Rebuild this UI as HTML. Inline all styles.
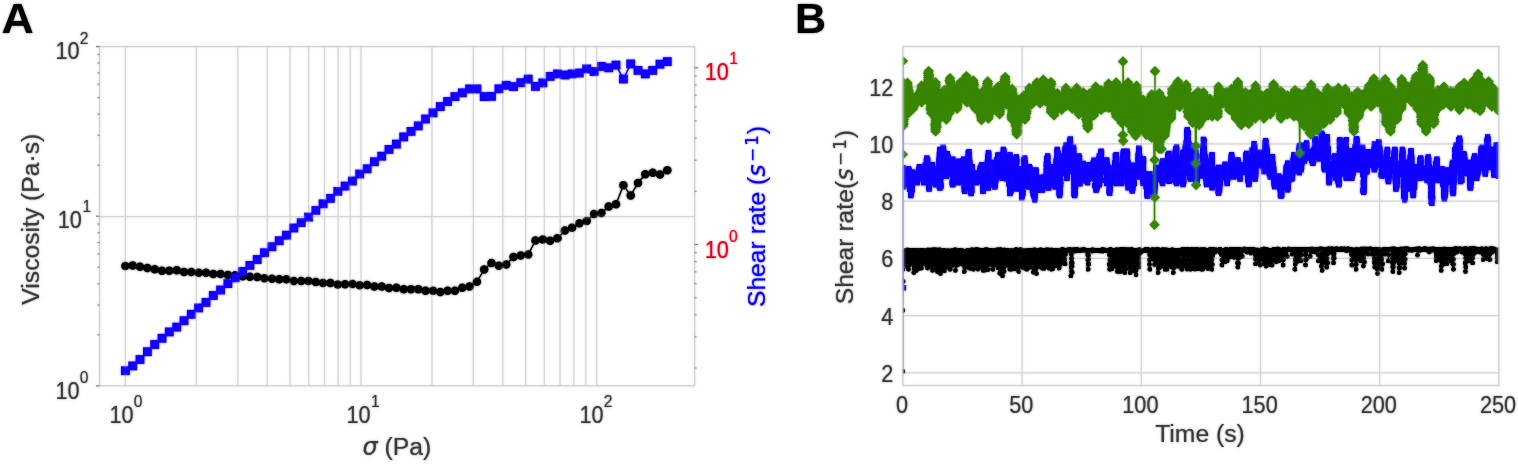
<!DOCTYPE html>
<html lang="en">
<head>
<meta charset="utf-8">
<title>Viscosity and shear rate figure</title>
<style>
html,body{margin:0;padding:0;background:#fff;}
body{width:1518px;height:464px;overflow:hidden;}
svg{display:block;}
</style>
</head>
<body>
<svg width="1518" height="464" viewBox="0 0 1518 464">
<defs><filter id="soft" x="0" y="0" width="1518" height="464" filterUnits="userSpaceOnUse"><feGaussianBlur stdDeviation="0.8"/></filter></defs>
<rect width="1518" height="464" fill="#fff"/>
<g id="fig">
<g id="panelA">
<path d="M125.4 46.6V385.8M196.3 46.6V385.8M237.8 46.6V385.8M267.2 46.6V385.8M290.1 46.6V385.8M308.7 46.6V385.8M324.5 46.6V385.8M338.2 46.6V385.8M350.2 46.6V385.8M361 46.6V385.8M431.9 46.6V385.8M473.4 46.6V385.8M502.8 46.6V385.8M525.7 46.6V385.8M544.3 46.6V385.8M560.1 46.6V385.8M573.8 46.6V385.8M585.8 46.6V385.8M596.6 46.6V385.8M99.5 216.7H694.6" fill="none" stroke="#d6d6d6" stroke-width="1.2"/>
<polyline fill="none" stroke="#000" stroke-width="1.4" points="125.4,265.9 132.7,265.5 140,266.7 147.4,268.1 154.7,269.3 162,270.7 169.3,270.7 176.7,270.3 184,271.9 191.3,271.9 198.6,272.8 206,272.8 213.3,274.1 220.6,274.1 227.9,275 235.2,275.3 242.6,276.2 249.9,276.7 257.2,277.1 264.5,278.3 271.9,278.8 279.2,279.3 286.5,279.3 293.8,280.9 301.2,280.9 308.5,280.9 315.8,281.9 323.1,283.1 330.4,283 337.8,284.4 345.1,284.3 352.4,283.9 359.7,285.3 367.1,285 374.4,286.6 381.7,286.6 389,287.9 396.4,287.7 403.7,289.3 411,289.3 418.3,289.3 425.6,290.7 433,290.7 440.3,292 447.6,290.7 454.9,290.7 462.3,287.7 469.6,286.6 476.9,281.8 484.2,269.4 491.5,263 498.9,265.7 506.2,264.4 513.5,256.9 520.8,255.6 528.2,254.5 535.5,240.5 542.8,239.6 550.1,240.7 557.5,238.3 564.8,230.6 572.1,227.8 579.4,223.2 586.7,221.1 594.1,213.9 601.4,212.9 608.7,206.6 616,204.2 623.4,185.2 630.7,195.4 638,183 645.3,174.2 652.7,172.8 660,174.6 667.3,170.3"/>
<g fill="#000"><circle cx="125.4" cy="265.9" r="4.25"/><circle cx="132.7" cy="265.5" r="4.25"/><circle cx="140" cy="266.7" r="4.25"/><circle cx="147.4" cy="268.1" r="4.25"/><circle cx="154.7" cy="269.3" r="4.25"/><circle cx="162" cy="270.7" r="4.25"/><circle cx="169.3" cy="270.7" r="4.25"/><circle cx="176.7" cy="270.3" r="4.25"/><circle cx="184" cy="271.9" r="4.25"/><circle cx="191.3" cy="271.9" r="4.25"/><circle cx="198.6" cy="272.8" r="4.25"/><circle cx="206" cy="272.8" r="4.25"/><circle cx="213.3" cy="274.1" r="4.25"/><circle cx="220.6" cy="274.1" r="4.25"/><circle cx="227.9" cy="275" r="4.25"/><circle cx="235.2" cy="275.3" r="4.25"/><circle cx="242.6" cy="276.2" r="4.25"/><circle cx="249.9" cy="276.7" r="4.25"/><circle cx="257.2" cy="277.1" r="4.25"/><circle cx="264.5" cy="278.3" r="4.25"/><circle cx="271.9" cy="278.8" r="4.25"/><circle cx="279.2" cy="279.3" r="4.25"/><circle cx="286.5" cy="279.3" r="4.25"/><circle cx="293.8" cy="280.9" r="4.25"/><circle cx="301.2" cy="280.9" r="4.25"/><circle cx="308.5" cy="280.9" r="4.25"/><circle cx="315.8" cy="281.9" r="4.25"/><circle cx="323.1" cy="283.1" r="4.25"/><circle cx="330.4" cy="283" r="4.25"/><circle cx="337.8" cy="284.4" r="4.25"/><circle cx="345.1" cy="284.3" r="4.25"/><circle cx="352.4" cy="283.9" r="4.25"/><circle cx="359.7" cy="285.3" r="4.25"/><circle cx="367.1" cy="285" r="4.25"/><circle cx="374.4" cy="286.6" r="4.25"/><circle cx="381.7" cy="286.6" r="4.25"/><circle cx="389" cy="287.9" r="4.25"/><circle cx="396.4" cy="287.7" r="4.25"/><circle cx="403.7" cy="289.3" r="4.25"/><circle cx="411" cy="289.3" r="4.25"/><circle cx="418.3" cy="289.3" r="4.25"/><circle cx="425.6" cy="290.7" r="4.25"/><circle cx="433" cy="290.7" r="4.25"/><circle cx="440.3" cy="292" r="4.25"/><circle cx="447.6" cy="290.7" r="4.25"/><circle cx="454.9" cy="290.7" r="4.25"/><circle cx="462.3" cy="287.7" r="4.25"/><circle cx="469.6" cy="286.6" r="4.25"/><circle cx="476.9" cy="281.8" r="4.25"/><circle cx="484.2" cy="269.4" r="4.25"/><circle cx="491.5" cy="263" r="4.25"/><circle cx="498.9" cy="265.7" r="4.25"/><circle cx="506.2" cy="264.4" r="4.25"/><circle cx="513.5" cy="256.9" r="4.25"/><circle cx="520.8" cy="255.6" r="4.25"/><circle cx="528.2" cy="254.5" r="4.25"/><circle cx="535.5" cy="240.5" r="4.25"/><circle cx="542.8" cy="239.6" r="4.25"/><circle cx="550.1" cy="240.7" r="4.25"/><circle cx="557.5" cy="238.3" r="4.25"/><circle cx="564.8" cy="230.6" r="4.25"/><circle cx="572.1" cy="227.8" r="4.25"/><circle cx="579.4" cy="223.2" r="4.25"/><circle cx="586.7" cy="221.1" r="4.25"/><circle cx="594.1" cy="213.9" r="4.25"/><circle cx="601.4" cy="212.9" r="4.25"/><circle cx="608.7" cy="206.6" r="4.25"/><circle cx="616" cy="204.2" r="4.25"/><circle cx="623.4" cy="185.2" r="4.25"/><circle cx="630.7" cy="195.4" r="4.25"/><circle cx="638" cy="183" r="4.25"/><circle cx="645.3" cy="174.2" r="4.25"/><circle cx="652.7" cy="172.8" r="4.25"/><circle cx="660" cy="174.6" r="4.25"/><circle cx="667.3" cy="170.3" r="4.25"/></g>
<rect x="99.5" y="46.6" width="595.1" height="339.2" fill="none" stroke="#d2d2d2" stroke-width="1.3"/>
<polyline fill="none" stroke="#0a00ff" stroke-width="1.4" points="125.4,370.7 132.7,365.9 140,359.5 147.4,351.7 154.7,344.5 162,338.3 169.3,331.9 176.7,327.1 184,320.7 191.3,314.3 198.6,307.9 206,302.4 213.3,295.5 220.6,290 227.9,283.6 235.2,277.8 242.6,271.4 249.9,265.4 257.2,259.5 264.5,252.7 271.9,246.7 279.2,240.7 286.5,235.2 293.8,228 301.2,222.5 308.5,217.1 315.8,210.5 323.1,203.8 330.4,198.4 337.8,191.4 345.1,186.1 352.4,181 359.7,174 367.1,168.8 374.4,161.7 381.7,156.2 389,149.4 396.4,144.1 403.7,136.9 411,131.4 418.3,125.9 425.6,119 433,112.8 440.3,106.6 447.6,101.5 454.9,96.6 462.3,92.8 469.6,88.9 476.9,88.9 484.2,96.6 491.5,96.4 498.9,88.8 506.2,85.3 513.5,86.6 520.8,82.7 528.2,79.1 535.5,86.4 542.8,82.9 550.1,76.4 557.5,73.9 564.8,75 572.1,73.9 579.4,73 586.7,68.9 594.1,71.5 601.4,66.4 608.7,67.8 616,65.1 623.4,79 630.7,63.9 638,70.4 645.3,73.9 652.7,70.4 660,64.2 667.3,61.6"/>
<g fill="#1200ff"><rect x="121" y="366.3" width="8.8" height="8.8"/><rect x="128.3" y="361.5" width="8.8" height="8.8"/><rect x="135.6" y="355.1" width="8.8" height="8.8"/><rect x="143" y="347.3" width="8.8" height="8.8"/><rect x="150.3" y="340.1" width="8.8" height="8.8"/><rect x="157.6" y="333.9" width="8.8" height="8.8"/><rect x="164.9" y="327.5" width="8.8" height="8.8"/><rect x="172.3" y="322.7" width="8.8" height="8.8"/><rect x="179.6" y="316.3" width="8.8" height="8.8"/><rect x="186.9" y="309.9" width="8.8" height="8.8"/><rect x="194.2" y="303.5" width="8.8" height="8.8"/><rect x="201.6" y="298" width="8.8" height="8.8"/><rect x="208.9" y="291.1" width="8.8" height="8.8"/><rect x="216.2" y="285.6" width="8.8" height="8.8"/><rect x="223.5" y="279.2" width="8.8" height="8.8"/><rect x="230.8" y="273.4" width="8.8" height="8.8"/><rect x="238.2" y="267" width="8.8" height="8.8"/><rect x="245.5" y="261" width="8.8" height="8.8"/><rect x="252.8" y="255.1" width="8.8" height="8.8"/><rect x="260.1" y="248.3" width="8.8" height="8.8"/><rect x="267.5" y="242.3" width="8.8" height="8.8"/><rect x="274.8" y="236.3" width="8.8" height="8.8"/><rect x="282.1" y="230.8" width="8.8" height="8.8"/><rect x="289.4" y="223.6" width="8.8" height="8.8"/><rect x="296.8" y="218.1" width="8.8" height="8.8"/><rect x="304.1" y="212.7" width="8.8" height="8.8"/><rect x="311.4" y="206.1" width="8.8" height="8.8"/><rect x="318.7" y="199.4" width="8.8" height="8.8"/><rect x="326" y="194" width="8.8" height="8.8"/><rect x="333.4" y="187" width="8.8" height="8.8"/><rect x="340.7" y="181.7" width="8.8" height="8.8"/><rect x="348" y="176.6" width="8.8" height="8.8"/><rect x="355.3" y="169.6" width="8.8" height="8.8"/><rect x="362.7" y="164.4" width="8.8" height="8.8"/><rect x="370" y="157.3" width="8.8" height="8.8"/><rect x="377.3" y="151.8" width="8.8" height="8.8"/><rect x="384.6" y="145" width="8.8" height="8.8"/><rect x="392" y="139.7" width="8.8" height="8.8"/><rect x="399.3" y="132.5" width="8.8" height="8.8"/><rect x="406.6" y="127" width="8.8" height="8.8"/><rect x="413.9" y="121.5" width="8.8" height="8.8"/><rect x="421.2" y="114.6" width="8.8" height="8.8"/><rect x="428.6" y="108.4" width="8.8" height="8.8"/><rect x="435.9" y="102.2" width="8.8" height="8.8"/><rect x="443.2" y="97.1" width="8.8" height="8.8"/><rect x="450.5" y="92.2" width="8.8" height="8.8"/><rect x="457.9" y="88.4" width="8.8" height="8.8"/><rect x="465.2" y="84.5" width="8.8" height="8.8"/><rect x="472.5" y="84.5" width="8.8" height="8.8"/><rect x="479.8" y="92.2" width="8.8" height="8.8"/><rect x="487.1" y="92" width="8.8" height="8.8"/><rect x="494.5" y="84.4" width="8.8" height="8.8"/><rect x="501.8" y="80.9" width="8.8" height="8.8"/><rect x="509.1" y="82.2" width="8.8" height="8.8"/><rect x="516.4" y="78.3" width="8.8" height="8.8"/><rect x="523.8" y="74.7" width="8.8" height="8.8"/><rect x="531.1" y="82" width="8.8" height="8.8"/><rect x="538.4" y="78.5" width="8.8" height="8.8"/><rect x="545.7" y="72" width="8.8" height="8.8"/><rect x="553.1" y="69.5" width="8.8" height="8.8"/><rect x="560.4" y="70.6" width="8.8" height="8.8"/><rect x="567.7" y="69.5" width="8.8" height="8.8"/><rect x="575" y="68.6" width="8.8" height="8.8"/><rect x="582.3" y="64.5" width="8.8" height="8.8"/><rect x="589.7" y="67.1" width="8.8" height="8.8"/><rect x="597" y="62" width="8.8" height="8.8"/><rect x="604.3" y="63.4" width="8.8" height="8.8"/><rect x="611.6" y="60.7" width="8.8" height="8.8"/><rect x="619" y="74.6" width="8.8" height="8.8"/><rect x="626.3" y="59.5" width="8.8" height="8.8"/><rect x="633.6" y="66" width="8.8" height="8.8"/><rect x="640.9" y="69.5" width="8.8" height="8.8"/><rect x="648.3" y="66" width="8.8" height="8.8"/><rect x="655.6" y="59.8" width="8.8" height="8.8"/><rect x="662.9" y="57.2" width="8.8" height="8.8"/></g>
<path d="M96 385.9H99.5M96 216.2H99.5M96 46.6H99.5M97.5 334.8H99.5M97.5 305H99.5M97.5 283.8H99.5M97.5 267.3H99.5M97.5 253.9H99.5M97.5 242.5H99.5M97.5 232.7H99.5M97.5 224H99.5M97.5 165.2H99.5M97.5 135.3H99.5M97.5 114.1H99.5M97.5 97.7H99.5M97.5 84.2H99.5M97.5 72.9H99.5M97.5 63H99.5M97.5 54.4H99.5M694.6 244.5H698.1M694.6 67.8H698.1M694.6 368H696.6M694.6 336.9H696.6M694.6 314.8H696.6M694.6 297.7H696.6M694.6 283.7H696.6M694.6 271.9H696.6M694.6 261.6H696.6M694.6 252.6H696.6M694.6 191.3H696.6M694.6 160.2H696.6M694.6 138.1H696.6M694.6 121H696.6M694.6 107H696.6M694.6 95.2H696.6M694.6 84.9H696.6M694.6 75.9H696.6" fill="none" stroke="#707070" stroke-width="1.0"/>
<g font-family="'Liberation Sans', Arial, Helvetica, sans-serif" stroke-width="0.12" stroke-linejoin="round">
<text transform="translate(79.6,59.3) scale(0.89,1)" font-size="24.4" fill="#3c3c3c" stroke="#3c3c3c" text-anchor="end">10</text><text x="79.8" y="43.7" font-size="15.6" fill="#3c3c3c" stroke="#3c3c3c">2</text>
<text transform="translate(81.8,228) scale(0.89,1)" font-size="24.4" fill="#3c3c3c" stroke="#3c3c3c" text-anchor="end">10</text><text x="82.6" y="212.4" font-size="15.6" fill="#3c3c3c" stroke="#3c3c3c">1</text>
<text transform="translate(79.6,398.9) scale(0.89,1)" font-size="24.4" fill="#3c3c3c" stroke="#3c3c3c" text-anchor="end">10</text><text x="79.8" y="383.3" font-size="15.6" fill="#3c3c3c" stroke="#3c3c3c">0</text>
<text transform="translate(133.6,422.7) scale(0.89,1)" font-size="24.4" fill="#3c3c3c" stroke="#3c3c3c" text-anchor="end">10</text><text x="133.8" y="407.1" font-size="15.6" fill="#3c3c3c" stroke="#3c3c3c">0</text>
<text transform="translate(370.6,422.7) scale(0.89,1)" font-size="24.4" fill="#3c3c3c" stroke="#3c3c3c" text-anchor="end">10</text><text x="371" y="407.1" font-size="15.6" fill="#3c3c3c" stroke="#3c3c3c">1</text>
<text transform="translate(603.6,422.7) scale(0.89,1)" font-size="24.4" fill="#3c3c3c" stroke="#3c3c3c" text-anchor="end">10</text><text x="603.8" y="407.1" font-size="15.6" fill="#3c3c3c" stroke="#3c3c3c">2</text>
<text transform="translate(728.8,79.8) scale(0.89,1)" font-size="24.4" fill="#e8001e" stroke="#e8001e" text-anchor="end">10</text><text x="729.2" y="64.2" font-size="15.6" fill="#e8001e" stroke="#e8001e">1</text>
<text transform="translate(728.8,257.8) scale(0.89,1)" font-size="24.4" fill="#e8001e" stroke="#e8001e" text-anchor="end">10</text><text x="729" y="242.2" font-size="15.6" fill="#e8001e" stroke="#e8001e">0</text>
<text x="396.8" y="455.3" font-size="24.7" fill="#3c3c3c" stroke="#3c3c3c" text-anchor="middle"><tspan font-style="italic" font-family="'DejaVu Sans', 'Liberation Sans', sans-serif" font-size="24.0">σ</tspan> (Pa)</text>
<text transform="translate(39.4,219.2) rotate(-90)" font-size="24.7" fill="#3c3c3c" stroke="#3c3c3c" text-anchor="middle">Viscosity (Pa·s)</text>
<text transform="translate(765.2,216.5) rotate(-90)" font-size="24.7" fill="#0a00ff" stroke="#0a00ff" text-anchor="middle">Shear rate (<tspan font-family="'DejaVu Sans', 'Liberation Sans', sans-serif" font-style="italic" font-size="24.0">s</tspan><tspan font-family="'DejaVu Sans', 'Liberation Sans', sans-serif" dx="2.3" dy="-7" font-size="16.8">−</tspan><tspan font-family="'DejaVu Sans', 'Liberation Sans', sans-serif" dx="2.2" font-size="16.8">1</tspan><tspan dx="0.8" dy="7">)</tspan></text>
</g>
</g>
<g id="panelB">
<path d="M1022.1 46.5V385.5M1141.3 46.5V385.5M1260.5 46.5V385.5M1379.7 46.5V385.5M902.9 372.8H1498.9M902.9 315.6H1498.9M902.9 258.3H1498.9M902.9 201.1H1498.9M902.9 143.8H1498.9M902.9 86.6H1498.9" fill="none" stroke="#d6d6d6" stroke-width="1.2"/>
<clipPath id="clipB"><rect x="902.9" y="46.5" width="596" height="339"/></clipPath>
<defs><marker id="mD" markerUnits="userSpaceOnUse" markerWidth="12" markerHeight="12" refX="6" refY="6" viewBox="0 0 12 12"><path d="M6 0.8L11.2 6L6 11.2L0.8 6Z" fill="#388600"/></marker><marker id="mS" markerUnits="userSpaceOnUse" markerWidth="6" markerHeight="6" refX="3" refY="3" viewBox="0 0 6 6"><rect x="0.3" y="0.3" width="5.4" height="5.4" fill="#1200ff"/></marker><marker id="mC" markerUnits="userSpaceOnUse" markerWidth="5" markerHeight="5" refX="2.5" refY="2.5" viewBox="0 0 5 5"><circle cx="2.5" cy="2.5" r="2.4" fill="#000"/></marker></defs>
<g clip-path="url(#clipB)">
<path d="M902.9 371.4L902.9 310.4L903.2 281.5L902.9 255.3L903.2 260L902.9 264.6L902.9 269.3L903.6 264.3L903.4 259.8L903.1 254.3L903.5 251L905.2 255L904.6 259.3L904.7 263.7L905.8 254.8L905.6 250.5L906.9 254.7L907.1 258.8L906.8 262.9L907.4 267L907.8 263.1L907.3 258.1L906.9 254.8L907.4 249.8L908.5 255.3L908.4 260L908.5 264.6L908.5 269.3L909.6 264.8L908.9 259.1L908.9 254.8L909.1 250.1L910.1 250.7L911.1 254.7L911.4 258.8L911 262.9L911.3 259.3L912.1 255.5L911.7 250.7L912.8 250L914.1 255L914.1 259.4L914.2 263.8L914 268.2L913.8 272.6L914.9 268.4L914 264L914.5 258.4L915 255.1L914.5 250.9L915.2 251.3L916.2 255.6L916.5 260.6L915.5 265.6L916.4 270.6L916.6 265.8L916.8 260.3L916.3 256.2L916.7 250.1L917.7 255.9L917.9 261.2L918.9 255.7L918.4 251.2L919.6 255L919.2 259.5L919.6 263.9L919.2 268.4L919.8 259.4L919.8 255.8L919.8 250.4L920.6 251.4L921.6 255L920.8 259.4L921.2 263.8L921.4 268.2L922.3 263.7L921.9 258.5L922.4 255.2L922.1 250.2L923 250.7L924.1 254.4L923.5 258.3L924.3 262.2L924.8 258L924.6 250.6L925.3 256.1L925.1 261.6L925.5 256.3L925.6 251.4L926.8 255.4L926.8 260.2L926.6 265.1L927 259.7L926.7 256.1L926.9 250.7L927.6 254.9L927.6 259.3L927.4 263.7L927.5 268.1L928 263.2L927.9 260.3L928.2 255.6L928.1 249.9L928.7 256L928.6 261.5L929.2 255.5L929.2 251.3L930 254.6L929.7 258.7L930.2 262.7L930.1 266.8L929.5 263L930.2 258.3L930.1 253.7L930.3 250.4L931.2 249.8L932.4 255.5L932.6 260.5L932.2 265.4L932.5 270.4L933.1 264.7L932.9 256.1L932.8 250.7L933.6 249.7L934.4 251.3L935.2 255.2L935.4 259.8L935.5 264.5L935.5 269.2L936.2 265L935.9 259.7L936.4 255.1L935.8 249.7L937.4 254.7L937.5 258.9L937.1 263.1L937.1 267.3L937.4 271.5L938 267.8L937.4 263.6L938 258.2L937.8 251.3L939.2 254.8L938.8 259.2L938.9 263.5L938.3 267.8L938.8 272.2L939.3 268.3L939.6 264.3L939.2 260.1L939.2 255.4L939.3 249.6L940 251L941.2 255.1L941.1 259.8L940.9 264.4L941.2 269L940.5 273.6L941.8 263.6L941.5 260.2L941.4 255.2L941.4 251L943.3 255.3L943.5 260L943.1 264.7L943 269.5L943.5 265L943.4 259.3L943.6 255.6L943.5 250L944.4 254.6L944.2 258.7L944.2 262.8L944.3 266.9L944.3 270.9L945.1 267.8L945 262.3L944.8 258.9L944.9 254L944.8 251.1L945.6 255.4L945.3 260.3L945.6 265.2L945.6 260.9L946.5 254.8L946 250.8L947.1 255.3L946.6 260.1L946.7 264.9L946.9 260.6L947.2 251L947.5 254.7L947.3 258.8L947.7 263L947.8 267.2L948 263.6L947.5 258.2L948.3 254.5L948.1 250.6L949.3 255.2L949.6 259.9L950.1 264.6L950.2 269.3L949.6 264.2L950.2 260.4L949.8 255.1L950.1 250.9L951.2 254.4L952 258.3L951.4 262.2L952.1 257.7L952 253.6L952 250.6L952.6 255.4L952.9 260.4L953 265.3L953.5 260.3L953.2 255.6L953.2 250.6L954.1 254.6L954.1 258.8L953.3 263L954.1 259.4L954.3 255L954.3 250.4L955.1 249.7L955.8 255.5L955.9 260.4L956.4 265.4L955.4 270.4L956.9 261.2L956.8 254.7L956.5 250.7L957.7 255.1L957.8 259.7L957.8 264.4L958.6 259L958.4 254.9L958.5 250.6L959.2 255L959.2 259.5L959.1 264L960.1 258.9L959.7 250.2L960.9 254.8L960.7 259.2L960.9 263.5L960.8 259L961.1 255.1L961.2 250.6L962.2 255L962.2 259.5L961.9 264.1L962.3 260L962.7 250.6L963.6 251.1L965 254.7L964.8 258.9L965.1 263.1L964.7 267.3L964.3 271.5L965.6 262.2L965.3 259.4L965 254.7L965.2 251.3L966 251.1L967.4 254.6L967.3 258.8L967 262.9L967.8 259.6L967.9 253.9L967.6 250.2L968.2 254.7L969.2 258.9L969.1 263.1L968.3 267.3L969.2 262.7L969.7 258.7L969.7 253.9L969.4 251.1L970.1 254.9L970.1 259.4L969.9 263.8L970.2 268.3L970.2 263.8L970 255.4L970.6 250.6L971.6 255.6L971.3 260.8L972.1 256L971.8 249.6L973.4 255.2L973.3 259.9L973.5 264.6L973.4 269.3L973.9 264.2L973.4 260.4L973.8 250.8L974.5 249.9L975.2 250.2L976 254.3L976.1 258.2L976 262.1L976.3 257.7L976.8 255L976.6 249.5L977.4 254.7L977.3 258.9L977.2 263.2L977.3 267.4L977.5 259.5L978.1 255.1L977.8 250.7L978.2 255.1L978.4 259.7L978.6 264.3L978.1 269L978.6 259.9L978.9 255.1L978.8 249.8L979.6 254.6L980.1 258.7L980 262.9L979.9 267.1L980.2 255.4L980.2 250L981.1 254.5L981.2 258.5L981.2 262.5L981.4 258.7L981.5 254.4L981.5 250.4L983.1 255.4L983 260.4L983 265.4L983.2 270.4L984.3 259.9L983.2 254.8L983.5 250L984.8 255.3L984.8 260.2L985 265.1L984.8 270L985.5 265.8L985 259.6L985.5 254.5L985.5 249.7L986.6 255.2L986.8 260L986.8 264.8L987.7 259.1L986.9 249.7L987.7 255.2L987.9 260L987.7 264.8L988.1 269.6L988.4 264.2L988.3 256.1L988.2 251.1L988.9 255.2L988.5 260.1L988.8 264.9L989.4 255L989.1 250.8L989.8 254.6L989.9 258.8L989.8 263L990.1 258.4L990.2 254.7L990.2 250L991 251.2L991.7 250.2L993 255.1L992.6 259.9L992.9 264.6L992.8 269.3L993 265.5L993.3 259.3L993.2 255L993.2 251.2L994.3 255.1L994.4 259.9L994.1 264.6L994.8 259.2L995.3 255.6L994.8 250.5L995.6 255.2L995.5 260.1L995.8 265L996 256.1L996.3 250.9L997.2 255.2L997.3 260.1L997 264.9L997.3 260L997.5 249.6L997.7 254.7L998.3 259.1L997.9 263.4L998.2 267.7L998.5 263.3L998.5 258.5L998.7 254.8L998.5 251L999.9 255L999.9 259.5L1000.3 264.1L1000.2 268.7L999.8 273.3L1000.5 269.7L1000.4 264.9L1000.7 260L1001 254.1L1000.5 249.5L1001.3 250.1L1002.3 254.6L1001.8 258.8L1002.4 263.1L1002.5 267.3L1002.7 271.6L1002.5 275.8L1002.8 271L1002.6 267.4L1002.3 262.6L1003.5 259L1003 254.4L1002.9 250.4L1004.4 254.6L1004 258.8L1003.6 263L1004 267.2L1004 271.4L1004.3 262.5L1004.4 258.8L1004.5 254.3L1004.5 249.9L1006.7 254.7L1006 259.1L1005.7 263.4L1006.3 258.4L1007.2 255.4L1006.5 251L1007.1 255.4L1007.2 260.4L1007.8 265.4L1007.8 260.8L1007.8 250.3L1008.7 250.8L1009.9 255.1L1009.5 259.8L1010.5 264.6L1009.9 269.3L1010 259.2L1011.3 255L1010.4 251L1011.3 250.5L1012.5 255L1012.6 259.7L1012.2 264.3L1012.3 269L1013.2 263.9L1012.1 258.8L1012.9 255.1L1012.9 251.2L1013.3 255.5L1013.1 260.7L1013.5 265.9L1013.6 261.5L1013.9 250.8L1014.7 255L1014.9 259.6L1015.2 264.2L1014.8 268.8L1015.2 264.7L1015.8 258.6L1016.1 255.8L1015.4 250L1016.1 249.5L1016.9 251L1017.6 250.2L1018.5 254.6L1018.6 258.8L1018.2 263L1018.5 267.2L1018.7 271.5L1019.1 267.2L1018.8 263.2L1018.6 259.6L1019.2 253.9L1019 250.4L1019.8 251.1L1020.6 249.5L1021.5 255.2L1021.7 260L1021.5 264.9L1022.8 259.7L1021.9 254.6L1022.1 250.4L1023.7 254.7L1023.3 259L1023.5 263.3L1022.9 267.7L1023.7 262.6L1023.5 259.5L1023.9 250.7L1025.8 254.9L1025.1 259.5L1025.4 264.1L1025.4 268.7L1026.3 264.6L1025.9 259.5L1026 250.7L1027.3 255.1L1027 259.8L1027 264.6L1027 269.3L1028.2 264.1L1028.3 260.1L1027.7 254.4L1027.7 251L1028.6 250.1L1029.8 254.5L1029.8 258.7L1029.9 262.9L1029.7 267.1L1030.1 263.8L1030.1 259.6L1030.3 254.2L1030.2 250.7L1031 255.5L1031 260.7L1031.5 254.9L1031.5 250.3L1032.9 254.7L1032.5 259.2L1033 255.5L1033.3 250.8L1033.1 254.7L1033.8 259.1L1034 263.5L1033.9 267.9L1033.4 272.3L1033.8 268.4L1034.3 263.2L1033.7 259.3L1034.3 249.7L1036 255L1035.7 259.6L1035.8 264.3L1035.7 269L1036.5 273.6L1036.7 259.7L1036.4 255.8L1036.3 250.9L1037.5 254.4L1037.4 258.6L1038 262.7L1037.9 266.9L1038.6 263L1038.3 254L1038.1 250.4L1038.7 254.4L1038.4 258.5L1039.1 262.6L1038.5 266.7L1039 263.4L1039.1 259L1039.6 255.2L1039.2 250.5L1040.5 254.1L1040.2 257.9L1040.6 261.7L1040.4 257.4L1040.6 249.6L1041.3 250.6L1042.4 254.8L1041.6 259.3L1042.6 263.8L1042.3 268.2L1042.8 263.4L1042.8 258.9L1042.7 250.8L1043.5 250.4L1044.5 254.8L1044.4 259.3L1044.4 263.9L1044.1 268.4L1045 263.9L1045.3 260.1L1044.8 255.4L1044.9 250.6L1045.9 254.4L1046 258.5L1046.7 262.6L1046.5 266.8L1046.5 262.3L1045.9 257.7L1046.7 255.2L1046.7 249.6L1047.9 255.3L1048.1 260.3L1047.7 265.3L1048.4 261.2L1048.6 255.4L1048.5 249.8L1049.3 254.8L1049.2 259.2L1049.3 263.7L1049.1 268.2L1049.2 263.3L1049.9 255L1049.6 250.5L1050.8 255L1051.1 259.8L1051 264.6L1051.4 269.3L1051.3 254.9L1051.4 249.8L1052.8 254.8L1052.7 259.4L1053.2 264L1052.9 268.6L1053.3 263.9L1053.2 255.5L1053.3 250.4L1055 255.2L1054.7 260.1L1054.9 265L1054.9 259.4L1055.8 254.6L1055.3 250.4L1056.5 255.4L1056.3 260.6L1056.7 265.8L1056.8 255.1L1057.2 250.9L1057.5 254.5L1057.6 258.7L1057.5 263L1058.2 257.9L1057.6 254.7L1058.2 250.5L1059.1 254.7L1059.3 259.2L1059.6 263.7L1059.1 268.2L1060.1 264.7L1059.8 258.5L1060 255L1060 251L1061.3 254.5L1062.1 258.7L1061.3 263L1062.4 254.9L1062.1 249.5L1063.1 254.6L1062.6 259L1063.4 253.9L1063.2 249.6L1063.9 250.1L1064.7 254.8L1064.9 259.4L1065.1 263.9L1064.7 259.3L1065.6 254.3L1065.4 250.6L1066.1 250.5L1066.8 250.5L1067.5 249.8L1068.3 249.9L1069 250.5L1069.7 249.4L1070.4 249.9L1071.4 254.5L1071.3 258.7L1071.3 263L1071.1 267.3L1071.5 271.5L1070.9 275.8L1072.2 272.5L1072 266.3L1072.1 262.8L1071.9 258.5L1071.8 250L1072.6 249.7L1073.3 250.2L1074 250.9L1074.7 251L1075.4 249.5L1076.2 249.6L1076.9 249.4L1077.6 249.6L1078.3 250.9L1079.1 250.6L1079.8 250.7L1080.5 250.7L1081.2 249.9L1082 250L1082.7 249.9L1083.4 250.2L1084.1 249.4L1084.8 250.2L1085.6 250.1L1086.3 250.3L1087 250.9L1087.7 255L1087.8 259.7L1088.3 264.5L1088.1 269.3L1088.6 263.8L1088.6 259.3L1088.5 255.5L1088.4 250.2L1089.1 251L1089.8 250.5L1090.5 250.2L1091.2 250.8L1091.9 251L1092.6 249.6L1093.3 250.9L1094 250.9L1094.8 250.3L1095.5 250.2L1096.2 250.1L1096.9 250.6L1097.6 250.3L1098.3 250.3L1099 250.9L1099.7 250.8L1100.4 251L1101.1 250L1101.8 250.5L1102.5 249.4L1103.2 251L1103.9 250.1L1104.6 249.9L1105.3 250.5L1106 250L1106.7 250.2L1107.4 250.2L1108.1 250.6L1108.8 250L1109.5 254.9L1109.9 259.7L1109.2 264.5L1109.7 269.3L1110 264.8L1110.2 259.3L1109.8 255.3L1110.2 249.5L1111 249.6L1111.9 254.8L1111.6 259.4L1111.7 264.1L1111.8 268.7L1112.7 263.7L1112.6 259.3L1112.5 250.7L1113.6 254.1L1113.9 258L1113.7 262L1113.8 266L1114.3 262.1L1114.2 259L1114.2 254.3L1114.3 250.8L1115.2 254L1114.9 257.8L1115.2 261.7L1115.9 256.9L1115.9 253.8L1115.6 250L1116.3 249.6L1117.3 254.4L1117.3 258.6L1117.4 262.9L1117 267.2L1117.4 271.5L1117.9 266.9L1118 259.4L1117.8 254.2L1117.7 249.8L1118.5 250.1L1119.3 249.9L1120.3 254.4L1119.8 258.7L1120.1 263L1120.3 267.3L1120.2 271.6L1120.4 267.1L1120.7 263.8L1120.7 258L1120.6 255.2L1120.8 249.3L1121.9 254.3L1122.1 258.5L1122.1 262.7L1122.2 266.9L1122.6 271.1L1123 266.2L1122.4 262.8L1121.9 258.1L1122.3 254.5L1122.6 249.7L1123.6 249.5L1125 254.6L1125 259.1L1125 263.6L1124.8 268.1L1124.7 272.6L1125.2 268.6L1125 263.8L1125.8 258.3L1125.3 249.6L1126.3 254.7L1126.1 259.3L1126.3 263.9L1125.9 268.5L1127.5 263.9L1126.8 258.6L1126.9 249.7L1128.2 254.6L1128.3 259.2L1128.4 263.8L1129.2 258.5L1128.8 254.2L1128.8 249.7L1129.7 254.6L1129.8 259.1L1130.1 263.7L1129.7 268.2L1130.1 272.7L1130.6 263.5L1130.4 258.6L1130.2 254.4L1130.4 250.9L1131.2 254.1L1131.1 258.2L1131.4 262.2L1130.9 266.3L1131 253.3L1131.6 249.2L1133.1 254.2L1133.5 258.4L1133.1 262.6L1132.9 266.7L1133.4 270.9L1133.8 262.9L1133.2 257.8L1133 253.3L1133.5 250.8L1134.4 250.2L1135.6 255L1135 259.9L1135.6 264.8L1135.5 269.8L1136 274.7L1136 270.6L1136.1 264.2L1135.7 258.9L1136 255.4L1136.1 250.5L1136.9 250L1137.7 250L1139.1 254.3L1138.9 258.6L1138.8 262.9L1138.9 267.2L1138.9 263L1139.1 254.6L1139.3 249.5L1140 250.3L1141.3 252.1L1141.4 250.7L1142.2 250.9L1142.9 250.6L1143.6 250L1144.3 249.9L1145 250.7L1145.8 249.4L1146.5 250.4L1147.2 249.5L1147.9 249.3L1148.6 250.7L1149.6 254.8L1149.5 259.7L1149.5 264.5L1149.8 269.3L1150.1 254.7L1150.1 250.3L1150.8 250L1151.6 249.9L1152.8 254.5L1152.5 258.9L1153.3 255.1L1153 249.4L1154.4 254.9L1154.5 259.8L1154.6 264.6L1155.3 258.9L1154.8 255.4L1154.9 250.8L1155.7 255.6L1155.7 261.2L1156.2 255.2L1156.2 250.4L1157.1 249.2L1158.2 254.5L1157.9 259L1158.2 263.5L1158.2 268L1158.1 272.6L1159 268.1L1158.4 259.4L1158.7 249.9L1159.6 249.8L1160.7 254.1L1160.5 258.2L1160.9 262.4L1160.8 266.5L1161.4 262.9L1161.4 258.3L1161 253.6L1161.2 250.3L1162.2 255.5L1162.6 261L1163.1 254.9L1163 249.5L1163.7 250.7L1164.5 254.8L1165.1 259.7L1164.9 264.5L1165 269.3L1165.3 264.7L1164.5 259.3L1165.5 255.2L1165.2 250.3L1166.1 249.7L1167.2 254.8L1166.7 259.6L1167.1 264.4L1166.8 269.2L1167.8 264.3L1168 260.5L1167.7 254.4L1167.7 250.8L1168.5 253.9L1168.6 257.8L1168.6 261.7L1169.4 258.7L1169.7 254.8L1169.2 250.2L1170.6 254.1L1170.5 258.3L1170.8 262.4L1170.7 266.6L1171 262.9L1171.2 257.6L1171.2 250.5L1172.2 249.7L1173.2 254.5L1173.2 259L1173 263.5L1173.4 268L1173.3 272.6L1173.9 267.4L1173.9 262.8L1173.7 258.4L1173.3 255.5L1173.8 250.7L1174.5 250.4L1175.8 254.2L1175.7 258.5L1175.4 262.8L1175.5 259L1175.4 254.2L1175.9 250.1L1176.4 254.8L1176.4 259.6L1176.9 264.3L1177.1 259.5L1177.5 254.7L1177 250.5L1178 254L1177.5 258.1L1177.4 262.2L1178.1 266.3L1178.6 261.4L1178.3 254L1178.4 250.7L1179 254.8L1179.1 259.6L1179.4 254L1179.8 250.8L1180.7 250.2L1182.2 254.8L1182 259.6L1181.7 264.5L1181.7 269.3L1182.4 263.5L1182.8 260.4L1182.3 254.1L1182.4 249.2L1183.1 249.8L1183.8 249.2L1184.6 253.9L1184.4 257.9L1185.3 261.9L1184.7 265.9L1185.4 261.2L1185.2 258.2L1184.7 253.8L1185.3 250.5L1186.7 254.7L1186.9 259.5L1186.4 264.2L1186.9 269L1187.8 265.1L1187.1 258.5L1187.4 253.7L1187.3 249.1L1187.9 255L1188 260L1188.1 254.6L1188.4 250.4L1189.4 250.6L1190.5 254.8L1190.3 259.6L1190.6 264.5L1190.4 269.3L1191 264.1L1191.1 260.4L1191 249.3L1191.9 250.3L1193.3 254.7L1193.1 259.4L1192.8 264.2L1193.4 268.9L1193.2 264L1193.8 259.6L1193.7 254.3L1193.6 249.4L1194.6 254.7L1194.7 259.5L1195 264.3L1194.8 269L1195 260.1L1195.3 250.4L1195.9 253.9L1196.3 258L1196.2 262L1196.8 257.7L1196.9 254L1196.6 249.1L1197.1 254.7L1197.1 259.4L1196.7 264.2L1197.3 268.9L1197.6 264.4L1197.3 258.7L1197.4 254.1L1197.7 250.2L1198.1 254.4L1198.6 258.9L1198.4 263.4L1198.9 267.9L1199.4 262.7L1198.4 259L1198.9 255.3L1198.8 250.2L1199 254.5L1199.4 259.1L1199.4 263.7L1199.3 268.3L1200.2 263.4L1199.7 254.6L1199.9 249.6L1201.5 254.8L1201.5 259.6L1201.5 264.5L1201.5 269.3L1202.1 263.7L1201.8 259.3L1201.6 254.6L1201.8 249.7L1203.7 254.7L1203 259.5L1203 264.3L1202.9 269.2L1203.3 265.3L1204 259.9L1203 254.2L1203.6 249.4L1205.8 254.7L1205 259.5L1205 264.2L1205.8 259.3L1205.6 254.4L1205.6 249.9L1206.9 254.2L1206.5 258.5L1206.5 262.9L1207 267.2L1207 263.1L1207.1 258.7L1207 250.4L1208.1 254.6L1208.3 259.2L1208.2 263.9L1208.3 268.6L1208.6 263.5L1209.1 259.8L1209 254.9L1208.7 250.7L1210.3 255.1L1210.1 260.3L1209.8 265.5L1210.6 259.7L1210.4 249L1211.1 250.5L1212.3 254.7L1212 259.6L1212.3 264.5L1211.8 269.3L1212.8 255.6L1212.6 249L1213.4 249.9L1214.3 250.3L1215.3 252.1L1215.8 249.7L1216.5 250.6L1217.2 250.1L1218 250.5L1218.7 250.2L1220 252.1L1220.1 249.2L1220.8 250.1L1221.5 254.9L1221.9 260L1221.9 265L1222.6 253.9L1222.3 250L1223.3 253.9L1223.3 258L1223.5 262.1L1223.7 253.6L1223.9 250.3L1224.7 253.9L1224.9 257.9L1225 261.9L1225.2 250.7L1226.1 249.1L1227.2 255.3L1227.2 260.7L1227.9 255.8L1227.7 250.1L1228.9 253.5L1229.3 257.2L1229.7 253.8L1229.6 250.1L1230.5 249.2L1231.3 256.4L1232 250.7L1232.8 249.3L1233.9 253.6L1233.8 257.3L1234.3 252.7L1234.3 250.1L1235.2 255.9L1235.7 249.1L1236.7 249.9L1238 254.2L1238.2 258.5L1237.5 262.8L1237.9 267.2L1238.5 263.4L1237.7 257.8L1238 254.8L1238.4 249.3L1239.7 253.7L1239.5 257.5L1240.4 253.6L1240.3 249.4L1241.2 250.2L1242.3 256.4L1242.7 250.7L1243.5 250.1L1244.2 248.9L1244.9 250.2L1245.6 250.2L1246.8 252.1L1247.1 250.2L1247.8 249.2L1248.5 250.6L1249.2 249.4L1249.9 250.3L1250.9 253.2L1251.4 249L1252.5 251.8L1253 249.1L1254 249.4L1255.1 254.5L1255.6 259.2L1255.5 263.9L1255.5 258.4L1255.7 254.1L1255.7 250.4L1256.6 250.2L1257.4 249.9L1258.7 255.4L1259 261L1259 256L1259 250.5L1260.5 254.8L1260.6 259.9L1260.3 265L1260.9 259.1L1261 253.9L1261.1 250.4L1261.8 249.3L1262.5 250.3L1263.4 254.5L1263.2 259.2L1264 263.9L1263.9 254.2L1264 248.9L1264.9 249L1266.3 253.8L1265.8 257.9L1265.4 262L1266.2 266.1L1266 262.7L1266.1 258.7L1267 253L1266.4 249L1267.5 250.3L1268.7 253.6L1268.6 257.4L1268.6 261.3L1268.9 258.1L1268.9 254L1269.2 250.3L1270.2 254.7L1270.8 259.7L1270.3 264.6L1270.7 260.6L1270.9 255.4L1271 250.4L1273 254.8L1271.6 259.9L1272.1 265L1272.8 260L1272.2 254.2L1272.9 249.9L1273.8 249.3L1275.1 254.6L1274.8 259.4L1275.7 254L1275.3 250.4L1276.3 253.7L1276.2 257.7L1276.3 261.7L1277.6 257.3L1276.9 254.4L1277 249L1277.8 248.9L1279.1 255.2L1279 260.7L1279.4 249.7L1280.3 250L1280.9 254L1281.3 258.3L1281.8 250.5L1283.2 254.8L1282.8 259.9L1283.1 265L1283.5 259.6L1283.8 255L1283.7 249L1284.4 249.7L1285.4 254.5L1285.8 250.4L1286.6 249.8L1287.3 256.4L1288 249.9L1288.7 248.9L1289.4 249.3L1290.2 249.7L1290.9 249.9L1292.1 254.2L1292.3 250.2L1293.2 249.3L1294 250.6L1294.8 254.6L1295.2 259.5L1295.1 264.4L1294.9 269.3L1295.5 259.4L1295.4 253.8L1295.5 249.1L1296.3 250.3L1297.1 253.6L1296.8 257.5L1297.1 261.5L1297.7 256.8L1298.4 253.7L1297.8 249.5L1299.2 255.2L1299.2 260.7L1299.7 254.5L1299.9 249.1L1300.7 255.2L1300.8 260.7L1301.3 254.4L1301.6 250.4L1302.3 249.3L1303 249L1303.7 249.4L1304.5 249.6L1305.3 254.8L1305.5 259.9L1305.5 265L1306.3 259.3L1306 254.1L1305.9 249.1L1306.6 249.9L1307.3 249.8L1308.1 249.1L1308.8 249.4L1310.2 256.4L1310.2 249L1311 249.8L1311.8 248.9L1312.6 251.8L1313.3 250.2L1314.1 250.2L1315.4 252.1L1315.6 249.2L1316.4 249.2L1317.3 249.5L1318.6 255.2L1318.3 260.7L1318.6 255L1318.8 249.3L1319.7 248.9L1320.5 248.9L1321.5 253.8L1321.6 257.9L1321.8 262.1L1321.4 266.2L1322.1 270.4L1322.7 263L1322.2 257.3L1322.1 248.9L1323.1 249L1324.5 254.5L1324.2 259.5L1324.8 250.1L1325.8 249.4L1327.2 254L1327 258.4L1326.8 262.8L1326.7 267.2L1327.7 262.7L1327.4 253.9L1327.4 249.2L1328.3 248.7L1329.1 250.1L1330.4 252.1L1330.7 250.4L1331.5 248.7L1332.4 248.9L1333.3 254L1333.1 258.4L1333.5 262.9L1334.3 258.2L1334 253.9L1333.9 249.5L1334.6 250.4L1335.3 249.7L1336 248.8L1336.7 248.7L1337.4 249.5L1338.1 249.1L1338.8 249.8L1339.5 249.7L1340.2 249.2L1341 248.7L1341.7 249.2L1342.4 249.9L1343.1 249.7L1343.8 248.9L1344.5 248.8L1345.2 249.8L1345.9 250.4L1346.6 250.3L1347.3 250L1348 248.7L1348.7 250L1349.4 249.1L1350.1 250.3L1350.8 249.2L1351.5 254.7L1351.8 259.9L1351.8 265L1352.2 259.6L1352.2 249.6L1353.3 254.3L1353.5 259.1L1354.5 255.2L1354 250L1354.9 249.9L1356.2 254.5L1356.1 259.4L1355.9 264.4L1356 269.3L1356.2 264.3L1356.1 259.6L1356.5 254.5L1356.5 249.3L1357.4 250.1L1358.5 254.1L1358.3 258.6L1359 249.7L1360.5 255.1L1360.5 260.7L1360.6 254.7L1360.8 250.2L1361.7 248.8L1362.5 250.3L1363.2 253.7L1363.5 257.8L1364 261.9L1363.4 266.1L1364.4 262L1363.6 258.2L1363.6 253.8L1364.1 248.9L1364.9 249L1365.9 252.8L1366.4 248.9L1367.8 254.2L1368.4 249.3L1369.2 249L1370.1 248.6L1371.5 254.2L1371.6 249.4L1372.5 249.3L1373.3 249.7L1374 253.9L1374 258.3L1374.4 262.7L1374.8 267.2L1374.8 262.1L1374.7 259.3L1374.4 253.1L1374.9 249.9L1375.7 249.3L1376.5 249L1377.5 254.3L1377 259.1L1378 264L1377.2 268.8L1377.6 273.6L1377.9 268.7L1377.8 263.1L1377.7 258.8L1378 254.3L1378.1 249.4L1379 249L1379.9 254.4L1379.9 259.4L1379.6 264.4L1381.6 258.7L1380.5 254.7L1380.6 249.9L1382 254.4L1381.7 259.4L1381.9 264.4L1381.8 269.3L1382.6 264L1382.4 249.8L1383.2 249.8L1384.1 249.3L1385.2 254.2L1385.6 249.2L1386.5 249.4L1387.3 250.2L1388.6 255.1L1388.2 260.7L1388.9 249.4L1389.6 250L1390.3 249.8L1391 249.2L1391.8 248.8L1392.9 253.9L1392.5 258.3L1392.4 262.7L1392.7 267.1L1392.9 271.5L1393.3 266.9L1393.6 262.7L1393.1 254.7L1393.2 249L1394 248.7L1394.9 249.1L1396 253.2L1395.8 256.9L1395.9 260.7L1396.5 257.9L1396.4 252.6L1396.4 250L1397.2 249.5L1398.1 250.1L1398.9 254.1L1399 258.7L1399.2 263.3L1399.2 267.9L1399.2 272.6L1399.7 267.6L1400.1 253.6L1399.6 249.8L1400.4 249.5L1401.2 248.9L1402.2 254L1402.2 258.5L1402 263L1403 257.9L1402.6 249.6L1403.5 248.8L1405 254.1L1404.3 258.8L1404.5 263.5L1404.6 268.2L1405.2 259.3L1405.1 254L1405 249.1L1405.7 248.6L1406.5 249L1407.2 248.7L1407.9 249.9L1408.6 249.1L1409.3 250.1L1410.1 249.8L1410.8 249.9L1411.5 250.3L1412.2 250.3L1412.9 249.7L1413.7 249.4L1414.4 249.4L1415.1 249.6L1415.8 249.3L1416.5 248.9L1417.5 255.3L1418 250L1418.7 248.8L1419.4 248.6L1420.2 250.3L1420.9 249.8L1421.7 249.6L1422.4 249.1L1423.2 249.1L1423.9 249.1L1424.6 248.5L1425.4 249.7L1426.1 248.9L1426.9 250L1427.6 250.2L1428.4 249.5L1429.4 252.1L1429.8 249.7L1430.5 248.8L1431.3 249.9L1432 249.8L1432.7 250L1433.4 248.6L1434.1 249.3L1434.9 250L1436.2 253.1L1436.1 256.9L1436.1 260.7L1436.2 252.6L1436.3 249.5L1437.2 249L1438.2 254.4L1438.2 259.5L1438.8 249.4L1439.5 249.3L1440.2 250L1441.2 253.5L1441.5 257.8L1441.7 262L1441.4 266.2L1441.2 270.4L1441.7 261.2L1441.7 257.6L1441.5 254.2L1441.7 249L1443.2 253.5L1443.2 257.6L1443.2 261.7L1443.4 257.7L1443.4 250.2L1444.5 254.1L1444.2 258.8L1444.2 263.6L1444.3 253.5L1444.7 248.8L1445.5 249.6L1446.2 254.2L1446.9 259.1L1446.7 263.9L1447.2 258.6L1447.1 253.4L1447.1 249.3L1447.9 249.3L1449.4 253.7L1449.2 258.1L1449.9 253.4L1449.5 249.7L1451.3 253.3L1450.6 257.2L1450.7 261.2L1451.2 256.3L1451.4 249.2L1453.3 254.3L1453.3 259.3L1452.9 264.3L1453.5 269.3L1453.4 264.3L1453.2 259.2L1453.4 253.9L1453.5 249.6L1454.2 249.5L1455 248.7L1455.7 249.4L1456.4 248.4L1457 252.1L1457.8 249.8L1458.5 249.5L1459.3 250.1L1460 248.7L1460.7 249.7L1461.8 252.1L1462.1 249.3L1462.9 250L1463.7 248.8L1464.5 248.9L1464.8 253.7L1465.6 258.2L1465.3 262.6L1465.7 267L1465.5 271.5L1465.4 262.9L1466 257.3L1466 253.4L1466 248.5L1466.8 250L1467.5 249.2L1468.2 249.9L1469.2 253.1L1469 256.9L1469.1 260.7L1469.6 256.9L1469.9 252.7L1469.7 249.6L1470.5 248.5L1471.4 249.5L1472.7 253.8L1472.3 258.3L1472.6 262.9L1472.6 258.1L1473.4 254.5L1472.9 248.5L1473.8 248.7L1474.6 248.8L1475.7 252.1L1476.1 248.8L1477.1 249.3L1478.2 251.4L1478.8 249L1480.2 252.1L1480.5 249.9L1481.3 248.9L1482.1 248.8L1483.1 254.4L1483.1 259.6L1483.9 254.2L1483.7 249.9L1484.5 249.6L1485.7 255.3L1486.1 248.6L1487.5 253.9L1487.2 258.6L1487.2 253.6L1487.7 249.4L1488.6 250L1489.8 254.4L1490 259.6L1490.2 248.9L1491 248.5L1491.8 249.3L1492.4 252.1L1493.4 248.7L1494.5 250.8L1495 249.9L1496 249.8L1497.2 253.4L1497 257.6L1497.3 261.8L1498 256.8L1497.5 254.2L1497.7 249.9" fill="none" stroke="#000" stroke-width="0.9" stroke-linejoin="round" marker-start="url(#mC)" marker-mid="url(#mC)" marker-end="url(#mC)"/>
<rect x="902.9" y="285.1" width="3.2" height="5.4" fill="#1200ff"/>
<path d="M903 167.7L902.9 169.3L902.9 170.9L902.9 172.5L902.9 174.1L902.9 175.7L902.9 177.3L903.3 179L902.9 180.6L903.3 182.2L903 183.8L903.1 185.4L903 187L903 185.5L904.3 184L904 182.4L904.8 180.9L904.8 179.4L906 177.9L905.9 176.4L907 174.9L908 173.3L907.8 171.8L907.3 170.3L908.6 168.8L909.2 170.4L909 171.9L909.3 173.5L909.3 175.1L909.7 176.7L909.8 178.3L909.5 179.8L909.2 181.4L909.7 183L910.2 184.6L909.3 186.1L910.2 187.7L909.6 189.3L910.9 190.9L911.3 192.5L911 194L910.8 195.6L910.8 194L911.4 192.5L911.8 190.9L912.1 189.3L912.1 187.7L912.1 186.2L911.4 184.6L911.9 183L912.3 181.5L912.3 179.9L911.6 178.3L912.5 176.7L912.4 175.2L912.9 173.6L912.9 172L913.7 173.5L913.6 175.1L914.5 176.6L915.5 178.1L915.6 179.6L916.6 181.2L917.2 182.7L917.1 181.1L917.4 179.5L918.3 177.9L918.1 176.3L918.1 174.7L919.2 173L918.6 171.4L919 169.8L919.2 168.2L919.4 166.6L921.1 168.2L920.5 169.8L921.1 171.4L921 173L921.9 174.7L922.5 176.3L922 177.9L923 179.5L924 181.1L923.7 182.7L924.6 181.1L924.1 179.5L925.1 177.9L924 176.4L924.8 174.8L924.8 173.2L924.3 171.6L925.2 170L924.5 168.5L924.8 166.9L925.2 165.3L925.5 167L925.4 168.6L926.6 170.3L926.3 172L926.7 173.7L926.3 172.1L926.9 170.5L926.8 169L926.4 167.4L926.6 165.8L927.2 164.3L927.2 162.7L926.3 161.1L927.3 159.6L926.9 158L927.5 159.6L927.7 161.1L927.1 162.7L927.1 164.2L927.5 165.8L927.4 167.3L927.6 168.9L927.6 170.5L927.8 172L927.8 173.6L928.2 175.1L928.3 176.7L928.3 178.2L928.3 179.8L929.2 181.4L929.1 182.9L929 184.5L928.6 186L929.3 187.6L929.1 189.1L929.1 187.6L929.4 186L929.3 184.5L930.3 182.9L929.3 181.3L928.9 179.8L929.8 178.2L929.8 176.6L929.4 175.1L930.3 176.7L929.1 178.3L930.1 179.9L930.9 181.5L930.7 180L930.5 178.4L931.3 176.9L931.7 175.3L932 173.8L932 172.2L931.8 170.7L932.6 169.1L932.2 167.6L931.1 166L932.3 164.5L932.5 166L932.5 167.6L933.2 169.2L933.2 170.7L933.4 172.3L934.4 173.9L933.8 175.4L933.8 177L934.7 178.6L935.1 180.1L935 181.7L935.3 183.3L935.6 184.8L935.4 183.2L935.2 181.6L935.6 180L935.6 178.4L936.6 176.8L936.1 175.2L936.9 173.6L936.4 172L936.1 170.4L936.6 168.8L936.9 170.4L937.1 172.1L937.7 173.7L936.5 175.4L937.4 177L937.9 178.6L937.6 180.3L938.1 181.9L938.3 183.6L938.2 181.9L939 180.3L939 178.7L937.7 177.1L938 175.4L938.4 173.8L938.8 172.2L938.8 170.5L938.7 168.9L939.3 167.3L939.4 165.7L939.2 164L939.1 162.4L939.3 160.8L939.1 159.2L939.8 157.5L939.9 155.9L939.3 154.3L940.3 152.6L939.8 151L939.9 149.4L940.2 151L939.9 152.6L939.8 154.2L940.2 155.8L939.5 157.4L939.8 159.1L939.4 160.7L940.1 162.3L939.8 163.9L939.7 165.5L939.7 167.1L940.1 168.7L940 170.3L939.8 172L939.7 173.6L940.6 175.2L940.5 176.8L939.4 178.4L940.4 180L940.1 181.6L940 183.2L940 184.8L939.3 186.5L939.9 188.1L941 186.5L941 184.9L940.3 183.4L940.4 181.8L940.6 180.2L940.3 178.6L941 177.1L940.8 175.5L940.5 173.9L940.9 172.4L941 170.8L941.1 169.2L941.3 167.7L941.9 166.1L941.6 164.5L941.2 162.9L942.6 161.4L941.9 159.8L942.8 158.2L942.4 156.7L942.7 155.1L942.3 153.5L942.8 151.9L942.7 150.4L942.9 148.8L943.1 147.2L943.5 148.8L943.3 150.5L944 152.1L943.2 153.7L943.6 155.3L944.3 156.9L944.6 158.5L945 160.1L945.4 161.7L945.1 163.3L945.4 164.9L945.4 166.6L945.5 168.2L945.6 169.8L945.8 171.4L945.7 173L946.1 174.6L946.3 176.2L946.7 174.6L946.7 173L947 171.4L946.5 169.8L946.6 168.2L947 166.6L946.5 165L946.6 163.3L947.3 161.7L947 160.1L947.5 158.5L947.3 156.9L947.2 155.3L947.4 153.7L947.1 155.3L948.1 156.9L947.7 158.5L947.5 160.1L947.3 161.7L947.5 163.3L948 164.9L948.7 166.5L948 168.2L948.6 169.8L948.6 171.4L948.7 173L947.5 171.4L948.5 169.8L949.4 168.3L948.4 166.7L949.9 165.1L949.6 163.5L949.1 162L949.9 160.4L950.9 162.1L950.3 163.8L951.3 165.5L950.9 167.3L950.8 169L951.4 170.7L952 169L952.5 167.4L952.5 165.7L951.7 164.1L952.6 162.4L952.1 160.7L952.8 159.1L952.5 160.7L953.3 162.3L952.2 163.9L953.8 165.5L952.1 167.1L952.2 168.7L953.1 170.4L952.7 172L952.7 173.6L952.4 175.2L953.1 176.8L952.8 178.4L952.7 180L952.4 181.6L952.1 183.2L952.8 184.8L953.1 183.3L952.6 181.7L953.6 180.1L954.4 178.5L954.8 177L954.7 175.4L954.2 173.8L955.9 172.3L956.3 170.7L956.4 169.1L957.2 167.5L957.5 166L956.7 164.4L957.7 162.8L958.2 161.2L957.9 162.9L958.8 164.5L958.6 166.2L958.2 167.8L958.4 169.5L958.5 171.1L957.9 172.8L958.1 174.4L958.1 176.1L958 177.7L958 179.4L958.2 181L958.2 182.7L958 181.1L958.4 179.5L959.5 178L960.2 176.4L960.7 174.8L959.6 173.2L960.8 171.7L960.7 170.1L961.2 168.5L961.6 167L962.3 165.4L962.7 163.8L961.8 162.2L962.9 160.7L963.6 159.1L964 160.7L963.7 162.3L963 163.9L963.3 165.5L963.5 167.1L964.3 168.8L964.6 170.4L963.5 172L964.2 173.6L963.9 175.2L964.4 176.8L964.1 178.4L963.8 180L964 181.6L964.1 183.2L965 184.9L964.1 186.5L964.7 188.1L964.2 189.7L964.7 191.3L964.5 189.7L965 188.1L964.9 186.5L966.1 184.9L966 183.4L965.2 181.8L966 180.2L966.6 178.6L965.7 177L966.2 175.4L967.1 173.8L966.3 172.2L967.1 170.6L967 169L967.3 167.4L966.9 165.9L967.5 164.3L967.5 162.7L968.6 161.1L968.3 159.5L968.3 157.9L968.4 156.3L968.8 154.7L968.1 153.1L969 151.5L968.6 153.2L968.7 154.8L968.8 156.4L968.6 158L969.5 159.6L969.2 161.2L970 162.8L969.5 164.4L969.5 166.1L969.9 167.7L970 169.3L969.8 170.9L970.2 172.5L970.6 174.1L970 175.7L970.8 177.3L970.2 178.9L970.7 180.6L970.5 182.2L970.4 183.8L970.8 185.4L970.3 187L970.2 188.6L970.9 190.2L970.9 191.8L971.1 193.5L970.7 191.9L972 190.3L971.4 188.7L971 187.1L971.6 185.6L971.7 184L971.3 182.4L971.5 180.8L970.9 179.3L971.8 177.7L972.5 176.1L972.3 174.5L972.3 172.9L971.7 171.4L971.6 169.8L972.4 168.2L972.2 166.6L972.4 168.3L972.4 169.9L972.5 171.6L973.2 173.2L973.3 174.9L973 176.5L973.3 178.2L972.9 179.8L973.8 181.5L973.6 179.8L974.6 178.1L974.5 176.4L974.7 174.8L975.4 173.1L975.7 174.7L976.2 176.3L975.6 177.9L976 179.5L976.2 181.1L976.5 182.7L977.9 181.2L977.8 179.6L977.9 178.1L977.7 176.6L979 175.1L979.4 173.6L979.5 172.1L979.7 170.5L980.3 169L980.3 167.5L981.2 166L981.9 164.5L981.7 166.1L981.6 167.6L981.9 169.2L981.4 170.8L982.6 172.4L982.1 173.9L981.8 175.5L982.7 177.1L982.6 178.7L982.3 180.3L982 181.8L982.6 183.4L982.8 185L983 186.6L983.2 188.1L983.2 189.7L983 191.3L982.5 189.8L983.3 188.2L982.6 186.7L983.9 185.2L983.8 183.6L984.2 182.1L983.9 180.6L984.1 179L984 177.5L983.3 175.9L984.4 174.4L984.7 172.9L986 174.4L985.8 175.9L985.5 177.3L986 178.8L986.4 180.3L986.5 181.8L986.3 180.2L986.7 178.6L986.9 176.9L986.7 175.3L987.2 173.7L987.6 172.1L987.5 170.5L987.4 168.8L987.3 167.2L987.8 165.6L987.4 164L987.4 162.3L988.3 160.7L987.8 159.1L987.5 157.5L988.4 155.9L988.5 154.2L988.4 152.6L988.8 154.2L988.3 155.8L988.8 157.5L988.3 159.1L987.9 160.7L988.2 162.3L988.4 163.9L987.9 165.5L988.2 167.1L988.4 168.7L988.1 170.3L988.3 172L988.3 173.6L988 175.2L988.4 176.8L988.5 178.4L987.5 180L988 181.6L988.6 183.2L988.5 184.8L987.6 186.5L988.4 188.1L988.5 186.5L989.1 185L989 183.4L989 181.9L988.8 180.4L989 178.8L988.6 177.3L989.1 175.7L990.1 174.2L989.3 172.7L989 171.1L989.7 169.6L989.6 168L989 169.7L991 171.3L990.5 173L990.4 174.6L990.5 176.2L990.9 177.9L990.7 176.3L991.3 174.8L991.4 173.2L991 171.7L992.2 170.1L991.8 168.5L991.7 167L992.7 165.4L992.8 163.9L992.7 162.3L992.6 164L992.7 165.6L993.5 167.3L993.1 168.9L993.5 170.5L994.1 172.2L993.2 173.8L993.2 175.5L993.6 177.1L993.9 178.8L994.2 180.4L994.8 182.1L994.4 183.7L995.3 185.3L994.8 187L995.1 185.4L994.3 183.8L995.3 182.2L995.8 180.5L996.1 178.9L995.5 177.3L995.9 175.7L997 174.1L996.3 172.5L996.1 170.9L996 169.3L996.6 167.7L997.1 166.1L996.6 164.4L997.8 162.8L997.1 161.2L996.8 159.6L998 158L997.9 156.4L998.1 154.8L998.1 156.4L998.8 158L998.2 159.6L998.9 161.2L998.5 162.8L999.5 164.4L999 166L999.2 167.6L999.5 169.2L999.4 170.8L999.8 169.4L1000.4 168L1000.5 166.6L1001.1 165.3L1001.5 166.9L1001.4 168.5L1001.3 170.2L1001.9 171.8L1002.1 173.5L1001.6 175.1L1002.1 176.7L1002.4 178.4L1001.8 176.8L1002.5 175.2L1002.9 173.5L1003.6 171.9L1002.8 170.3L1003.2 168.7L1003.4 167.1L1003.1 165.5L1002.2 163.9L1002.8 162.3L1003.2 160.7L1003.2 159L1003.2 157.4L1002.9 155.8L1002.5 154.2L1003.5 152.6L1003.9 151L1003.4 149.4L1003.4 150.9L1004 152.5L1003.8 154.1L1004.1 155.6L1004.1 157.2L1004.8 158.7L1004.3 160.3L1004.9 161.9L1005.3 163.4L1005.1 165L1004.8 166.5L1005.7 168.1L1005.6 169.6L1005.3 171.2L1005.9 172.8L1006.1 174.3L1006.6 175.9L1006.3 177.4L1006.7 179L1006.9 177.4L1007.4 175.8L1006.6 174.1L1007.9 172.5L1007.8 170.9L1007.6 169.3L1008.2 167.7L1008.8 166.1L1008.4 164.5L1008.6 162.8L1009.6 161.2L1009.9 159.6L1010.3 158L1009.7 156.4L1009.9 154.8L1009.5 156.4L1009.5 158L1009.8 159.6L1009.5 161.2L1010.1 162.8L1010.4 164.4L1009.5 166.1L1010.5 167.7L1009.6 169.3L1009.6 170.9L1009.4 172.5L1010.2 174.1L1009.9 175.7L1009.9 177.3L1008.8 179L1009.7 180.6L1010 182.2L1008.8 183.8L1010.7 185.4L1010 187L1010.4 188.6L1009.8 190.2L1010.3 191.8L1009.9 193.5L1010.5 191.9L1011.1 190.3L1009.8 188.8L1011.1 187.2L1009.9 185.6L1010.5 184.1L1010.4 182.5L1010.6 181L1009.9 179.4L1010.7 177.8L1010.4 176.3L1010.9 174.7L1011.2 173.1L1011.2 171.6L1011.2 170L1011.9 168.4L1011.5 166.9L1011.7 165.3L1012.1 163.8L1011.6 162.2L1011.9 163.8L1012.2 165.5L1012.7 167.1L1012.5 168.7L1013.4 170.4L1012.9 172L1013.3 173.6L1013.6 172.1L1013.9 170.6L1014.1 169.1L1014.5 167.5L1014.6 166L1014.1 164.5L1015.8 163L1015.4 161.5L1016.1 160L1015.7 158.4L1016.4 156.9L1016.6 158.5L1015.9 160.2L1017 161.8L1016.4 163.4L1016.2 165L1015.3 166.6L1015.5 168.2L1016.2 169.8L1016.1 171.4L1016.1 173L1016.2 174.6L1016.8 176.3L1016.2 177.9L1016.2 179.5L1016.1 181.1L1016 182.7L1016.5 184.3L1016.2 185.9L1016.2 187.5L1016.4 189.1L1016.8 187.6L1017.1 186L1017.7 184.4L1018 182.9L1017.5 181.3L1018.1 179.7L1019.1 178.2L1018.9 176.6L1019.6 175L1019.3 173.5L1019.1 171.9L1019.5 170.4L1020.7 168.8L1020.5 170.4L1020.6 172L1021.8 173.6L1021.2 175.2L1021.3 176.8L1021.4 178.4L1020.5 180.1L1021.2 181.7L1021.2 183.3L1022.1 184.9L1021.1 186.5L1020.8 188.1L1021.5 189.7L1021.5 191.3L1021.6 192.9L1021.8 194.5L1021.8 196.2L1021.8 197.8L1021.6 196.2L1021.8 194.6L1023.1 193L1022 191.4L1022.6 189.8L1022.1 188.2L1021.9 186.6L1023.1 185L1022.9 183.5L1023.5 181.9L1023.5 180.3L1023.3 178.7L1023 177.1L1024.2 175.5L1023.5 173.9L1024.5 172.3L1024 170.7L1024.2 169.1L1024.2 167.6L1024.3 166L1024.1 164.4L1025.2 162.8L1024.1 161.2L1023.9 159.6L1024.6 158L1024.8 159.6L1024.4 161.2L1025.1 162.8L1024.7 164.4L1025.2 165.9L1024.8 167.5L1024.5 169.1L1024.7 170.7L1025.1 172.3L1024.6 173.9L1024.6 175.5L1024.8 177.1L1025.1 178.6L1025.4 180.2L1025.1 181.8L1024.9 183.4L1025.7 182L1025.6 180.5L1026.7 179.1L1027.2 177.7L1026.6 176.3L1026.6 177.8L1027.2 179.3L1027.3 180.9L1027.7 182.4L1027.7 183.9L1027.8 185.5L1028.2 187L1027.9 185.4L1028.3 183.9L1028.6 182.3L1029.1 180.7L1029 179.2L1028.6 177.6L1028.6 176L1028.4 174.5L1029.3 172.9L1029.2 171.3L1029.5 169.8L1029.6 168.2L1029.3 166.6L1029.9 168.2L1029.9 169.8L1030 171.4L1030 173L1030.4 174.6L1031.1 176.1L1032.1 177.7L1031.3 179.3L1031.8 180.9L1033.2 182.5L1032.2 184.1L1032.3 185.7L1032.7 187.2L1032.9 188.8L1032.4 190.4L1033.8 192L1033 193.6L1033.8 195.2L1034.1 196.8L1034.7 198.3L1034.7 199.9L1034.7 198.3L1034.7 196.8L1034.6 195.2L1035 193.6L1034.9 192L1034.8 190.4L1034.6 188.8L1034.8 187.3L1035.3 185.7L1034.6 184.1L1035.4 182.5L1035.4 180.9L1035.9 179.4L1035.2 177.8L1035.2 176.2L1035.6 174.6L1035.5 173L1034.7 171.4L1035.8 169.9L1036.4 171.4L1036.1 173L1036.2 174.6L1035.9 176.1L1036.5 177.7L1036.4 179.3L1037.2 180.8L1037 182.4L1037.4 184L1036.5 185.6L1036.7 187.1L1037 188.7L1037.3 190.3L1037.4 188.7L1038.7 187.1L1038.5 185.4L1038.3 183.8L1038.9 182.2L1040.1 180.6L1039.6 179L1040.1 177.4L1040.6 179L1039.9 180.6L1040.7 182.2L1041.1 183.8L1041.3 185.4L1041.7 187L1042.1 188.6L1042.2 190.2L1042.9 188.6L1041.9 186.9L1042.8 185.3L1043.3 183.6L1043.3 181.9L1043.9 180.3L1043.6 178.6L1043.8 177L1044.3 178.6L1044.9 180.3L1045.9 181.9L1046.3 180.3L1045.6 178.6L1046 177L1046.3 175.4L1046.7 173.8L1046.4 172.1L1046.3 170.5L1047 168.9L1046.4 167.2L1046.7 165.6L1046.3 164L1047.2 162.4L1047.3 160.7L1046.7 159.1L1047.4 157.5L1047.6 155.9L1047.9 157.5L1047.4 159.1L1047.1 160.7L1047.8 162.3L1048.1 163.9L1047.2 165.5L1048.3 167.1L1048 168.7L1048.4 170.4L1047.7 172L1048.6 173.6L1048.4 175.2L1048.6 176.8L1048.4 178.4L1048.8 180L1048.4 181.6L1048.3 183.2L1048.2 184.8L1048 186.5L1048.7 188.1L1048.9 186.5L1049 185L1049.3 183.5L1049.5 181.9L1050 180.4L1050.1 178.9L1050.1 177.3L1050.8 175.8L1051.6 174.3L1050.6 172.8L1051 171.2L1051.7 169.7L1051.4 168.2L1051.9 166.6L1052.6 168.2L1052.1 169.8L1052.2 171.3L1052.5 172.9L1053.6 174.5L1052.6 176L1053.7 177.6L1053.1 179.2L1054.4 180.7L1054.6 182.3L1054.9 183.9L1055.8 185.4L1055.2 187L1055.2 185.4L1055.8 183.9L1055.7 182.3L1056 180.7L1055.3 179.2L1056.2 177.6L1055.7 176L1056.5 174.5L1056.4 172.9L1056.1 171.3L1056.4 169.8L1056.5 168.2L1056.5 166.6L1057.5 165.1L1056.2 163.5L1056.1 161.9L1056.2 160.4L1056.7 158.8L1056.9 157.2L1057.3 155.7L1057.5 154.1L1057.3 152.5L1057.4 151L1057.3 149.4L1057.1 151L1057.9 152.6L1058.2 154.2L1057.6 155.8L1058.1 157.4L1057.6 159L1057.9 160.5L1058 162.1L1058.4 163.7L1057.6 165.3L1058.2 166.9L1058.6 168.5L1058.5 170.1L1058.7 171.7L1057.5 173.3L1058.2 174.9L1058.5 176.5L1058.4 178.1L1057.9 179.7L1059.3 181.3L1059 182.9L1058.2 184.5L1058.9 186L1059.2 187.6L1059.6 189.2L1059.6 190.8L1059 192.4L1059.2 194L1059.5 195.6L1059.7 194L1060.1 192.4L1059.6 190.8L1059.6 189.3L1060.2 187.7L1060.1 186.1L1060.7 184.5L1060.4 182.9L1060.7 181.3L1059.6 179.7L1059.9 178.1L1059.9 176.5L1060.3 174.9L1060.8 173.3L1060.7 171.8L1061.1 170.2L1060.7 168.6L1061.4 167L1061.5 165.4L1060.5 163.8L1060.9 162.2L1061.1 160.6L1061.8 159L1061.9 157.4L1061.6 155.9L1062.5 157.5L1061.4 159.1L1062.2 160.7L1062.3 162.3L1062.3 163.9L1062.6 165.5L1062 167.1L1063.1 168.7L1062.9 170.4L1062.8 172L1063.4 173.6L1064.1 172L1063.4 170.4L1063.9 168.8L1063.7 167.2L1063.5 165.7L1064.1 164.1L1064.5 162.5L1064.1 160.9L1064.9 159.3L1065.5 157.7L1065.4 156.2L1065 154.6L1064.9 153L1065.8 151.4L1065 149.8L1065.2 148.2L1066.5 146.7L1065.9 145.1L1066.2 146.7L1066.3 148.2L1066 149.8L1067.3 151.4L1067.5 153L1066.2 154.6L1066.7 156.2L1066.3 157.8L1066.6 159.3L1067 160.9L1067.1 162.5L1066.5 164.1L1066.8 165.7L1067.9 167.3L1067.1 168.9L1067.4 170.4L1067.1 172L1066.9 173.6L1066.5 175.2L1066.6 176.8L1067 178.4L1066.5 176.8L1066.9 175.2L1067.1 173.7L1067.9 172.1L1067 170.5L1068 168.9L1067.2 167.4L1069.2 165.8L1068 164.2L1068.4 162.6L1069.2 161.1L1068.5 159.5L1068.8 157.9L1068.9 156.3L1069.2 154.8L1068.9 153.2L1070 151.6L1069.9 150.1L1069.6 148.5L1070.2 146.9L1069.7 145.3L1069.7 143.8L1070 142.2L1070.4 140.6L1070.3 139L1069.7 140.6L1070.3 142.3L1070.6 143.9L1070 145.5L1070.6 147.1L1070.1 148.7L1070.7 150.3L1070.6 151.9L1070.8 153.5L1070.4 155.1L1070 156.7L1069.7 158.3L1072.4 159.9L1070.3 161.5L1070.6 163.1L1070.3 164.7L1071.6 166.3L1071.3 167.9L1071.4 169.5L1071.1 171.1L1070.8 169.5L1071.9 168L1071.3 166.4L1072.3 164.8L1071.9 163.2L1071.1 161.6L1072.2 160L1072 158.4L1073.6 156.8L1072.2 155.2L1072.8 153.6L1072.9 152L1072.8 150.4L1073 148.8L1073.5 147.2L1073.5 148.8L1073.7 150.5L1073.4 152.1L1073.5 153.7L1073.7 155.3L1073.3 156.9L1073.7 158.5L1073.8 160.1L1074.2 161.7L1074.1 163.4L1074.1 165L1074.3 166.6L1073.6 168.2L1074.5 169.8L1073.9 171.4L1074 173L1073.9 174.6L1074.4 176.3L1073.9 177.9L1074.5 179.5L1074.1 181.1L1074.1 182.7L1074.5 184.3L1074 185.9L1074.9 187.5L1074.1 189.2L1074.3 190.8L1075 192.4L1073.9 194L1074.6 195.6L1075 194L1074.7 192.3L1074.8 190.7L1074.9 189.1L1074.5 187.4L1075.6 185.8L1075.2 184.1L1075.3 182.5L1075.4 180.9L1075.5 179.2L1075.3 177.6L1074.9 175.9L1074.8 174.3L1074.8 172.7L1075.2 171L1075.9 169.4L1075 167.8L1075.4 166.1L1075.6 164.5L1076.1 166L1075.9 167.5L1076.1 169.1L1076 170.6L1076.7 172.1L1076.6 173.6L1076.7 175.2L1077.3 176.7L1077.2 175.1L1077.6 173.5L1078 171.9L1077.3 170.3L1078.1 168.7L1077.5 167.1L1077.3 165.5L1078 163.9L1078.4 162.3L1078.5 160.7L1078.8 159.1L1077.9 157.5L1078.9 155.9L1079.5 157.5L1079.3 159.1L1079.3 160.8L1078.5 162.4L1079.4 164.1L1079 165.7L1079.1 167.3L1079.4 169L1078.8 170.6L1079.9 172.3L1080 173.9L1079.9 175.6L1080.3 177.2L1079.1 178.8L1079.7 180.5L1079.7 182.1L1080 183.8L1079.6 182.2L1080.7 180.6L1081.6 179.1L1080.4 177.5L1081.2 175.9L1081.3 174.4L1081.5 172.8L1081.9 174.4L1082.2 176L1082.9 177.6L1083 179.3L1082.7 177.7L1082.8 176.1L1083.7 174.5L1083 172.9L1083.1 171.3L1082.4 169.7L1083.3 168.2L1083.4 166.6L1083.3 165L1083.2 163.4L1084.2 165L1083.1 166.6L1084.6 168.2L1084 169.8L1084.5 171.4L1084.5 173L1086 174.6L1086 176.3L1086.2 177.9L1086.8 179.5L1086.3 181.1L1087.5 182.7L1087.4 181L1087.9 179.4L1087.8 177.7L1088.2 176.1L1087.8 174.4L1088.7 172.8L1088.7 171.1L1089.1 169.4L1089.9 167.8L1089.4 166.1L1089.7 164.5L1089.5 166L1090.1 167.6L1089.7 169.1L1091 170.7L1090.5 172.3L1090.7 173.8L1091.1 175.4L1090.5 176.9L1091.3 178.5L1091.4 177L1091.6 175.4L1092.8 173.9L1092.7 172.4L1093.1 170.9L1092.6 169.3L1092.8 167.8L1093.4 166.3L1093 164.7L1093.1 163.2L1094.3 161.7L1094 160.2L1094.2 161.7L1094.3 163.3L1093.6 164.9L1094.2 166.5L1094.3 168.1L1094.3 169.7L1094.8 171.2L1094.4 172.8L1094.5 174.4L1095.8 176L1095.3 177.6L1094.9 179.1L1096.2 180.7L1095.7 182.3L1095.8 183.9L1094.6 185.5L1096.5 187.1L1096 188.6L1096.1 190.2L1096.7 188.7L1097.1 187.1L1096 185.5L1097.4 184L1097.2 182.4L1097 180.9L1096.2 179.3L1098.1 177.7L1097.6 176.2L1097.8 174.6L1097.2 173L1098.1 171.5L1098.2 169.9L1098.8 168.4L1097.9 166.8L1097.6 165.2L1098.4 163.7L1098.4 162.1L1099 160.5L1099 159L1099.3 157.4L1099.4 155.9L1099.9 157.5L1100 159.1L1099.4 160.7L1098.7 162.3L1099.3 163.9L1099.3 165.5L1099.3 167.1L1099.3 168.7L1099.3 170.3L1098.4 172L1099.5 173.6L1099.5 175.2L1099.5 176.8L1099.3 178.4L1099.7 180L1098.6 181.6L1099.3 183.2L1099.4 184.8L1099.6 183.2L1099.3 181.6L1099.5 180L1100 178.4L1099.6 176.8L1099.4 175.2L1099.7 173.6L1100.1 172L1099.6 170.4L1100.1 168.8L1100 167.2L1100.3 165.6L1100.7 164L1100.7 162.4L1100.6 160.8L1100.7 159.2L1101 157.6L1100.5 156L1100.9 154.4L1100.5 152.8L1101.1 151.2L1101.5 152.9L1101.1 154.5L1100.5 156.2L1100.8 157.8L1101.3 159.5L1101.1 161.1L1100.4 162.8L1101.7 164.4L1101.1 166.1L1101.2 167.7L1100.9 169.4L1100.7 171L1101.1 172.7L1101 171.3L1102.3 169.8L1102.8 168.4L1103.3 167L1104.3 165.6L1104.8 164.1L1104.8 162.7L1105.7 161.3L1106.5 159.9L1106.9 161.4L1105.9 163L1107.3 164.6L1106.2 166.2L1107.5 167.7L1106.6 169.3L1105.8 170.9L1106.6 172.4L1106.5 174L1106.3 175.6L1106.5 177.2L1106.5 178.7L1105.2 180.3L1106.7 181.9L1106.5 183.5L1106.5 181.8L1106.8 180.2L1107.2 178.6L1107.1 176.9L1106.8 175.3L1107.7 173.6L1107.4 172L1107.8 170.4L1107.6 168.7L1108.1 167.1L1108.1 168.7L1107.9 170.4L1109 172L1108 173.6L1109 175.2L1107.9 176.9L1108.9 178.5L1108.8 180.1L1109.4 181.8L1109.2 183.4L1110.1 185L1110.4 186.6L1109.2 188.3L1109.8 189.9L1109.2 191.5L1109.7 193.2L1109.3 191.6L1109.7 190L1110.1 188.4L1110 186.9L1109.7 185.3L1110.2 183.7L1109.3 182.2L1109.4 180.6L1109.7 179L1109.1 177.5L1110.3 175.9L1109.8 174.3L1109.7 172.8L1110 171.2L1109.8 169.6L1109.6 171.1L1110.4 172.7L1110.1 174.2L1111 175.7L1111.4 177.3L1112.3 178.8L1112 180.3L1112.3 181.8L1113.1 180.2L1112.7 178.6L1112.3 177L1113.5 175.4L1113.5 173.8L1113.4 172.2L1114.3 170.6L1113.7 169L1114.2 167.4L1114.9 165.7L1115.1 164.1L1114.8 162.5L1115.4 160.9L1115.5 159.3L1116 157.7L1115.8 156.1L1116.2 154.5L1115.3 156.1L1116 157.7L1116.8 159.3L1115.8 160.9L1116.1 162.5L1116.5 164.1L1116.1 165.7L1115.7 167.4L1116.2 169L1116.1 170.6L1115.8 172.2L1116.1 173.8L1115.6 175.4L1115.5 177L1115.7 178.6L1116.1 180.2L1116.2 181.8L1116.2 183.5L1116.1 181.9L1117 180.4L1117.1 178.8L1117.1 177.3L1117.7 175.8L1118.1 174.2L1118 172.7L1117.7 171.1L1118.5 169.6L1118.9 168.1L1118.8 166.5L1118.9 165L1119 166.5L1119.4 168.1L1119.7 169.6L1119 171.1L1120.6 172.7L1120.2 174.2L1121.2 175.8L1120.7 177.3L1120.6 178.8L1121.4 180.4L1121.4 181.9L1121.6 183.5L1122 181.8L1121.6 180.2L1121.7 178.6L1121.7 177L1121.8 175.4L1122.4 173.8L1121.8 172.2L1122.5 170.6L1123 169L1122.3 167.3L1122.7 165.7L1122.5 164.1L1122.8 162.5L1123.1 160.9L1123.4 159.3L1123.6 157.7L1123.1 156.1L1123.8 154.5L1123.4 152.9L1123.7 151.2L1123.3 152.8L1123.3 154.4L1123 155.9L1123.8 157.5L1123 159.1L1123.9 160.6L1124.9 162.2L1123.5 163.8L1123 165.3L1124 166.9L1123.4 168.4L1123.9 170L1123.9 171.6L1124 173.1L1123.9 174.7L1125 173.1L1124.5 171.6L1124.6 170L1124.7 168.4L1124.6 166.9L1124.9 165.3L1124.9 163.8L1125.9 162.2L1125.7 160.6L1126.2 159.1L1126.3 157.5L1127.2 155.9L1126.5 154.4L1127 152.8L1126.9 151.2L1126.8 152.8L1127.5 154.4L1127 156L1127.2 157.6L1126.6 159.2L1127.5 160.8L1128 162.4L1127.9 163.9L1127 165.5L1127.8 167.1L1127.2 168.7L1126.9 170.3L1127.1 171.9L1128.1 173.5L1127.5 175.1L1127.2 176.7L1127.9 178.2L1127.9 179.8L1127.7 181.4L1128.1 183L1127.8 184.6L1128.5 186.2L1128 187.8L1128.7 186.2L1128.6 184.6L1129.1 182.9L1129.6 181.3L1129.5 179.7L1130.1 178.1L1130.1 176.5L1130.4 174.9L1130 173.3L1130.6 171.7L1131 170.1L1131.7 168.5L1133.1 166.9L1132.3 165.2L1132 166.9L1132.2 168.5L1131.8 170.1L1132.2 171.7L1132.2 173.3L1132.6 174.9L1131.8 176.5L1132.5 178.1L1132.4 179.7L1132.2 181.3L1131.8 183L1131.9 184.6L1132.2 186.2L1132.6 187.8L1132.3 189.4L1132.3 191L1132.2 189.5L1132.8 187.9L1132.4 186.4L1133.3 184.8L1134.3 183.3L1133.1 181.7L1133.9 180.2L1133.3 178.7L1133.9 177.1L1134.2 175.6L1134.7 174L1134.4 172.5L1135.1 170.9L1134.2 169.4L1134.8 167.9L1135 166.3L1135.4 167.8L1135.8 169.4L1136.1 170.9L1137.3 172.4L1136.8 173.9L1137.7 175.5L1137.7 177L1138 175.4L1138.7 173.8L1137.8 172.2L1138.3 170.6L1138.3 168.9L1136.8 167.3L1138.3 165.7L1138.6 164.1L1138.9 162.5L1137.9 160.9L1138.3 159.3L1139 157.7L1138.1 156.1L1138.3 154.4L1138.9 152.8L1139 151.2L1139.3 149.6L1138.8 148L1139.4 149.6L1139.2 151.1L1138.8 152.6L1139.1 154.2L1139.5 155.7L1139.8 157.3L1139.8 158.8L1140.2 160.4L1139.7 161.9L1140 163.5L1139.8 165L1141.3 166.6L1140.5 168.1L1141.1 169.6L1141.4 171.2L1140.9 172.7L1141.4 171.2L1141.4 169.6L1141.5 168.1L1141.8 166.5L1141.5 165L1142.2 163.4L1143 161.9L1143 160.3L1143.1 158.8L1143.5 160.4L1143.5 162.1L1143.4 163.7L1143.2 165.4L1143.2 167L1143.5 168.7L1143 170.3L1142.6 171.9L1143.5 173.6L1143.2 175.2L1143.6 176.9L1142.9 178.5L1142.5 180.2L1143.1 181.8L1143.1 183.5L1143.2 181.8L1143.5 180.2L1144.8 178.5L1144.7 176.9L1144.5 175.2L1145.3 173.6L1144.8 175.2L1145.6 176.8L1146 178.5L1146 180.1L1146.5 181.7L1146.3 183.4L1146.6 185L1145.8 186.6L1147.2 188.2L1146.6 189.9L1147.4 191.5L1146.5 193.1L1146.9 194.8L1147.4 196.4L1148.1 194.8L1147.3 193.2L1148 191.6L1147.9 190L1148.9 188.3L1148.5 186.7L1149.1 185.1L1148.7 183.5L1148.2 181.9L1149.8 180.3L1148.9 178.7L1149.3 177.1L1149.4 175.5L1149.6 173.9L1149.1 175.4L1150.2 176.9L1149.9 178.5L1149.4 180L1149.7 181.5L1149.5 183.1L1150.2 184.6L1150.6 186.1L1150.8 187.6L1151.1 186.2L1152.2 184.7L1152.8 183.2L1153.6 181.8L1153.9 183.3L1153.7 184.9L1153.6 186.4L1153.4 188L1153.3 189.5L1153.4 191.1L1154 192.6L1153.6 194.2L1154.5 195.7L1153.9 197.2L1154.3 195.7L1153.6 194.1L1154.4 192.5L1154.8 191L1154.2 189.4L1155.1 187.8L1154.4 186.3L1155.4 184.7L1155.1 183.1L1154.9 181.5L1154.5 180L1155.2 178.4L1155.1 176.8L1155.6 175.3L1155.2 173.7L1155.9 172.1L1155.6 170.5L1156.2 169L1156 167.4L1156.9 168.9L1157.1 170.4L1157.7 172L1158.5 173.5L1158.1 175L1159.3 176.5L1159.6 178L1160 179.5L1160.9 178L1160.4 176.4L1161 174.9L1160.2 173.3L1161.6 171.8L1161.4 170.2L1161.6 168.7L1162 167.1L1161.4 165.6L1162 164L1162.3 162.5L1162.5 160.9L1162.4 162.5L1162.3 164.2L1162.9 165.8L1162.5 167.4L1162.4 169L1162.5 170.6L1163 172.2L1163.3 173.8L1163 175.4L1162.7 177L1162 178.6L1162.3 180.2L1162.1 181.8L1162.5 183.5L1162.5 181.9L1163.7 180.3L1163.3 178.7L1164.4 177.1L1164.3 175.5L1164.5 174L1164.8 172.4L1164.7 170.8L1165.4 169.2L1166.3 167.6L1166.5 166.1L1166.7 164.5L1167.2 162.9L1167.3 161.3L1167.8 159.7L1168.9 158.1L1168.4 156.6L1167.9 155L1169 153.4L1168.1 155L1168.7 156.7L1169.1 158.3L1169.4 160L1169 161.6L1169 163.2L1169.2 164.9L1168.6 166.5L1169 168.2L1169.1 169.8L1168.8 171.5L1168.6 173.1L1169.2 174.7L1169.4 176.4L1169 178L1168 179.7L1169 181.3L1168.8 179.7L1169.1 178.2L1169.6 176.6L1169.4 175.1L1169.6 173.5L1170.3 172L1170.6 170.4L1170.3 168.9L1170 167.3L1170.1 165.8L1171 164.2L1170.9 162.7L1170.7 164.3L1171.2 165.8L1171.3 167.4L1171.6 169L1171.9 170.6L1171.5 172.2L1171.8 173.8L1172.3 175.4L1172.4 176.9L1172.1 178.5L1172.8 180.1L1173.7 178.5L1172.6 176.9L1173.7 175.4L1172.8 173.8L1174.1 172.2L1173.1 170.6L1174.4 169L1174.3 167.5L1174.7 165.9L1174.2 164.3L1174.8 162.7L1175 161.1L1175.1 159.6L1175 158L1176 156.4L1174.9 154.8L1175.2 153.2L1175.4 151.7L1176.7 150.1L1176 148.5L1176.5 146.9L1176.2 148.5L1176.2 150.1L1176.4 151.7L1176.4 153.3L1176.3 154.9L1175.9 156.5L1176.7 158L1176.5 159.6L1177.1 161.2L1176.7 162.8L1176.5 164.4L1175.9 166L1176.5 167.6L1176.7 169.2L1177.2 170.8L1176.7 172.3L1176.8 173.9L1176.7 175.5L1177.2 177.1L1177 178.7L1176.5 180.3L1175.9 181.9L1176.5 183.5L1177.3 181.9L1176.9 180.2L1176.7 178.6L1176.6 177L1176.6 175.4L1177.6 173.8L1177.6 172.2L1177.9 170.6L1178.4 169L1177.9 167.4L1178.4 165.8L1178.2 164.2L1178.3 162.6L1177.9 161L1178.6 159.4L1179.1 157.8L1179.8 159.4L1179.4 161L1179.9 162.6L1180.1 164.3L1181.1 165.9L1181.1 167.5L1180.5 169.1L1181 170.7L1181 169.2L1181.8 167.7L1181.6 166.1L1181.7 164.6L1182.3 163.1L1182.2 161.5L1182.2 160L1183.6 158.5L1182.7 156.9L1182.1 155.4L1183 153.9L1183 152.3L1183.1 153.9L1183.7 155.5L1183.1 157.2L1182.7 158.8L1183.1 160.4L1182.5 162L1182.8 163.6L1183.1 165.2L1182.6 166.8L1182.2 168.4L1182.6 170L1182.6 171.6L1183.2 173.3L1182.8 174.9L1182.9 176.5L1182.6 178.1L1183 179.7L1182.7 181.3L1183.2 182.9L1183 184.5L1183.2 182.9L1183.8 181.3L1183.6 179.7L1183.3 178.1L1183.2 176.5L1183.8 174.9L1184.1 173.2L1184.6 171.6L1183.9 170L1183.7 168.4L1183.6 166.8L1184.1 165.2L1184.5 163.6L1184.6 162L1184.7 160.3L1185 158.7L1185.2 157.1L1184.5 155.5L1185.4 153.9L1185.4 152.3L1185.5 150.7L1185.5 149L1185.1 147.4L1186.2 145.8L1185.9 144.2L1186.2 142.6L1186.5 141L1186.5 139.4L1186.8 137.8L1186.9 136.1L1186.5 134.5L1186.5 132.9L1187.4 131.3L1187.3 129.7L1187 131.3L1188.3 132.9L1187.1 134.5L1187.7 136.1L1187.7 137.7L1188 139.3L1187.6 140.9L1188.2 142.5L1189 144L1188.1 145.6L1187.5 147.2L1188.7 148.8L1188.8 150.4L1189 152L1188.5 153.6L1189.1 155.2L1189.4 156.8L1188.9 158.4L1189.2 160L1189.5 161.6L1189.7 163.2L1189.4 164.8L1189.7 166.4L1190.5 168L1190.7 169.6L1189.5 171.2L1190.9 172.8L1190 174.4L1190.7 176L1189.9 177.6L1190.5 179.1L1190.4 177.6L1190.3 176L1190.9 174.4L1190.8 172.8L1190.9 171.2L1190.9 169.6L1190.9 168L1191.2 166.5L1191 164.9L1190.9 163.3L1190.8 161.7L1190.7 160.1L1190.9 158.5L1191.3 157L1191.6 155.4L1191.2 153.8L1192.1 152.2L1191.9 150.6L1191.5 149L1191.6 147.4L1191.6 145.9L1191.6 147.5L1191 149.1L1192.2 150.8L1192.1 152.4L1191.4 154L1192.6 155.7L1192.1 157.3L1192.3 159L1191.9 160.6L1192.7 162.2L1193 163.9L1192.7 165.5L1193 167.1L1192.4 168.8L1193.4 170.4L1193.3 172.1L1193.4 173.7L1193.8 175.3L1193.8 177L1194.2 175.3L1193.9 173.7L1194.5 172L1195 170.4L1194 168.7L1194.6 167.1L1194 165.5L1195 163.8L1195.5 162.2L1195.1 160.5L1194.8 158.9L1195.2 157.2L1195.7 155.6L1195.1 154L1195.9 152.3L1195.3 154L1196 155.6L1195.3 157.2L1195.9 158.9L1195.4 160.5L1195.2 162.2L1196.2 163.8L1196.3 165.4L1195.5 167.1L1196.8 168.7L1195.9 170.3L1196.1 172L1195.9 173.6L1195.4 175.3L1196.3 176.9L1195.9 178.5L1196.1 180.2L1195.9 181.8L1195.9 183.5L1196 181.9L1197.4 180.3L1196.9 178.8L1196.9 177.2L1197.6 175.6L1197.1 174.1L1198.1 172.5L1199.3 170.9L1198.2 169.4L1199 167.8L1198.6 166.2L1199.4 164.7L1199.8 166.3L1200.6 167.9L1200.2 169.5L1200.6 171.1L1201.9 172.8L1201.9 174.4L1202.3 176L1202.6 174.4L1202.6 172.8L1201.9 171.2L1201.8 169.6L1201.7 168.1L1202.7 166.5L1202 164.9L1201.9 163.3L1202.5 161.7L1202.7 160.1L1202.9 158.5L1202.1 156.9L1203.4 155.3L1202.6 153.7L1203.1 152.1L1203 150.5L1202.7 148.9L1203.3 147.3L1203.3 145.8L1203.7 144.2L1204.1 142.6L1204.2 141L1203.4 139.4L1203.9 141L1203.9 142.6L1203.6 144.2L1203.3 145.8L1204.2 147.4L1203.9 149.1L1204.1 150.7L1204.1 152.3L1204.6 153.9L1204.4 155.5L1205.6 157.1L1205.1 158.7L1204.7 160.3L1205.2 162L1205.7 163.6L1204.8 165.2L1205.5 166.8L1205.3 168.4L1205.6 170L1205.5 171.6L1205.9 173.2L1206.1 174.9L1206.3 176.5L1205.6 178.1L1206.6 179.7L1206.4 181.3L1206.3 182.9L1206.7 184.5L1206.7 183L1207.4 181.4L1206.8 179.8L1206.6 178.2L1207.3 176.7L1207 175.1L1207.4 173.5L1207.3 172L1207.9 170.4L1207.1 168.8L1207.3 167.2L1208 165.7L1208.3 164.1L1207.8 162.5L1207.8 160.9L1208.4 162.5L1208.3 164L1208.3 165.6L1207.8 167.2L1209.5 168.7L1209.3 170.3L1208.1 171.8L1209.5 173.4L1209.1 174.9L1209.1 176.5L1209.5 178L1209.9 179.6L1210.3 178L1210.1 176.4L1210.2 174.9L1210.4 173.3L1210.4 171.7L1210.9 170.2L1210 168.6L1210.4 167L1211 165.5L1210.8 163.9L1211.4 162.3L1211.4 160.8L1211.8 159.2L1211.7 157.6L1212.2 156L1212.1 154.5L1212 156.1L1212.3 157.6L1211.9 159.2L1211.3 160.8L1212.1 162.4L1212.1 164L1211.9 165.6L1212.5 167.2L1212.3 168.7L1212.7 170.3L1211.9 171.9L1211.9 173.5L1212.3 175.1L1212.7 176.7L1211.8 178.3L1212.3 179.8L1212.1 181.4L1212 183L1212.5 184.6L1212.4 186.2L1212.1 187.8L1212.5 186.2L1212.1 184.7L1212.5 183.2L1212 181.6L1213.1 180.1L1212.5 178.5L1213 177L1213.6 175.5L1213.3 173.9L1213.7 172.4L1213.5 170.8L1213.9 169.3L1215.1 170.9L1213.8 172.5L1214.2 174.2L1214.6 175.8L1215.9 177.4L1214.8 179L1215.2 180.6L1215.7 182.3L1214.7 183.9L1215.7 185.5L1216.3 183.9L1216.4 182.2L1217.1 180.6L1217.4 178.9L1217.2 177.3L1217.7 175.6L1217.3 174L1217.4 172.3L1218 170.7L1218.4 169.1L1218.5 167.4L1218.5 169L1218.8 170.6L1218.9 172.2L1219.3 173.8L1218.5 175.5L1218.4 177.1L1218.8 178.7L1218.7 180.3L1218.8 181.9L1219.3 183.5L1218.3 185.1L1218.9 186.7L1219.2 188.3L1219.1 189.9L1218 191.5L1218.5 193.2L1218.7 191.5L1219.6 189.9L1219.3 188.2L1219.6 186.6L1219.6 185L1220.4 183.3L1220.2 181.7L1220.2 180L1220.6 178.4L1221.3 176.8L1221.1 175.1L1220.5 173.5L1221.3 171.8L1221.1 173.5L1222.9 175.1L1223.2 176.8L1222.8 175.2L1223.7 173.6L1223.6 172.1L1224.2 170.5L1224.1 168.9L1223.6 167.3L1225.4 165.7L1225 164.2L1225.2 165.8L1225.3 167.4L1226.2 169L1226 170.6L1226.4 172.2L1226 173.8L1226.3 175.4L1226.6 177L1226.4 178.6L1227.1 180.2L1227.2 181.8L1227.2 183.5L1227.2 181.9L1227.3 180.3L1227.9 178.7L1227.6 177.2L1228 175.6L1228.1 174L1228 172.5L1226.9 170.9L1228.5 169.3L1228.8 167.7L1228.4 166.2L1228.7 164.6L1228.7 166.2L1229.5 167.8L1228.9 169.4L1230.1 171L1230 172.6L1230.6 174.2L1230.2 175.8L1230.3 174.1L1230.4 172.5L1230.6 170.8L1230 169.2L1230.3 167.6L1231.2 165.9L1230.6 164.3L1230.6 162.7L1231.2 161L1231.7 159.4L1231.3 157.7L1231.3 156.1L1231.5 154.5L1231.6 156.1L1232 157.7L1231.3 159.3L1232.2 160.9L1232.4 162.5L1232.8 164.1L1233 165.7L1233 167.3L1233.7 168.9L1233 170.6L1233.1 172.2L1234 173.8L1233.5 175.4L1233.6 177L1233.8 175.4L1234.2 173.9L1234.8 172.3L1234.7 170.8L1236 169.2L1236.1 167.6L1236.9 166.1L1236.4 164.5L1237 163L1237.3 161.4L1237.9 159.9L1238.4 161.5L1238.5 163.1L1238.8 164.7L1239 166.3L1238.4 167.9L1239.2 169.5L1239.3 171.1L1239.4 172.7L1239.8 174.3L1239 175.9L1239.7 177.5L1240.1 179.1L1240 177.6L1239.9 176L1239.8 174.4L1240.6 172.8L1240.7 171.2L1241 169.6L1240 168L1239.5 166.4L1240.4 164.8L1241.2 166.4L1241.3 168.1L1241.5 169.7L1242.5 171.3L1243.1 170L1243.3 168.6L1243 167.3L1244.1 165.9L1244.5 167.5L1244.1 169L1245.2 170.5L1245.3 172.1L1244.9 170.5L1244.9 169L1245.9 167.4L1246.1 165.9L1245.7 164.3L1245.5 162.7L1246.3 161.2L1246.2 159.6L1246.3 158.1L1246.2 156.5L1245.8 155L1246.6 153.4L1246.4 155L1247.3 156.5L1246.6 158.1L1246.9 159.6L1247 161.2L1247.5 162.7L1247.4 164.3L1247.2 165.9L1248.2 167.4L1247.7 169L1247.8 170.5L1247.6 172.1L1247.3 173.6L1248.2 175.2L1248 176.8L1248.4 178.3L1247.5 179.9L1249.1 181.4L1248.6 183L1248.7 184.5L1249 183L1248.3 181.4L1248.8 179.9L1248.9 178.3L1249.3 176.7L1249.2 175.2L1248.1 173.6L1249.1 172.1L1249.1 170.5L1248.9 169L1249.2 167.4L1249.4 165.8L1249.6 164.3L1248.8 162.7L1248.9 161.2L1249.3 159.6L1249.6 158L1249.4 156.5L1249.3 158.1L1250 159.7L1249.9 161.3L1250.7 163L1251 164.6L1251.4 166.2L1251.8 164.6L1252.3 163L1251.7 161.4L1252.3 159.8L1251.7 158.2L1252.7 156.6L1253.4 154.9L1252.3 153.3L1252.9 151.7L1252.1 150.1L1253.7 148.5L1254.6 146.9L1253.5 145.3L1254.1 143.7L1254.3 145.3L1254.7 146.9L1253.9 148.5L1254.4 150.1L1254 151.8L1254.2 153.4L1254.4 155L1254.8 156.6L1254.6 158.2L1254.6 159.8L1254.6 161.4L1255.1 163L1254.9 164.6L1254.9 166.3L1254.1 167.9L1254.8 169.5L1254.5 171.1L1255.7 172.7L1255.3 174.3L1255.7 175.9L1254.8 177.5L1255.2 179.1L1254.7 177.5L1255 175.9L1255.7 174.3L1255.3 172.7L1255.9 171.1L1256.3 169.5L1255.7 167.9L1256.3 166.3L1255.2 164.7L1255.6 163.1L1256 161.5L1256.2 160L1255.8 158.4L1256.4 156.8L1257 155.2L1256.7 153.6L1257.2 155.1L1257.2 156.6L1256.9 158.1L1258 159.6L1257.8 161.1L1257.3 162.7L1258.3 164.2L1258.1 165.7L1258.1 164L1258.7 162.4L1258.8 160.7L1259 159L1259.6 157.3L1260.2 155.7L1259.5 154L1259.5 152.3L1259.6 153.9L1259.5 155.5L1259.7 157L1259.8 158.6L1259 160.2L1259.6 161.8L1259.5 163.4L1261.2 162.1L1261.3 160.9L1262.1 159.7L1262.4 158.5L1262.6 160.1L1263.6 161.7L1263.2 163.4L1263 165L1263 166.7L1263.7 168.3L1264.4 170L1263.8 171.6L1263.7 170L1263.6 168.3L1263.2 166.7L1264.5 165L1263.9 163.4L1264.1 161.8L1264 160.1L1264.2 158.5L1264.9 156.9L1264.4 155.2L1264.9 153.6L1264.6 151.9L1264.8 150.3L1265.3 148.7L1265.4 147L1264.8 145.4L1265.4 143.7L1265.1 142.1L1265.5 140.5L1266 142.1L1265.7 143.6L1265.8 145.2L1266.7 146.8L1266.3 148.4L1266.8 150L1267.3 151.6L1267 153.2L1267.3 154.8L1267.8 156.3L1268.7 157.9L1268.2 159.5L1268.5 161.1L1268.4 162.7L1268.6 164.3L1269.4 165.9L1268.7 167.5L1269 169.1L1270 170.6L1269.3 172.2L1269.4 173.8L1270.3 175.4L1270.3 177L1270.8 175.4L1271.3 173.9L1271.7 172.3L1270 170.7L1271 169.2L1271.1 167.6L1271.6 166L1271.3 164.5L1271.8 162.9L1272 161.3L1272.2 159.8L1271.9 158.2L1272.4 156.6L1272.6 158.2L1272.3 159.8L1272.4 161.4L1272.8 163L1273.3 164.5L1272.3 166.1L1273.2 167.7L1273.9 169.3L1273.5 170.9L1273.3 172.5L1273.8 174L1274.4 175.6L1273.8 177.2L1273.7 178.8L1274.4 180.4L1274.1 181.9L1274.1 183.5L1274.8 185.1L1274.6 186.7L1274.4 185.2L1274.7 183.6L1275.5 182.1L1275.1 180.6L1275.7 179L1275.3 177.5L1275.1 179.1L1275.8 180.6L1276.6 182.2L1277.5 183.8L1278.1 185.3L1277.4 183.8L1278.4 182.2L1278.3 180.7L1278.4 179.1L1278.8 177.6L1278.9 176L1278.9 177.6L1278.7 179.2L1279.3 180.7L1279.1 182.3L1280.2 183.9L1279.7 185.4L1279.9 187L1279.9 188.6L1280.4 190.1L1280.6 191.7L1280.6 193.3L1280.4 194.8L1281 196.4L1281.8 194.8L1281.6 193.2L1281.2 191.6L1281.4 190L1282.1 188.5L1282.4 186.9L1282.5 185.3L1283.1 183.7L1283.9 182.1L1284.6 180.5L1284.5 178.9L1284.9 177.4L1285.5 175.8L1286.2 174.2L1286.1 172.6L1286.2 171L1286.2 169.4L1286.2 167.9L1287 166.3L1287.7 164.7L1287.5 163.1L1287.6 164.7L1287.3 166.3L1287.7 167.8L1287.5 169.4L1287.3 171L1286.7 172.6L1287.7 174.1L1287.2 175.7L1288 177.3L1287.2 178.9L1287.5 180.5L1287.3 182L1288.2 183.6L1288 185.2L1287.5 186.8L1288.1 188.3L1287.5 189.9L1287.2 188.4L1288.2 186.8L1287.9 185.2L1288.2 183.6L1288.3 182.1L1288.9 180.5L1288.2 178.9L1288.9 177.4L1289.8 175.8L1288.6 174.2L1289.6 172.7L1289.9 171.1L1289.7 172.7L1289.6 174.3L1291.2 175.9L1291.2 177.5L1291.8 179.1L1292.5 177.5L1291.3 175.9L1292.4 174.2L1293 172.6L1291.8 170.9L1292.9 169.3L1293.1 167.6L1293 166L1293.7 164.3L1293.5 162.7L1293.1 161.1L1293.2 159.4L1293.6 157.8L1294.5 156.1L1294 154.5L1294.1 156L1294.8 157.6L1294.6 159.2L1295.1 160.7L1295.3 162.3L1295.8 163.8L1296.3 165.4L1295.5 167L1295.5 168.5L1296.2 170.1L1296.4 168.5L1296.6 166.9L1296.9 165.2L1297.4 163.6L1297.1 162L1297.5 160.4L1297.7 158.8L1298.3 157.2L1297.9 155.5L1298.8 153.9L1299.3 152.3L1298.7 150.7L1299.5 149.1L1299.4 147.5L1299.4 145.9L1299.4 147.4L1300.2 149L1299.9 150.6L1299.3 152.2L1299.6 153.7L1299.1 155.3L1298.8 156.9L1299.8 158.5L1299.4 160.1L1300.1 161.6L1299.5 163.2L1299.5 164.8L1299.4 166.4L1299.5 167.9L1299.1 169.5L1299.3 171.1L1299.4 172.7L1298.8 171.1L1298.9 169.4L1299.1 167.8L1299.5 166.2L1299.9 164.6L1299.9 162.9L1300.6 161.3L1301.2 159.7L1299.3 158.1L1301 156.4L1300.9 154.8L1300.4 153.2L1300.8 151.6L1300 149.9L1300.8 148.3L1301.6 146.7L1301.1 145.1L1300.6 146.7L1300.9 148.4L1301.1 150L1301.4 151.7L1301.1 153.3L1300.9 154.9L1301.4 156.6L1300.9 158.2L1302.1 159.9L1301.6 161.5L1301.1 163.2L1300.8 164.8L1300.9 166.5L1300.8 168.1L1301.1 169.8L1301.1 168.1L1301.6 166.4L1301.1 164.7L1301.8 163.1L1301.9 161.4L1301.7 159.7L1302.7 158.1L1302.6 156.4L1302.7 154.7L1302.7 153.1L1302.8 154.7L1303.1 156.3L1303.7 157.9L1303.4 159.5L1304.3 161.1L1304.7 159.5L1304.3 157.8L1304.9 156.2L1305.4 154.5L1305.2 152.9L1305.2 151.2L1305.4 149.5L1305.9 147.9L1305.6 146.2L1306.3 144.6L1306.5 142.9L1306.9 144.5L1305.8 146L1306.2 147.5L1306.7 149L1306.2 150.6L1306.2 152.1L1306.2 153.6L1307.1 155.1L1305.9 156.7L1306.8 158.2L1307.4 156.8L1307.9 155.5L1308.6 154.1L1308.9 152.8L1309.9 151.4L1310.3 152.9L1310.4 154.4L1310.7 155.9L1312.4 157.3L1312.2 158.8L1311.7 160.3L1312.2 161.8L1312.9 163.3L1313.2 161.6L1313.8 160L1313.3 158.3L1313.8 156.7L1313.7 155.1L1314.2 153.4L1313.7 151.8L1313.8 150.1L1314.3 148.5L1314.5 146.8L1314.5 145.2L1315.1 143.5L1315.1 141.9L1315 140.3L1315.1 138.6L1314.7 140.2L1315.5 141.7L1315.6 143.3L1315.1 144.8L1315.3 146.4L1315 148L1315.6 149.5L1315.5 151.1L1314.9 152.6L1315.7 154.2L1315.6 155.7L1315.8 157.3L1315.9 155.7L1316.8 154.1L1316.8 152.4L1317.2 150.8L1317 149.2L1317.9 147.6L1317.4 146L1317.9 144.3L1318.4 146L1317.6 147.6L1318.5 149.2L1318.2 150.8L1318.2 152.5L1319.2 154.1L1319.1 155.7L1319.4 157.3L1319.4 159L1319.5 157.4L1319.8 155.8L1319.8 154.1L1319.9 152.5L1320.1 150.9L1321.1 149.3L1319.9 147.7L1319.9 146.1L1320.2 144.5L1320.5 142.9L1321.1 141.3L1321.5 139.7L1321.6 138.1L1321.2 136.4L1321.7 134.8L1321.6 133.2L1322.4 134.8L1322.1 136.4L1322.5 138L1321.7 139.6L1322.6 141.2L1322.7 142.8L1322.1 144.3L1322.7 145.9L1323.1 147.5L1322.6 149.1L1323.5 150.7L1323.6 152.3L1323.5 153.9L1323.5 155.5L1323.6 157L1324 158.6L1324.4 160.2L1323.6 161.8L1324.3 163.4L1324.5 165L1324.2 166.6L1324.1 168.2L1324.8 169.8L1324.8 168.2L1324.3 166.6L1325.2 165L1325.1 163.4L1324.9 161.8L1325.4 160.2L1325.2 158.7L1325.3 157.1L1326.2 155.5L1325.5 153.9L1324.9 152.3L1326.1 150.7L1325.7 149.1L1325.9 147.6L1326.9 146L1326.4 144.4L1326.9 142.8L1326.1 141.2L1326.3 139.6L1326.5 138L1326.9 136.5L1327.3 138.1L1326.8 139.6L1326.4 141.2L1327.5 142.8L1327.1 144.4L1327.4 146L1327.8 147.6L1328.4 149.2L1327.6 150.8L1328.3 152.4L1327.2 154L1327.9 155.6L1328 157.2L1327.1 158.8L1327.6 160.4L1327.8 162L1328.4 163.6L1328.1 165.1L1328.2 166.7L1328.1 168.3L1328.7 169.9L1328.5 171.5L1328.6 173.1L1328.6 174.7L1329.1 176.3L1328.6 177.9L1328.9 179.5L1329 181.1L1329.1 182.7L1329.4 181.1L1329.7 179.5L1329.6 177.9L1329 176.3L1330 174.7L1330.2 173L1330.4 171.4L1330.3 169.8L1329.5 168.2L1330.2 166.6L1330.6 168.2L1331.4 169.8L1331.8 171.4L1331.9 173L1332.3 174.6L1332.6 173.1L1332.3 171.5L1333 169.9L1332.2 168.4L1333.2 166.8L1333.8 165.2L1333.1 163.7L1334.3 162.1L1334.8 160.5L1334.4 159L1334.1 157.4L1334.5 155.9L1334.4 157.4L1334.2 159L1335.1 160.6L1334.5 162.2L1335.1 163.8L1334.7 165.4L1335.5 167L1334.8 168.6L1335.4 170.2L1335.3 171.8L1336.1 173.3L1335.6 174.9L1335.8 176.5L1335.9 178.1L1336.7 176.4L1336 174.7L1336.2 173L1336.9 171.3L1336.7 169.6L1337.4 167.9L1338.2 169.5L1337.7 171L1337.9 172.5L1337.8 174.1L1336.8 175.6L1338.7 177.1L1338.2 178.7L1337.6 180.2L1338.1 181.8L1338.7 183.3L1338.8 184.8L1339.3 183.2L1339 181.6L1339.1 180L1339.1 178.4L1338.6 176.8L1338.8 175.2L1339.1 173.5L1338.6 171.9L1339.2 170.3L1339.5 168.7L1338.3 167.1L1339.2 165.5L1339.2 163.9L1339.4 162.3L1340.1 160.7L1338.9 159L1340.2 157.4L1339.8 155.8L1340.5 154.2L1339.4 152.6L1339.8 151L1339.6 149.4L1339.9 147.8L1339.4 146.1L1339.5 144.5L1339.7 142.9L1340.1 141.3L1339.9 139.7L1339.4 141.3L1339.9 142.9L1339.9 144.6L1340.3 146.2L1340.6 147.8L1339.7 149.5L1340 151.1L1340.3 152.7L1340.2 154.3L1341.2 156L1341.4 157.6L1341.1 159.2L1341.1 160.9L1340.5 162.5L1340.6 164.1L1341.3 165.8L1341.2 167.4L1341.9 165.8L1341.2 164.3L1341.6 162.7L1342.2 161.1L1342.3 159.6L1341.3 158L1341.9 156.4L1342.2 154.9L1341.3 153.3L1341.9 151.8L1342.3 150.2L1342.1 148.6L1342.6 147.1L1342.5 145.5L1342.4 147.1L1342 148.7L1342.3 150.2L1342 151.8L1342.5 153.4L1343.3 155L1343.3 156.6L1343.5 158.1L1343.9 159.7L1343.1 161.3L1343.4 162.9L1343.8 164.5L1344.5 166L1344.1 167.6L1344 169.2L1344.3 170.8L1343.9 172.4L1344.4 173.9L1343.7 172.3L1344.8 170.7L1344.5 169L1344.9 167.4L1344.4 165.8L1344.6 164.1L1345.3 162.5L1345.2 160.9L1345.6 159.3L1345 157.6L1345.4 156L1345.8 154.4L1345.9 152.7L1345.7 151.1L1345.9 149.5L1345.8 147.8L1345.9 146.2L1346 144.6L1346.3 143L1345.7 141.3L1346.3 139.7L1346.3 141.3L1345.9 142.9L1346.3 144.5L1346.2 146.1L1346.4 147.7L1346.2 149.4L1346.2 151L1345.7 152.6L1346.9 154.2L1345.7 155.8L1345.5 157.4L1346.4 159L1346.5 160.6L1346.3 162.3L1346.2 163.9L1345.8 165.5L1347 167.1L1345.6 168.7L1347.2 170.3L1345.6 171.9L1345.9 173.5L1346.2 175.1L1346.1 176.8L1346.3 178.4L1346.7 176.8L1346.4 175.3L1346.9 173.7L1346.6 172.2L1348 170.6L1347.6 169.1L1347.7 167.5L1348.2 166L1348.8 164.4L1348.8 162.9L1348.6 161.3L1349.2 159.8L1349.5 158.2L1349.8 156.7L1349.8 155.1L1350.4 153.6L1349.9 152L1350.6 150.5L1350.7 152.1L1350.4 153.7L1350.8 155.4L1350.6 157L1351.2 158.7L1350.8 160.3L1351.5 162L1350.8 163.6L1351.6 165.2L1350.9 166.9L1350.3 168.5L1351 170.2L1351.8 171.8L1351.6 173.4L1351.8 175.1L1351.5 176.7L1351.7 178.4L1352 176.8L1351.7 175.2L1353 173.6L1353.1 172L1352.8 170.4L1352.6 168.8L1352.8 167.2L1353.5 165.6L1353.6 164.1L1353.3 162.5L1354.1 160.9L1354.3 159.3L1354.4 157.7L1354.5 156.1L1354.7 154.5L1354.8 152.9L1354.8 151.3L1354.9 149.7L1355.8 148.2L1354.9 146.6L1355.8 145L1356.3 143.4L1357 141.8L1356.2 140.2L1356.5 138.6L1357.1 140.3L1357.2 141.9L1357.1 143.5L1357.6 145.2L1356.3 146.8L1357.4 148.4L1357.1 150.1L1357.4 151.7L1357.3 153.4L1357.1 155L1356.8 156.6L1357.8 158.3L1357.6 159.9L1357.2 161.6L1357.8 163.2L1357.5 164.8L1357.7 166.5L1358.2 168.1L1358.2 169.8L1358.7 168.2L1357.9 166.7L1358.8 165.2L1359.3 163.6L1358.7 162.1L1359.3 160.6L1359.8 159L1360.2 157.5L1360 156L1359.8 157.6L1359.9 159.3L1360.5 161L1360.8 162.6L1361.3 164.3L1361.4 162.7L1361.5 161.2L1360.8 159.6L1362 158.1L1361.2 156.5L1362.1 155L1362.3 153.4L1362.3 151.9L1362.4 150.3L1362.5 148.8L1362.5 147.2L1362.2 148.8L1362.2 150.5L1363.5 152.1L1363.3 153.7L1363.2 155.3L1363.1 156.9L1362.1 158.5L1363.6 160.1L1362.8 161.7L1362.9 163.4L1363.2 165L1362.7 166.6L1363.5 168.2L1362.1 169.8L1363.6 171.4L1363.3 173L1362.8 174.6L1363.5 176.3L1363.7 177.9L1363.6 179.5L1363.7 181.1L1363.2 182.7L1363.8 184.3L1363.8 185.9L1364 187.5L1363.8 189.2L1362.9 190.8L1363.6 192.4L1363.9 190.8L1363.2 189.2L1363.5 187.5L1363.8 185.9L1364 184.3L1363.9 182.7L1364.3 181.1L1364.4 179.5L1364.4 177.9L1364.4 176.3L1364.6 174.7L1364.8 173.1L1364.2 171.4L1364.1 169.8L1365.2 168.2L1364.9 166.6L1364 165L1365.4 163.4L1365.5 161.8L1365.2 160.2L1364.6 161.9L1365.1 163.5L1365.6 165.2L1365.6 166.9L1366 168.6L1366.5 170.2L1366.8 171.9L1367.2 170.3L1365.9 168.8L1367 167.2L1367.5 165.6L1366.2 164.1L1367.4 162.5L1367.3 160.9L1367.2 159.4L1367.8 157.8L1368.1 156.2L1368.1 154.7L1368.6 153.1L1367.9 151.5L1368 153.1L1367.8 154.6L1368.8 156.1L1369.5 157.6L1370.3 159.1L1370.5 160.6L1370.4 162.1L1371.6 163.6L1371.5 165.1L1371.9 163.5L1372 161.9L1372 160.3L1372.5 158.6L1372.8 157L1372.8 155.4L1372 153.8L1372.9 152.1L1373.6 150.5L1374.3 148.9L1374.4 147.3L1374.6 145.6L1374.4 144L1375 145.6L1374.6 147.2L1374.9 148.8L1374.8 150.4L1374.4 152L1374 153.7L1373.7 155.3L1374.5 156.9L1373.8 158.5L1374.3 160.1L1374.6 161.7L1374.1 163.3L1374.7 164.9L1374.4 166.5L1374 168.1L1374.4 169.8L1374.8 168.2L1375.1 166.6L1374.9 165.1L1375.5 163.5L1375.1 162L1375.8 160.4L1376.2 158.9L1375.9 157.3L1376.6 155.8L1377.3 154.2L1376.7 152.7L1376.8 151.1L1376.9 149.6L1377.4 148L1377.5 146.5L1377.5 144.9L1378.5 143.4L1378.7 141.8L1379 143.4L1378.6 145L1379.1 146.5L1379.7 148.1L1379.6 149.7L1379.6 151.2L1380 152.8L1379.6 154.3L1380.4 155.9L1380.9 157.5L1380 159L1379.7 160.6L1380.3 162.2L1380.3 163.7L1381 165.3L1381.5 166.8L1381.4 168.4L1382 170L1381.7 171.5L1381.7 173.1L1381 174.7L1381.9 176.2L1382.2 174.6L1381.9 173L1382 171.4L1382.3 169.8L1383.1 168.2L1382.9 166.6L1382.7 165L1382.2 163.4L1382.7 161.8L1383 160.2L1383.1 161.8L1383.8 163.4L1384 165L1384.2 166.6L1383.8 168.2L1384.8 169.8L1385.8 171.4L1384.4 173L1385.1 174.7L1384.9 173.1L1385.5 171.5L1386 169.9L1385.8 168.3L1385.9 166.8L1386.6 165.2L1385.7 163.6L1385.4 162L1385.7 160.4L1386.8 158.9L1387 157.3L1386.6 155.7L1386.3 154.1L1386.7 152.5L1387.3 151L1387.3 149.4L1387.7 151L1387.1 152.6L1387.1 154.2L1387.1 155.8L1387.3 157.4L1387.9 159.1L1387.7 160.7L1387.9 162.3L1387.8 163.9L1387.9 165.5L1387.3 167.1L1387.5 168.7L1388.1 170.3L1388.2 171.9L1388.5 173.5L1388.1 175.2L1387.8 176.8L1388.2 178.4L1388.2 180L1388.4 181.6L1388.7 180L1388.6 178.3L1389.1 176.7L1389.2 175L1389.4 173.4L1389.6 171.7L1389.1 170.1L1390.2 168.4L1390.5 166.8L1390.4 165.1L1390.9 163.5L1390.6 161.8L1390.5 160.2L1390.5 161.7L1391.1 163.3L1391.1 164.9L1391.2 166.5L1392.1 168L1391.2 169.6L1391.7 171.2L1392.4 169.6L1392 168.1L1391.7 166.5L1392.9 165L1392.9 163.4L1393.2 161.9L1393.4 160.3L1394 158.7L1393.9 157.2L1393.9 155.6L1394.2 154.1L1394.7 152.5L1394.5 150.9L1394.8 149.4L1395.1 151L1394.2 152.6L1395 154.2L1395.1 155.7L1395.4 157.3L1394.7 158.9L1395.1 160.5L1395.4 162.1L1396.4 163.7L1395.4 165.3L1395.6 166.9L1395.2 168.5L1396.3 170.1L1395.4 171.7L1395.5 173.2L1395.7 174.8L1395.1 176.4L1395.3 178L1395.6 179.6L1395.4 181.2L1396.2 182.8L1395.7 184.4L1396.8 186L1396 187.6L1395.9 189.1L1395.9 187.5L1396.4 185.9L1396.9 184.3L1396.8 182.7L1397.2 181.1L1397.1 179.5L1397.1 177.9L1397.5 176.3L1398.5 174.7L1397.8 173.1L1398.1 171.5L1397.8 169.9L1398.3 168.3L1398.9 166.7L1398.8 165L1399.1 163.4L1400.1 165L1400.5 166.6L1400.4 168.1L1401 169.7L1401.7 171.2L1401.9 172.8L1402.1 171.2L1401.9 169.7L1401.3 168.1L1402.6 166.6L1402.1 165L1402.2 163.4L1401.9 161.9L1402.8 160.3L1402.2 158.8L1402.3 157.2L1401.5 155.6L1402.1 154.1L1402.3 152.5L1402.5 150.9L1402.4 149.4L1402.7 151L1402.5 152.5L1403 154.1L1402.6 155.7L1402.7 157.3L1402.8 158.9L1402.2 160.4L1402.1 162L1403.7 163.6L1402.4 165.2L1402.9 166.8L1403.4 168.3L1403 169.9L1403.8 171.5L1402.6 173.1L1403.5 174.7L1403.8 176.2L1404.5 177.8L1404.2 179.4L1403.4 181L1404.1 182.6L1404 184.1L1403.4 185.7L1403.8 187.3L1404.5 188.9L1404 190.4L1403.8 192L1404 193.6L1403.8 195.2L1403.8 196.8L1404.6 198.3L1404.5 199.9L1404.8 198.4L1405.1 196.8L1404.2 195.2L1404.4 193.7L1405.1 192.1L1405.1 190.5L1405.1 189L1404.8 187.4L1405.2 185.8L1404.9 184.3L1406.1 182.7L1405.9 181.1L1405.3 179.6L1406.3 178L1405.4 176.4L1406.2 174.9L1406.1 173.3L1406 171.7L1406.7 170.2L1405.6 168.6L1406.3 167L1406.3 165.5L1405.9 163.9L1406.7 162.3L1406.2 163.9L1407 165.5L1407.1 167.1L1406.8 168.6L1407.5 170.2L1407.6 171.8L1407.8 173.4L1407.6 174.9L1407.8 176.5L1408.2 178.1L1407.8 179.7L1407.9 181.3L1407.8 182.8L1408.6 184.4L1409.1 186L1408 187.6L1408.8 189.1L1408.8 187.5L1409.3 185.9L1409.7 184.3L1409.3 182.7L1409 181.1L1409.7 179.5L1410.4 177.9L1409.7 176.3L1409.9 174.6L1410.4 173L1409.3 171.4L1410.3 169.8L1410.6 168.2L1410.5 166.6L1410.3 165L1410.2 163.4L1410.2 161.7L1410 160.1L1410.4 158.5L1410.2 156.9L1410.7 155.3L1410.8 153.7L1410.7 152.1L1411 150.5L1411 152.1L1411.2 153.7L1410.8 155.3L1411.6 156.9L1411.5 158.5L1411.7 160.1L1411.4 161.8L1411.6 163.4L1411.8 165L1411.8 166.6L1411.7 168.2L1411.8 169.8L1411.8 171.4L1412 173L1411.9 174.7L1412 176.3L1412 177.9L1413 179.5L1412.2 181.1L1412.5 182.7L1412.3 184.3L1412.8 185.9L1413.3 187.6L1412.6 189.2L1413 190.8L1413 192.4L1413.5 194L1413.1 195.6L1413.3 194L1413.4 192.4L1413.5 190.8L1412.9 189.2L1414.2 187.6L1414.5 186L1413.7 184.3L1414.5 182.7L1414.3 181.1L1415 179.5L1414.3 177.9L1414.8 176.3L1415.3 174.7L1415.1 173.1L1415.1 171.5L1415.1 169.8L1415 168.2L1415.3 166.6L1415.8 168.2L1415.8 169.7L1417.2 171.3L1417.1 172.8L1417.2 174.3L1417.1 175.9L1418 177.4L1418.7 175.8L1419 174.2L1418.9 172.6L1419.3 170.9L1419.5 169.3L1419.4 167.7L1419.6 166.1L1419.9 164.5L1420.6 162.9L1420.1 161.2L1420 159.6L1420.7 158L1420.8 159.6L1420.8 161.1L1420.8 162.7L1420.9 164.3L1420.3 165.8L1420.5 167.4L1420.6 169L1420.8 170.5L1421 172.1L1421.1 173.7L1420.9 175.2L1420.7 176.8L1420.7 178.4L1421 176.9L1421.7 175.4L1421.9 173.9L1422.8 172.4L1423.8 171L1424.4 169.5L1424.7 168L1424.7 169.6L1425.8 171.1L1424.8 172.7L1426.2 174.3L1426.3 175.8L1426.5 177.4L1427.1 179L1427.2 180.5L1427.1 179L1428.2 177.4L1427.3 175.8L1427.4 174.2L1427.7 172.7L1426.9 171.1L1427.7 169.5L1427.3 167.9L1428.4 166.4L1427.7 164.8L1428 163.2L1427.4 161.7L1428.8 160.1L1427.6 158.5L1428.2 156.9L1427.9 158.5L1428.3 160.1L1427.8 161.7L1428.3 163.3L1428.8 164.9L1429.4 166.5L1429.6 168.1L1428.8 169.7L1429.2 171.3L1429.8 172.9L1430.1 174.5L1429.5 176.1L1429.8 177.7L1430 179.2L1430.2 180.8L1430.2 182.4L1431.1 184L1430.5 185.6L1431.1 187.2L1431 188.8L1432.3 190.4L1431.6 192L1430.5 193.6L1431.6 195.2L1430.7 196.8L1432.1 198.4L1431.6 200L1431 201.6L1431.9 203.2L1431.6 201.5L1431.9 199.9L1432.6 198.2L1432.1 196.6L1432.3 195L1431.9 193.3L1432 191.7L1431.6 190.1L1432 188.4L1432.1 186.8L1432.2 185.2L1432 183.5L1432.2 181.9L1432.2 180.2L1432.5 178.6L1432.1 177L1432.2 175.3L1432.1 173.7L1432.2 172.1L1432.4 170.4L1432.5 168.8L1432.6 170.4L1433.9 172.1L1434.2 173.7L1434.4 175.4L1434.7 177L1435.2 175.4L1434.6 173.7L1435 172.1L1435.3 170.5L1435.8 168.9L1436.2 167.2L1436.4 165.6L1435.7 164L1436.4 162.3L1437.1 160.7L1436.9 159.1L1436.8 160.7L1437.2 162.4L1436.4 164L1437.2 165.7L1437.2 167.3L1436.6 169L1437.7 170.6L1438 172.3L1437.9 173.9L1437.5 175.6L1437.7 177.2L1437.6 178.9L1437.9 180.5L1438.4 179L1438.6 177.5L1439.1 175.9L1438.8 174.4L1439.4 172.9L1439.2 171.3L1439.5 169.8L1439.5 171.4L1440.1 172.9L1440.1 174.5L1440.4 176.1L1441.1 177.6L1441.6 176.2L1441.7 174.7L1441.4 173.2L1441.5 171.7L1442 170.3L1442.2 168.8L1442.1 170.4L1442.7 171.9L1442.4 173.5L1442.2 175.1L1442.5 176.7L1443.1 178.3L1443.8 179.9L1443.3 181.4L1442.7 183L1443 184.6L1443.5 186.2L1443.5 187.8L1443.7 189.4L1444.6 190.9L1443.5 192.5L1443.7 194.1L1444.1 195.7L1444.3 197.3L1444.4 198.8L1444.6 197.2L1445 195.6L1444.9 194L1445.5 192.4L1445.3 190.8L1445.6 189.2L1445 187.6L1445.5 186L1445.8 184.4L1446.4 182.7L1446.1 181.1L1446.2 179.5L1446.4 177.9L1447.6 176.3L1446.5 174.7L1447.3 173.1L1447.5 171.5L1447.6 169.9L1448.4 171.4L1448.4 172.9L1448.2 174.5L1448.9 176L1449.3 177.5L1448.9 179.1L1448.6 180.6L1449.5 182.2L1449.3 180.6L1450.1 179.1L1449.9 177.6L1450.6 176.1L1451.3 174.5L1451.2 173L1452.2 171.5L1451.6 169.9L1451.5 168.4L1452.3 166.9L1452.8 165.4L1452.2 163.8L1453 162.3L1453.2 164L1453.6 165.6L1453.1 167.2L1453.7 168.9L1452.4 170.5L1453.2 172.2L1452.4 173.8L1452.3 175.4L1452.4 177.1L1453.4 178.7L1453.1 180.3L1453.5 182L1452.7 183.6L1452.4 185.3L1453.3 186.9L1452.7 188.5L1452.4 190.2L1453.3 191.8L1453 193.5L1453.5 191.8L1452.9 190.2L1453.4 188.6L1453.7 187L1453.2 185.4L1453.3 183.8L1453.9 182.2L1454.5 180.6L1453.6 178.9L1454.4 177.3L1454.4 175.7L1454.4 174.1L1454.3 172.5L1454.2 170.9L1454.9 169.3L1454.7 167.7L1453.9 166L1455.1 164.4L1454.8 162.8L1455.1 161.2L1456.1 159.6L1455.5 158L1454.7 156.4L1455.4 154.8L1455.3 153.1L1456.2 151.5L1454.6 149.9L1456.3 148.3L1456.2 146.7L1456.2 145.1L1456.2 146.7L1456.6 148.2L1457.2 149.8L1455.8 151.4L1456.5 153L1456.7 154.6L1456.8 156.2L1456.8 157.7L1457.2 159.3L1457.1 160.9L1457 162.5L1457.2 164.1L1456.6 162.4L1457.8 160.8L1458.2 159.2L1458.3 157.6L1458.1 156L1458.6 154.4L1457.7 152.7L1458.7 151.1L1458.7 149.5L1458.6 147.9L1459.3 146.3L1458.9 144.7L1458.9 143L1458.8 141.4L1458.7 139.8L1459.5 138.2L1459.4 139.8L1460.3 141.4L1460.4 143L1459.4 144.6L1459.8 146.2L1460.4 147.8L1459.4 149.4L1459.7 151L1459.3 152.7L1460.6 154.3L1459.7 155.9L1459.9 157.5L1460 159.1L1459.7 160.7L1461.1 162.3L1460.6 163.9L1461 165.5L1459.4 167.1L1460.6 168.7L1460.3 170.3L1459.9 172L1460.4 173.6L1461.1 175.2L1461 176.8L1460.3 178.4L1462 180L1460.6 181.6L1461.3 180.1L1460.7 178.5L1460.8 177L1461.1 175.4L1461.5 173.9L1461.5 172.3L1461.6 170.8L1462.5 169.2L1462 167.7L1462.5 166.1L1462.4 164.6L1462.7 163L1463.5 161.4L1463.2 159.9L1463.7 158.3L1463.5 156.8L1464.1 155.2L1463.8 153.7L1464 155.2L1464.6 156.8L1463.8 158.3L1464.9 159.9L1464.7 161.4L1464.3 162.9L1464.6 164.5L1464.2 166L1465 167.5L1465.3 169.1L1465.1 170.6L1465.9 172.2L1465.6 173.7L1465.3 172.3L1466.7 170.9L1466.9 169.4L1467.8 168L1468.9 166.6L1469.1 165.2L1470.3 163.7L1470.3 162.3L1470.2 163.9L1470 165.5L1470.2 167.1L1469.7 168.8L1470 170.4L1470.3 172L1470.7 173.6L1469.9 175.2L1469.9 176.8L1469.7 178.4L1469.7 180L1470.3 181.6L1470.3 183.2L1470.4 184.9L1470.2 186.5L1470.3 188.1L1470.8 186.5L1469.8 185L1470.7 183.4L1471.1 181.8L1470.8 180.3L1471.3 178.7L1471.1 177.2L1471.2 175.6L1471.6 174.1L1471.4 172.5L1471.8 170.9L1471.9 169.4L1473 170.9L1473.5 172.5L1473.2 170.8L1474 169.2L1474.3 167.5L1474.6 165.8L1473.9 164.2L1474.6 162.5L1473.5 160.9L1473.8 159.2L1474.5 157.5L1474.6 155.9L1474.3 157.5L1474.5 159.1L1474.6 160.7L1475.1 162.3L1475.1 163.9L1475.1 165.5L1475.6 167.1L1475.6 168.7L1476 170.3L1476.2 171.9L1476.5 173.5L1476.3 175.2L1476.4 176.8L1476.7 178.4L1476.8 176.8L1476.8 175.3L1477.7 173.7L1477.8 172.1L1478.5 170.6L1478.5 169L1478.4 167.5L1479.2 165.9L1479 164.4L1479.4 162.8L1479.9 161.2L1480.1 159.7L1479.9 158.1L1480.8 156.6L1480.9 155L1481 153.5L1481.2 151.9L1481.7 150.3L1481.2 148.8L1482.1 147.2L1482.6 148.8L1481.2 150.4L1481.8 152L1481.8 153.7L1482.4 155.3L1482.2 156.9L1482.4 158.5L1481.8 160.1L1482.8 161.7L1482.7 163.3L1481.5 164.9L1482.4 166.5L1482.4 168.1L1481.8 166.5L1482.6 165L1483.2 163.4L1483.2 161.9L1482.9 160.3L1483.4 158.8L1484.3 157.2L1484.1 155.7L1484.6 154.1L1483.8 152.6L1484.7 151L1485 152.6L1484.9 154.3L1484.5 155.9L1485.4 157.6L1484.9 159.2L1485.3 160.9L1484.8 162.5L1485.2 164.2L1485.3 165.8L1485.1 167.5L1485.2 169.1L1485.4 170.8L1485.3 172.4L1485.3 174.1L1484.9 172.4L1485.7 170.8L1485.6 169.2L1485.8 167.6L1485.5 166L1486.5 164.4L1486.3 162.7L1486.6 161.1L1486.9 159.5L1486.7 157.9L1486.3 156.3L1486 154.7L1487 153L1486.8 151.4L1487.1 149.8L1487.4 148.2L1486.9 146.6L1486.7 145L1487.3 143.4L1487 141.7L1487 140.1L1487.6 138.5L1487.5 136.9L1487.6 138.5L1488.1 140.1L1487.6 141.7L1488.2 143.3L1488.3 144.9L1488.6 146.5L1488.5 148.1L1489.2 149.7L1488.6 151.3L1489.5 152.9L1489.9 154.5L1489.7 156.1L1489.9 157.7L1489.7 159.3L1490.3 160.9L1490.6 162.5L1490.6 164.1L1490.9 165.7L1490.9 167.3L1491.2 165.7L1491.2 164L1490.5 162.4L1490.8 160.8L1491.3 159.2L1492.2 157.5L1491.9 155.9L1491.6 154.3L1491.6 152.6L1491.6 151L1491.8 149.4L1492.2 151L1492 152.6L1492.2 154.2L1492 155.8L1492.3 157.4L1492.2 159L1492.4 160.7L1492.8 162.3L1493.5 163.9L1493.3 165.5L1493.7 167.1L1493.2 168.7L1493.7 170.3L1493.5 171.9L1493.8 173.5L1494 175.1L1494 173.6L1493.6 172L1494.3 170.4L1494 168.8L1494.7 167.2L1494.4 165.6L1494.2 164.1L1494.4 162.5L1494.6 160.9L1495.6 159.3L1494.7 157.7L1495.2 156.2L1495.5 154.6L1495.5 153L1495.6 151.4L1496 149.8L1495.6 148.2L1496.7 146.7L1496.1 145.1L1496.7 146.7L1496.4 148.4L1497 150L1496.6 151.7L1496.5 153.3L1496.4 155L1496.7 156.7L1497.3 158.3L1497.3 160L1497.9 161.6L1497.4 163.3L1498.1 161.6L1498 160L1497.8 158.3L1498.6 156.7L1498 155L1497.2 153.3L1498.1 151.7L1498.5 150L1498.7 148.4L1498.8 146.7L1498.7 145.1L1498.9 146.7L1497.7 148.4L1498.9 150L1498.9 151.6L1498.7 153.3L1498 154.9L1498.9 156.5L1498.3 158.2L1497.9 159.8L1498.9 161.5L1498.9 163.1L1498.6 164.7L1498.3 166.4L1498.9 168L1498.7 169.7L1498.8 171.3L1498.8 172.9L1498.1 174.6L1498.7 176.2" fill="none" stroke="#0a00ff" stroke-width="1.3" stroke-linejoin="round" marker-start="url(#mS)" marker-mid="url(#mS)" marker-end="url(#mS)"/>
<path d="M902.9 61.1L902.9 154.4L903 82.5L902.9 84.7L903.2 86.9L902.9 89L902.9 91.2L903.4 93.4L903 95.6L903.2 97.7L903.3 99.9L903.4 102.1L902.9 104.3L902.9 106.4L903.1 108.6L903.2 110.8L902.9 113L903.2 115.1L902.9 117.3L902.9 119.5L903 121.7L903.1 123.8L903 126L903.5 123.9L903.3 121.7L903.8 119.5L903.6 117.4L904.5 115.2L904.6 113.1L904.4 110.9L905.6 108.8L905.1 106.6L905.2 104.5L905.4 102.3L905.9 100.2L906.1 98L906 95.9L906.7 93.7L907.1 91.6L907.5 89.4L907.4 87.3L907.3 85.1L907.5 83L907.4 85.1L908 87.3L908.4 89.4L908.8 91.6L907.9 93.7L907.7 95.9L907.8 98L908.4 100.2L908.6 102.3L908.1 104.5L908 106.6L907.8 108.8L908.9 110.9L908.6 113.1L908.5 111L909.7 108.9L909.8 106.9L909.5 104.8L910.2 102.7L911.5 100.7L911.5 98.6L911.9 96.5L912 98.6L912.7 100.6L912.4 102.7L912.6 104.7L912.8 106.7L912.9 108.8L913.7 106.7L914.8 104.6L914.9 102.6L916.3 100.5L917.2 98.5L917.1 96.4L918 94.4L918.8 96.1L918.7 97.9L919.8 99.7L920.1 97.4L920.9 95.1L921.1 92.7L920.8 90.4L921.5 88.1L921.6 85.8L921.8 87.8L921.6 89.9L921.6 92L922.3 94L920.6 96.1L921.4 98.2L921.9 100.2L921.6 102.3L922 100.2L922.6 98.1L923.1 96.1L923.3 94L923.8 91.9L924.2 89.8L924.5 91.9L925.4 94L926.2 96L926.8 98.1L926.9 100.1L927.3 97.9L927.1 95.7L927.2 93.4L926.8 91.2L927.6 89L927.4 86.7L927.6 84.5L927.9 82.3L928.2 80L928.3 77.8L928.4 75.6L928.1 73.3L928.7 71.1L928.6 73.3L929.2 75.5L929.1 77.7L929.4 79.9L929.4 82.2L930.1 84.4L930.3 86.6L930.8 88.8L929.8 91L930.4 93.2L929.7 95.4L930.6 97.6L930.6 99.8L930.5 102L931.3 104.2L930.9 106.4L930.4 108.7L931.7 110.9L931.2 113.1L931.4 110.8L931.7 108.5L931.2 106.2L931.2 103.9L931.1 101.6L931.2 99.3L931.9 97.1L931.9 94.8L931.1 92.5L931.8 90.2L931.8 87.9L932.1 90L932 92.1L932.6 94.2L932.4 96.3L933.3 98.4L933 100.5L933.4 102.6L932.2 104.7L933.7 106.8L933.7 104.6L934 102.4L934 100.2L934.3 98L934.2 95.8L935 93.6L934.5 91.3L934.9 89.1L935.7 86.9L935.8 84.7L935.6 82.5L935.5 84.7L935 87L934.8 89.2L935.7 91.4L935.6 93.6L935.4 95.9L935.4 98.1L936.3 100.3L935.9 102.5L935.5 104.7L935.5 107L935.4 109.2L935.7 111.4L935.4 113.6L935.6 115.8L935.4 118.1L935.8 120.3L935.6 122.5L935.1 124.7L936.7 127L935.7 129.2L935.6 131.4L935.6 129.2L935.6 127L936.4 124.9L936.4 122.7L937.6 120.5L937.4 118.3L937.2 116.1L937 114L938.3 111.8L937.6 109.6L938.7 107.4L938.8 105.3L938 103.1L939.2 100.9L940.2 98.7L939.9 96.5L939.7 98.6L939.4 100.7L939.9 102.8L940.7 104.9L941.1 107L941.6 109L941.6 111.1L941.3 113.2L941.9 115.3L941.9 113.2L942.2 111.1L942.4 109L942.2 106.9L943.1 104.8L943.5 102.7L943.2 100.6L943.5 98.5L943.1 96.4L943.9 94.3L943.7 92.2L944.2 90.1L944 92.3L944.8 94.6L944.7 96.9L944.6 99.1L944.4 101.4L945.2 103.7L946 105.9L945.6 108.2L945.8 110.5L946.3 112.7L946.8 115L946.4 117.3L946.3 119.5L946.9 117.2L946.8 114.9L947.1 112.6L947.2 110.3L947.7 108L947.2 105.7L947.7 103.3L947.9 101L948 98.7L948.2 100.8L948.2 102.8L949 104.9L948.7 106.9L948.5 109L949.6 111L949.6 113.1L949.1 110.9L950 108.7L948.7 106.5L949.7 104.4L950.4 102.2L949.7 100L950.2 97.8L949.7 95.6L949.5 93.5L949.8 91.3L950.3 89.1L950.4 86.9L950.5 84.8L950.3 82.6L950 80.4L950 78.2L949.5 80.4L950.3 82.5L951.5 84.7L950.6 86.8L951.7 89L952 91.1L951.5 93.2L952.6 95.4L952.6 97.5L953 99.7L953.7 97.6L954.2 95.4L954.8 93.3L955.1 91.1L956 89L955.4 91.2L957 93.4L956.1 95.6L956.4 97.8L956.5 100L956.6 102.2L956.6 104.4L957.2 106.6L957.1 108.8L957.4 106.6L957.5 104.4L957.7 102.2L958.4 100L958.1 97.8L959 95.6L959.5 93.5L959.7 91.3L959.8 89.1L959.2 86.9L960.4 84.7L960.3 82.5L960.9 84.6L961.7 86.6L961.3 88.7L961.7 90.7L962.8 92.7L962.3 94.8L963.5 96.8L963.4 98.9L963.8 96.6L963 94.3L964.1 92L964.4 89.8L964.4 87.5L964.5 85.2L965.5 82.9L965.4 80.6L965.8 78.3L966.4 76.1L966.1 78.2L966.4 80.4L966.7 82.6L966.9 84.8L966.8 87L966.5 89.2L966.6 91.4L966.9 93.6L967.2 95.7L966.7 97.9L966.3 100.1L966.8 102.3L967.4 100.1L968 97.9L968 95.6L969.1 93.4L968.9 91.2L969.6 89L970.2 86.8L970.4 84.5L971.3 86.7L970.3 88.9L971.1 91.1L971.4 93.3L971.2 95.5L971.8 97.7L971.3 99.9L971.3 102.1L971.9 104.3L971.5 102.1L971.9 99.9L971.8 97.8L972.6 95.6L972.5 93.4L972.1 91.2L973.4 89.1L973 86.9L972.4 84.7L972.4 82.5L973.3 80.4L973.5 82.6L974.2 84.7L973.7 86.9L974.3 89.1L974.8 91.3L974.6 93.5L974.3 95.7L974.1 97.8L974.5 100L975.5 102.2L975.1 104.4L974.9 106.6L975.4 108.8L975.9 106.8L976.6 104.8L977.8 102.9L977.8 100.9L979.4 99L979.4 97L979.9 95.1L980.2 97.3L979.7 99.6L980.5 101.8L980.6 104.1L980.9 106.4L980.5 108.6L981 110.9L980.4 113.2L980.8 115.4L982.3 117.7L981.5 120L981.4 117.8L981.4 115.5L982.2 113.3L981.9 111.1L983.1 108.9L982.2 106.7L982.6 104.5L982.3 102.2L983 100L982.7 97.8L983.9 95.6L982.6 93.4L983 91.1L983.5 93.3L984 95.5L983.5 97.7L984.1 99.8L984.4 102L984.3 104.2L985.3 106.4L985.7 104.1L984.6 101.8L985.5 99.6L985.7 97.3L986.5 95L986.6 92.8L987.3 90.5L987.6 88.2L987.4 86L987.1 83.7L987.7 81.5L988 83.6L987.5 85.8L987.7 88L987.9 90.2L988.5 92.3L989 94.5L988.5 96.7L987.8 98.9L988.5 101L988.6 103.2L987.8 105.4L988.3 107.6L988 109.8L988 111.9L988.3 114.1L988.4 116.3L988.4 118.5L988.4 116.3L989.1 114.1L989 111.9L989.8 109.7L990.2 107.5L990.3 105.3L990.3 103.2L990.9 101L991.8 98.8L992.4 96.6L992.7 94.4L992.7 92.2L993.1 94.6L993.4 96.9L992.5 99.2L993.2 101.6L992.4 103.9L993.4 106.2L993.1 108.6L992.7 110.9L992.8 108.7L993.9 106.5L994.6 104.4L994.3 102.2L995.3 100L996 97.8L996.9 95.6L996.4 93.4L997.7 91.2L997.2 89L998.1 86.8L997.9 89.1L998.9 91.4L998.8 93.7L998.3 95.9L999.3 98.2L999 100.5L999 102.8L999 105L998.2 107.3L999.3 109.6L999.8 111.9L999.6 114.2L999.7 111.9L1000.2 109.6L1000 107.3L1000.7 105L999.1 102.7L1000.6 100.4L1000.2 98.1L1000.8 95.9L1001.1 93.6L1001.5 91.3L1001.5 89L1001.3 86.7L1002.1 88.7L1001.5 90.7L1002.2 92.7L1001.6 94.7L1002.8 96.7L1003 98.7L1002.6 96.5L1003.9 94.4L1003.7 92.2L1003.8 90.1L1003.8 87.9L1004.4 85.8L1004.3 83.6L1004.2 81.4L1005.1 79.3L1005.2 77.1L1005 79.4L1005.6 81.7L1005.2 84L1005.2 86.2L1006.7 88.5L1006.2 90.8L1006.5 93.1L1006.1 95.3L1006.3 97.6L1006.4 99.9L1007.3 102.2L1006.7 104.5L1007.7 102.2L1008.3 100L1009 97.8L1009.8 95.6L1011 93.4L1011.3 91.2L1012.1 89L1012.1 91.2L1012.6 93.4L1012.5 95.5L1012.4 97.7L1012.9 99.9L1012 102.1L1011.6 104.3L1011.4 106.4L1012.1 108.6L1012.2 110.8L1012.5 113L1011.5 115.2L1011.5 117.4L1012.1 119.5L1012.2 117.4L1012.4 115.2L1012.2 113L1012.9 110.8L1013.5 108.6L1013.4 106.4L1014.7 104.2L1014.3 102L1013.9 99.9L1014.4 97.7L1014.5 99.8L1014.1 102L1015.7 104.1L1014.9 106.3L1015 108.4L1015.6 110.6L1015.3 112.7L1015.3 114.9L1015.7 117L1016.2 119.2L1016.4 121.3L1015.5 123.5L1015.6 125.6L1016.6 127.8L1016.4 129.9L1016.5 132L1016.8 134.2L1017.3 132L1017.2 129.9L1016.9 127.7L1017.5 125.6L1017 123.4L1017.2 121.3L1018.3 119.1L1017.6 117L1018 114.8L1017.8 112.7L1017.9 110.5L1017.6 108.4L1017.7 106.2L1018.8 104.1L1019.3 101.9L1018.5 99.8L1019 102.1L1019.2 104.4L1018.9 106.7L1019.3 109L1020.2 111.2L1020.8 113.5L1020.2 115.8L1020.3 118.1L1020.4 120.4L1021.1 118.2L1021.1 115.9L1021 113.6L1021.3 111.3L1021.9 109.1L1022.1 106.8L1021.7 104.5L1022.2 102.3L1023.6 100L1024 97.7L1023.9 95.5L1024.4 97.6L1024 99.8L1023.9 102L1024.3 104.2L1024.5 106.4L1024.3 108.6L1025.1 110.8L1024.4 113L1023.9 115.2L1025.2 117.4L1025 119.5L1025.7 117.4L1025.5 115.3L1026.3 113.2L1026.6 111.1L1025.4 109L1026.9 106.9L1026.5 104.8L1027.6 102.7L1027.7 100.6L1028.2 98.5L1028.1 96.3L1028.2 94.2L1028.9 92.1L1030 90L1029.3 87.9L1029.8 90L1029.4 92.1L1030.1 94.1L1030.3 96.2L1031.2 98.3L1031 100.3L1031.1 102.4L1031.5 104.5L1031.8 102.4L1031.7 100.3L1032.4 98.2L1032.1 96.1L1032.6 94.1L1033.1 92L1032.7 89.9L1033.5 87.8L1033.9 90.1L1035 92.3L1036.2 94.6L1036.9 92.2L1036.8 89.8L1036.6 87.3L1037.1 84.9L1036.9 82.5L1037.5 84.6L1037.3 86.7L1037.4 88.8L1038.7 90.9L1038.2 93L1039.1 95L1038.5 97.1L1039.4 99.2L1039.3 101.3L1040.1 103.4L1040.7 101.2L1041 99.1L1041.2 96.9L1041.6 94.8L1041.4 92.6L1042 90.5L1042.4 88.3L1042.1 86.2L1043 84L1043.2 81.9L1043.3 79.7L1043.7 81.9L1043.7 84L1044 86.2L1044.4 88.3L1044.5 90.5L1044.9 92.6L1044.3 94.8L1045.5 96.9L1045 99.1L1045.5 101.2L1046.5 99.1L1046.1 97L1047 94.8L1048 92.7L1048.6 90.6L1048.9 88.5L1049.3 86.3L1050.5 84.2L1050.9 82.1L1051.3 84.2L1050.5 86.4L1050.4 88.5L1050.6 90.6L1050.8 92.8L1050.2 94.9L1050.5 97L1051.1 99.2L1050.6 101.3L1050.5 103.5L1051.5 105.6L1051.3 107.7L1051.6 109.9L1050.9 112L1051.1 109.8L1051.2 107.5L1051.2 105.3L1051 103.1L1050.9 100.8L1051.9 98.6L1051.8 96.4L1052.6 94.1L1052.5 91.9L1053 94L1052.2 96.2L1052.4 98.3L1053.2 100.4L1053.8 102.5L1054 104.6L1053.3 106.8L1053.7 108.9L1054.4 111L1053.7 113.1L1054.1 115.2L1054 113L1055.3 110.8L1054.8 108.7L1054.9 106.5L1056.4 104.3L1055.9 102.1L1056.2 99.9L1057 97.7L1057.7 95.5L1057.3 93.3L1058.2 95.4L1058.5 97.4L1059.2 99.5L1059.7 101.6L1060.2 103.6L1059.9 105.7L1061.3 107.8L1061.6 109.8L1061.3 107.8L1061.8 105.7L1062.4 103.6L1062.5 101.5L1062.7 99.4L1064 101.6L1064.9 103.8L1065.9 105.9L1066.2 103.7L1066.7 101.4L1065.5 99.2L1066.4 96.9L1066.7 94.7L1065.8 92.4L1065.8 90.2L1065.9 87.9L1066.3 90.1L1066.9 92.3L1066.7 94.4L1067.2 96.6L1067.7 98.8L1068 100.9L1068.9 103.1L1068.6 105.3L1068.9 103.3L1069.9 101.3L1070.4 99.3L1070.6 97.3L1071 95.3L1071.3 93.3L1071.2 95.5L1071.4 97.7L1072 99.9L1072.1 102.1L1072 104.3L1072.8 106.6L1072.4 108.8L1073 106.7L1073.4 104.6L1073.7 102.5L1074.6 100.4L1074.8 98.3L1075.2 96.3L1075 94.2L1076.6 92.1L1075.8 90L1076.7 87.9L1077.1 90.1L1076.7 92.3L1076.7 94.5L1076.2 96.7L1077.7 98.8L1077.9 101L1077.9 103.2L1078 105.4L1077.8 107.6L1078.5 109.8L1078.6 112L1078.9 114.2L1078.7 112L1079.5 109.8L1080 107.6L1080.1 105.4L1081.5 103.2L1080.9 101L1082.7 98.8L1082.8 96.6L1082.6 94.4L1083.2 92.2L1084.1 94.5L1084.2 96.7L1084.6 99L1084.4 101.2L1084.3 103.5L1084.1 105.7L1085.4 107.9L1085.5 110.2L1085.6 112.4L1087 114.7L1086.7 116.9L1086.1 119.2L1087 121.4L1087.5 123.7L1087.1 125.9L1087.9 128.2L1088.1 126L1088 123.8L1087.7 121.6L1088.5 119.4L1088.7 117.3L1087.5 115.1L1088.9 112.9L1088.6 110.7L1088.8 108.6L1088.3 106.4L1088.7 104.2L1089.9 102L1089.6 99.8L1089.4 97.7L1089.6 95.5L1089.7 93.3L1089.8 95.5L1090.5 97.7L1090.6 99.9L1091.5 102.1L1091.4 104.3L1092.3 106.5L1093 108.7L1093 110.8L1093.6 113L1094 115.2L1094.2 113L1094 110.9L1093.8 108.7L1094.9 106.5L1094.7 104.3L1094.6 102.1L1095.4 99.9L1094.7 97.8L1095 95.6L1095 93.4L1095 91.2L1095.5 89L1095.7 86.8L1095.6 88.9L1096.6 91L1095.9 93.1L1096.9 95.1L1096.2 97.2L1096.6 99.3L1096.9 101.4L1096.7 103.5L1097.2 105.5L1097.8 103.5L1097.6 101.4L1097.9 99.4L1098.7 97.3L1098.4 95.3L1099.3 93.2L1099.4 91.1L1099.8 93.2L1099.7 95.3L1099.9 97.4L1099.2 99.4L1099.9 101.5L1099.2 103.6L1098.7 105.6L1099.4 107.7L1099.5 105.5L1100.6 103.3L1099.6 101.1L1100.9 98.9L1099.9 96.7L1101 94.5L1101.1 92.3L1101.1 90.1L1100.9 92.3L1100.2 94.5L1101.4 96.7L1101.3 98.9L1101.3 101.1L1101.5 103.3L1100.8 105.5L1101.9 107.7L1101.1 109.9L1101.8 107.7L1101.5 105.5L1103.1 103.3L1102.6 101.1L1103.1 99L1103.3 96.8L1104.1 98.9L1103.8 101L1104.3 103.1L1105 105.1L1105.5 107.2L1105.3 105.1L1106 102.9L1106.9 100.8L1106.2 98.6L1106.9 96.5L1107 94.4L1107.8 92.2L1107.3 90.1L1107.6 87.9L1108.3 85.8L1108.6 83.6L1109.4 85.8L1108.2 88L1107.9 90.2L1108.2 92.4L1108.9 94.6L1109 96.8L1108.6 99L1108.7 101.2L1108 103.3L1108.8 105.5L1108.6 107.7L1109 105.5L1109.3 103.2L1110.5 100.9L1111 98.7L1110.9 96.4L1111.6 94.1L1112 96.4L1111.5 98.8L1112.1 101.1L1113.4 103.4L1112.8 105.7L1113.2 108.1L1113.9 110.4L1114.5 108.2L1113.3 106.1L1114.1 104L1114.9 101.8L1114.6 99.7L1114.6 97.5L1114.7 95.4L1115.3 93.2L1115.1 91.1L1115.7 89L1115.7 86.8L1116 84.7L1116.2 82.5L1116.6 84.8L1116 87L1115.8 89.3L1116.1 91.5L1116.2 93.8L1116.1 96.1L1115.5 98.3L1116.4 100.6L1115.4 102.8L1115.4 105.1L1116.5 107.3L1116.7 109.6L1116 111.8L1115.8 114.1L1116.2 116.4L1116.9 114.1L1116 111.8L1116.8 109.6L1116.7 107.3L1117.4 105L1117.5 102.7L1117.3 100.5L1118.3 98.2L1118.3 95.9L1118.2 93.7L1118.3 91.4L1118.6 89.1L1118.9 86.9L1118.5 89.1L1119.1 91.4L1119.3 93.6L1119.7 95.9L1119.6 98.1L1119.7 100.4L1120.1 102.6L1120.6 104.8L1120.6 107.1L1120.5 109.3L1120.5 111.6L1121.4 113.8L1121.1 116.1L1120.7 118.3L1121.5 120.6L1121.6 122.8L1120.9 120.7L1121.4 118.5L1121.9 116.3L1121.6 114.2L1121.6 112L1122 109.9L1122.2 107.7L1121.4 105.5L1121.4 103.4L1121.6 101.2L1121.5 99.1L1122.1 96.9L1122.3 94.8L1122 92.6L1121.6 90.4L1122.1 88.3L1121.7 90.4L1122.6 120L1122.6 92.6L1122.8 135L1122.7 94.8L1123.5 96.9L1123 61.5L1123.2 141L1123.1 99.1L1123.7 101.2L1124 103.4L1124.9 105.5L1125.1 107.7L1125.3 109.9L1125.5 112L1126 114.2L1125.3 116.3L1126.7 118.5L1126.5 120.7L1126.9 122.8L1127.6 120.6L1127.4 118.3L1127.6 116.1L1126.9 113.9L1128.4 111.6L1127.5 109.4L1127.5 107.1L1127.2 104.9L1127.6 102.7L1126.7 100.4L1128.1 98.2L1127.9 96L1127.7 93.7L1128.3 91.5L1128.1 89.2L1128.1 87L1127.8 84.8L1128 82.5L1128.4 84.8L1128 87L1128.2 89.2L1128.9 91.4L1128.8 93.6L1128.7 95.9L1129.3 98.1L1128.9 100.3L1130.4 102.5L1129.6 104.8L1129.8 107L1131 109.2L1130 111.4L1129.9 113.7L1131 115.9L1131.1 118.1L1131.8 120.3L1131.5 122.5L1131.1 124.8L1132 127L1132 129.2L1132.3 131.4L1133 129.3L1132.7 127.2L1132.3 125.1L1132.6 122.9L1133 120.8L1132.9 118.7L1133.3 116.6L1133.4 114.4L1133 112.3L1133.7 110.2L1134 108.1L1133.4 105.9L1133.9 103.8L1133.5 105.9L1134.5 108.1L1134.5 110.2L1134.8 112.3L1135.2 114.5L1134.6 116.6L1134.3 118.7L1134.9 120.8L1134.7 123L1135.2 125.1L1135.4 127.2L1135.3 129.4L1135.6 131.5L1135.5 133.6L1135.6 135.7L1135.7 133.6L1135.2 131.4L1136.4 129.2L1135.5 127.1L1135.7 124.9L1135.6 122.7L1135.8 120.5L1135.8 118.4L1135.2 116.2L1136.7 114L1136.2 111.8L1136 109.7L1136.2 107.5L1136.6 105.3L1136.6 103.1L1136.4 101L1136.7 98.8L1135.4 96.6L1136.8 94.5L1136.4 92.3L1136.3 90.1L1136.2 87.9L1136.6 85.8L1136.8 88L1136.3 90.2L1137.3 92.5L1137 94.7L1137.7 96.9L1136.9 99.1L1137.9 101.4L1137.8 103.6L1137.6 105.8L1138.7 108.1L1138.8 110.3L1138.2 112.5L1138.6 114.8L1139.5 117L1139.1 119.2L1139 121.4L1139 123.7L1139.2 125.9L1139.9 128.1L1139.9 130.4L1140.5 128.2L1140.2 126L1140.1 123.8L1140.4 121.6L1140.3 119.4L1141.4 117.2L1141.4 115.1L1142.1 112.9L1142.8 110.7L1142.7 108.5L1142.2 106.3L1142.5 104.1L1142.3 102L1143.1 99.8L1142.3 102L1144 104.2L1143.5 106.4L1142.9 108.6L1143.9 110.8L1142.9 113L1143.8 115.2L1144 117.4L1143.8 119.6L1144 121.9L1144.6 124.1L1144.2 126.3L1145 128.5L1144.7 130.7L1144.1 128.5L1144.8 126.3L1145.7 124L1144.8 121.8L1144.9 119.6L1145.5 117.4L1145.4 115.2L1145.8 112.9L1146.3 110.7L1146.2 108.5L1146.2 106.3L1146.3 104.1L1146.1 106.3L1146.4 108.4L1146.6 110.6L1145.9 112.8L1146.1 115L1145.8 117.2L1146.3 119.4L1146.3 121.6L1146.1 123.7L1145.8 125.9L1146 128.1L1146.5 130.3L1146 132.5L1146.3 134.7L1146.9 132.4L1146.6 130.2L1146.9 128L1147.8 125.7L1147.5 123.5L1148.5 121.2L1147.5 119L1148.7 116.8L1148.8 114.5L1149.1 112.3L1149.7 110L1149.1 107.8L1151 105.6L1150.3 103.3L1151.8 101.1L1151.4 98.9L1151.5 96.6L1151.7 94.4L1151 96.6L1152.4 98.7L1151.9 100.9L1152.2 103.1L1151 105.3L1151 107.4L1151.5 109.6L1151.9 111.8L1152 114L1152.2 116.1L1151.3 118.3L1151.1 120.5L1152 122.7L1151.3 124.8L1151.7 127L1152.5 129.2L1151.5 131.4L1151.8 133.6L1151.8 135.7L1151.7 137.9L1152 135.8L1152.5 133.7L1152.8 131.7L1153 129.6L1153.9 127.5L1153.9 125.4L1153.5 123.3L1154.8 197.5L1154.8 121.3L1154.6 160L1154.5 224.7L1154.6 119.2L1154.9 117.1L1155 71.3L1155 119.2L1154.9 121.4L1155.7 123.5L1155.6 125.7L1155.5 127.8L1155.7 130L1156.7 132.1L1156.3 134.3L1156.5 136.4L1157.8 138.6L1157.1 140.7L1157.3 138.6L1157.5 136.4L1157.4 134.2L1157.4 132.1L1157.1 129.9L1157.9 127.8L1157.8 125.6L1157.5 123.5L1157.9 121.3L1158.7 119.2L1158.3 117L1158.3 114.8L1158.1 112.7L1158.2 110.5L1158.8 108.4L1159 106.2L1158.8 104.1L1159.2 101.9L1158.6 99.8L1158.9 97.6L1159.3 95.5L1159.3 93.3L1159.7 95.5L1159.1 97.7L1159.6 99.9L1158.8 102.2L1159.7 104.4L1159.8 106.6L1159.1 108.8L1159.4 111L1159.5 113.2L1159 115.5L1159.1 117.7L1159.1 119.9L1159.5 122.1L1159.6 124.3L1158.9 126.5L1159 128.7L1159.5 131L1159 133.2L1159.2 135.4L1159.6 137.6L1159.3 139.8L1159.7 142L1159.3 144.2L1159.2 146.5L1159.3 148.7L1159.2 146.5L1158.9 144.3L1159.8 142.2L1159.5 140L1160.8 137.8L1161 135.6L1161.2 133.5L1161.5 149L1161.7 131.3L1162.3 129.1L1161 126.9L1161.9 124.8L1162.5 122.6L1162.3 120.4L1162.6 118.2L1163.4 116.1L1163.4 113.9L1162.9 111.7L1164.2 109.5L1163.6 107.4L1164.2 105.2L1164.6 103L1164.7 100.8L1164 103L1165.3 105.2L1164.9 107.4L1164.8 109.6L1165 111.8L1164.6 113.9L1164.9 116.1L1164.9 118.3L1163.8 120.5L1164.2 122.7L1165 124.8L1164.2 127L1164.9 129.2L1164.6 131.4L1164.9 133.6L1164.7 135.7L1164.2 133.5L1165.3 131.3L1165.5 129L1165.9 126.8L1166.2 124.6L1166.4 122.3L1166.8 120.1L1167.1 117.9L1167 115.6L1168.1 113.4L1167.8 111.2L1167.8 109L1168.6 106.7L1168 104.5L1169.3 102.3L1169.2 100L1169.3 102.3L1169.7 104.6L1169.9 107L1170.3 109.3L1170.1 111.6L1170.4 113.9L1171 116.2L1171.1 118.5L1170.9 116.2L1171.2 114L1171.3 111.7L1171.3 109.4L1171.2 107.2L1171.2 104.9L1171.5 102.6L1171.3 100.3L1171.4 98.1L1173 95.8L1172 93.5L1172.4 91.3L1172.2 89L1172.8 91.3L1173.6 93.5L1173.9 95.8L1174.8 98.1L1175 100.4L1175.6 102.6L1176.1 104.9L1175.7 102.8L1176.8 100.6L1176.5 98.5L1176.7 96.4L1177.1 94.2L1177.2 92.1L1177.3 90L1178 87.8L1177.3 85.7L1177 83.6L1178 81.5L1178 83.7L1177.4 86L1178.4 88.3L1179.1 90.6L1179.4 92.9L1178.5 95.2L1179.2 97.5L1178.8 99.8L1179.5 102.1L1180.1 104.4L1179.7 106.7L1179.8 104.5L1180.9 102.4L1180.7 100.3L1182 98.2L1181 96.1L1181.2 94L1182.3 91.9L1182.5 89.8L1182.4 87.7L1182.9 89.7L1182.6 91.8L1183.2 93.8L1183.2 95.9L1184.3 97.9L1184.2 100L1184.2 102L1184.2 99.8L1184.4 97.7L1184.4 95.5L1185 93.3L1185.5 91.2L1185.9 89L1186.4 86.8L1186.2 84.7L1186.2 86.9L1187 89.2L1185.9 91.5L1186.8 93.7L1187.3 96L1187 98.3L1187.4 100.5L1187.8 102.8L1187.4 105L1187.9 107.3L1188.4 109.6L1187.6 111.8L1188.7 114.1L1188.4 116.4L1188.8 114.1L1188.8 111.9L1190 109.7L1190.6 107.5L1190.7 105.3L1191.4 103.1L1191.9 100.9L1192.3 98.7L1192.7 96.5L1192.8 98.7L1193 100.9L1193 103.1L1192.7 105.3L1192 107.5L1192.2 109.7L1192.6 111.9L1193.2 114.1L1192.9 116.2L1193.4 118.4L1192.9 120.6L1192.7 122.8L1193.3 120.6L1193.4 118.4L1194.4 116.1L1193.7 113.9L1194.8 111.7L1195 109.4L1195.2 107.2L1195.7 163.6L1195.9 146L1196.1 185L1196.2 105L1196.5 102.7L1196.7 100.5L1196.8 98.3L1196.8 96L1197.2 93.8L1198.1 91.6L1197.2 93.8L1197.7 96L1198.4 98.3L1198.9 100.5L1198 102.7L1199 104.9L1199.4 107.2L1199.1 109.4L1199.4 111.6L1198.8 113.8L1198.7 116.1L1199.1 118.3L1199.4 120.5L1199.3 122.7L1199.1 125L1199.6 122.8L1200.1 120.6L1199.7 118.4L1200.7 116.2L1199.8 114.1L1201.5 111.9L1201.8 109.7L1202.4 107.5L1201.4 105.3L1201.8 103.1L1202 101L1202.1 98.8L1202 96.6L1203.5 94.4L1203.4 92.2L1203.4 94.4L1203.5 96.6L1202.8 98.8L1203.6 101L1204.3 103.2L1203.6 105.4L1203.8 107.6L1203 109.7L1203.9 111.9L1203.5 114.1L1203.6 116.3L1203.4 118.5L1204.1 116.4L1204.3 114.3L1205.1 112.2L1205.2 110.1L1205.5 108L1205.7 105.9L1206.5 103.8L1206.4 106.1L1207.6 108.5L1208 110.8L1207.9 113.1L1208.2 115.4L1208.4 113.3L1208.5 111.3L1209 109.2L1209.7 107.1L1209.4 105L1209.3 102.9L1210.2 100.8L1209.9 98.7L1210.6 100.9L1209.8 103.1L1210.6 105.3L1211.6 107.5L1211.5 109.7L1211.6 111.9L1212 114.1L1212.1 116.4L1212.1 114.3L1212.4 112.3L1213.3 110.3L1213.7 108.3L1214.7 106.3L1214.4 104.3L1214.8 102.3L1215.3 104.3L1216.2 106.3L1215.8 108.3L1216.3 110.3L1216.8 112.3L1217.3 114.3L1217.5 116.4L1217.7 114.1L1218 111.8L1217.3 109.5L1217.3 107.3L1217.9 105L1217.4 102.7L1218.7 100.5L1217.9 98.2L1218 95.9L1218.6 93.6L1218.6 91.4L1218.7 89.1L1218.5 86.8L1219 89.2L1218.9 91.6L1219.7 94L1219.9 96.3L1220.5 98.7L1220.6 96.5L1221.8 94.3L1222.5 92.1L1223 94.3L1222.3 96.6L1222.5 98.9L1222.5 101.1L1222.8 103.4L1223.5 101.4L1222.6 99.3L1223.9 97.2L1224 95.2L1224.2 93.1L1224.6 95.3L1224.6 97.6L1225.2 99.8L1225.6 102.1L1226.5 99.6L1226 97.2L1225.8 94.7L1226.1 92.2L1226.9 94.4L1226.4 96.6L1227.8 98.8L1227.7 101.1L1229.1 103.3L1229.4 105.5L1229.2 107.7L1229.3 109.9L1229.7 107.8L1229.6 105.7L1230.2 103.6L1230.5 101.5L1229.9 99.4L1230 97.4L1231.1 95.3L1230.8 93.2L1231.3 91.1L1231.5 89L1231.9 91.1L1232.2 93.2L1232.3 95.3L1233 97.4L1233.6 99.5L1234 101.6L1233.5 103.8L1234 105.9L1234.3 108L1234 110.1L1234.3 112.2L1235.1 114.3L1235.7 116.4L1235.8 118.5L1236.2 116.4L1235.8 114.2L1236.4 112L1236.3 109.9L1236.3 107.7L1236.9 105.6L1236 103.4L1235.9 101.3L1237.7 99.1L1237 97L1237.5 94.8L1237.3 92.7L1237.2 90.5L1237.1 88.3L1237 86.2L1237.9 84L1237.9 81.9L1237.7 84L1238.2 86.2L1238.5 88.3L1238.6 90.5L1238.8 92.7L1239.5 94.8L1239.2 97L1239.3 99.1L1239.3 101.3L1240.1 103.4L1240.2 105.6L1239.6 107.7L1240.2 109.9L1240.2 112L1240.2 114.2L1240.2 116.4L1241.4 118.5L1241.1 120.7L1240.2 122.8L1241.2 125L1241.9 122.8L1242.5 120.6L1242.1 118.4L1242.3 116.2L1242.7 114.1L1243.3 111.9L1243 109.7L1243.6 107.5L1243.2 105.3L1244.5 103.1L1243.9 101L1244.5 98.8L1245.1 96.6L1245.6 94.4L1245.5 92.2L1245.4 94.5L1245.7 96.8L1246.8 99L1246.2 101.3L1246.3 103.5L1246.7 105.8L1247.4 108.1L1247.6 110.3L1248 112.6L1248 114.8L1247.9 117.1L1248.4 119.4L1248.8 121.6L1248.7 123.9L1248.3 121.6L1248.6 119.4L1249 117.1L1249.7 114.8L1249 112.5L1249.2 110.3L1249.3 108L1249.5 105.7L1249.7 103.5L1249.1 101.2L1248.5 98.9L1250 96.7L1249.8 94.4L1249.1 96.6L1250.2 98.8L1250.4 101L1250.7 103.2L1250.1 105.5L1250.8 107.7L1251.1 109.9L1251.3 112.1L1251.7 114.3L1250.9 116.5L1251.5 118.7L1251.5 116.4L1251.9 114.1L1252.3 111.8L1252.9 109.5L1253.1 107.1L1253.1 104.8L1253.3 102.5L1254.3 104.8L1254.1 107.1L1253.7 109.3L1254.9 111.6L1254.1 113.9L1254.4 116.2L1255.2 118.5L1255.1 116.3L1255.1 114.1L1255.2 112L1255.3 109.8L1255 107.6L1255.1 105.4L1255.7 103.2L1255.5 101L1255.4 98.9L1255.1 96.7L1255.5 94.5L1255.1 92.3L1255 90.1L1256 87.9L1255.6 85.8L1256.1 87.9L1256 90L1257 92.2L1256.6 94.3L1257.1 96.5L1257.3 98.6L1257.4 100.8L1257.7 102.9L1258.5 105L1258.5 107.2L1257.6 109.3L1258.6 111.5L1259.3 109.2L1258.6 106.9L1259.5 104.6L1260.5 102.3L1260.4 100L1261.7 97.7L1261.6 95.5L1261.7 97.6L1262.3 99.6L1262.4 101.7L1262.8 103.8L1263.2 105.9L1262.3 108L1263 110.1L1263.3 112.2L1263.9 114.3L1263.8 116.4L1263.8 118.5L1264 116.4L1263.8 114.3L1264 112.2L1264.5 110.1L1265.2 108L1265.5 105.9L1266.3 103.8L1266.1 101.7L1266.6 99.6L1266 97.5L1266.9 95.4L1267 93.3L1267.2 95.4L1267.5 97.5L1268.5 99.6L1268.3 101.7L1268.6 103.8L1269 105.8L1268.8 107.9L1269 110L1270.7 112.1L1270.3 114.2L1270.5 112.1L1270.7 109.9L1271.1 107.8L1271 105.6L1271.3 103.5L1271.3 101.4L1272 99.2L1272.1 97.1L1272.8 94.9L1273.2 92.8L1272.4 90.7L1273.3 88.5L1273.1 86.4L1273.5 84.3L1274.6 86.4L1274 88.5L1274.5 90.7L1274.1 92.8L1275 94.9L1274.4 97.1L1274.4 99.2L1274.1 101.3L1275.3 103.5L1275.3 105.6L1275.6 107.7L1276.4 105.7L1276.6 103.6L1277.7 101.5L1278.3 99.4L1278.6 97.4L1280.5 95.3L1281.3 93.2L1281 91.1L1281.2 93.4L1281.3 95.7L1281.3 98L1281.4 100.3L1280.7 102.5L1281.2 104.8L1281.8 107.1L1281 109.4L1281 111.7L1280.7 113.9L1280.9 116.2L1281 118.5L1280.6 116.2L1281.8 114L1282.7 111.7L1282.8 109.4L1283.1 107.2L1283.5 104.9L1283.9 102.6L1284.2 100.4L1284.1 102.6L1284 104.9L1285.8 107.2L1285.5 109.5L1284.7 111.8L1285.8 114.1L1286.7 112L1286.1 110L1286.8 107.9L1286.6 105.8L1286.5 103.7L1287.3 101.7L1287 99.6L1286.4 97.5L1287.5 95.5L1287.8 97.5L1287.5 99.6L1287.5 101.7L1287.4 103.8L1287.7 105.9L1288.1 108L1287.9 110L1287.7 112.1L1287.5 114.2L1288.1 112L1288.3 109.8L1289.8 107.5L1288.8 105.3L1289.7 103.1L1290.6 100.9L1291.1 103.1L1291.7 105.3L1292.2 107.5L1292.4 109.7L1293.8 111.9L1294 114.1L1294 116.4L1293.3 114.2L1293.8 112L1293.7 109.8L1294.9 107.6L1294.3 105.4L1293.9 103.2L1294.5 101L1294.2 98.8L1294.8 96.6L1295.2 94.5L1294.5 92.3L1295 90.1L1295.5 92.4L1295.8 94.7L1295.7 97L1296.5 99.3L1296.4 101.6L1297.2 104L1297.2 106.3L1297.5 104.1L1297.8 102L1298.9 99.8L1299.1 97.6L1298.9 95.5L1299.4 93.3L1298.1 95.6L1299.5 97.9L1299.2 100.2L1299.6 102.5L1299.4 104.8L1299.3 107.1L1299.2 109.4L1300 111.7L1300 114L1299.4 116.4L1300.1 114.3L1299.3 112.2L1299.8 153L1299.8 110.1L1300.1 108L1299.5 105.9L1300.8 103.8L1300.1 101.7L1301.2 99.6L1300.7 97.5L1301.1 95.5L1301.3 97.6L1300.4 99.8L1300.1 102L1300.8 104.2L1300.5 106.4L1300.5 108.6L1300.9 110.8L1301.2 113L1301.4 115.2L1300.7 117.4L1301.1 119.5L1300.6 117.4L1301.4 115.2L1301.1 113L1301.3 110.8L1301.8 108.6L1302.6 106.4L1302.4 104.2L1301.6 102L1302.7 99.8L1303.6 102L1302.4 104.2L1303.1 106.4L1302.9 108.6L1303.7 110.7L1303.6 112.9L1304.1 115.1L1303.8 117.3L1303.8 119.5L1304.5 121.6L1303.4 123.8L1304.3 126L1303.8 123.8L1303.8 121.5L1304.4 119.3L1304.4 117L1304.3 114.7L1305 112.5L1305 110.2L1304.7 108L1304.3 105.7L1305.9 103.5L1305.2 101.2L1304.9 99L1305.3 96.7L1305.4 94.5L1305.4 92.2L1305.4 94.5L1306.2 96.7L1306.3 98.9L1306.3 101.2L1307.3 103.4L1306.9 105.6L1307.9 107.8L1307.7 110.1L1307.8 112.3L1308.7 114.5L1308.4 116.8L1309 119L1309.6 121.2L1309.2 123.5L1309.4 125.7L1310.2 127.9L1310.6 130.2L1309.6 132.4L1310.8 134.6L1311 132.5L1311.3 130.3L1310.6 128.1L1311.3 125.9L1310.8 123.8L1310.6 121.6L1310.8 119.4L1311.2 117.3L1310.8 115.1L1310.8 112.9L1311 110.7L1311.3 108.6L1310.2 106.4L1311.5 104.2L1311.6 102.1L1310.7 99.9L1311.1 97.7L1311.3 95.5L1311.2 93.4L1311.9 91.2L1311.2 89L1311 86.9L1311.2 84.7L1311.2 86.9L1311.7 89.1L1311.4 91.3L1311.6 93.6L1311.8 95.8L1312.8 98L1312.5 100.2L1311.9 102.4L1312.8 104.7L1311.6 106.9L1312.9 109.1L1313.3 111.3L1313.3 113.5L1313.6 115.8L1313.6 118L1313.4 120.2L1313.7 122.4L1313.9 124.6L1313.5 126.8L1314.2 129.1L1314.5 126.8L1314.2 124.6L1315.1 122.4L1315.9 120.1L1316.1 117.9L1316.5 115.7L1315.4 113.4L1315.6 111.2L1316.2 108.9L1315.8 106.7L1316.6 104.5L1316.3 102.2L1316.9 100L1316.8 97.8L1317.7 95.5L1317.2 93.3L1317.8 95.5L1317.6 97.7L1316.8 99.8L1317.8 102L1317.1 104.2L1316.7 106.4L1317.4 108.5L1317.7 110.7L1316.7 112.9L1317.6 115.1L1317.2 117.3L1317.2 119.4L1317.5 121.6L1317.2 123.8L1317 126L1317.7 128.1L1317.2 130.3L1316.6 128.1L1318.3 125.8L1317.6 123.6L1319 121.3L1318.3 119.1L1319.6 116.8L1318.6 114.6L1320.3 112.3L1320 110L1320.1 107.8L1320.3 105.5L1321.2 103.3L1321 101L1321.6 98.8L1321.6 96.5L1321.9 98.8L1321.5 101.1L1322.9 103.4L1322.3 105.6L1322.6 107.9L1322.8 110.2L1322.9 112.5L1323.8 114.7L1323.4 117L1323.3 119.3L1323.6 121.6L1323.7 123.9L1323.9 121.6L1323.8 119.4L1325 117.1L1324.4 114.9L1325.5 112.6L1325.3 110.4L1325.8 108.1L1325.7 105.9L1325.8 103.6L1327.1 101.4L1326.3 99.1L1326.3 96.9L1327.1 94.7L1327.7 92.4L1326.9 90.2L1327.6 87.9L1327.6 90.2L1328.4 92.4L1328.6 94.7L1328.6 97L1328.4 99.2L1328.9 101.5L1328.7 103.7L1329.3 106L1329.3 108.2L1329.6 110.5L1329.6 112.8L1330.2 115L1330.1 117.3L1330.2 119.5L1330 117.4L1330.9 115.3L1330.5 113.1L1330.3 111L1330.4 108.8L1331.1 106.7L1330.6 104.5L1330.7 102.4L1330.3 100.3L1330.6 98.1L1330.9 100.1L1331.2 102L1331.4 104L1332 106L1331.9 103.9L1332.3 101.7L1332.1 99.6L1333.1 97.5L1333.4 95.4L1332.9 93.3L1333.4 91.1L1333.9 93.3L1333.8 95.5L1334.5 97.7L1334.9 99.9L1334.4 102.1L1334.4 104.3L1335.9 106.5L1336.2 108.7L1336.3 110.9L1336.6 113.1L1336.6 110.8L1336.7 108.5L1336.1 106.2L1337.8 103.9L1336.5 101.6L1337.7 99.4L1337.6 97.1L1338 94.8L1337.5 92.5L1337.9 90.2L1338.4 87.9L1339.2 90.1L1339.3 92.3L1340.4 94.5L1340.5 96.8L1341.8 99L1342.6 101.2L1343.1 103.4L1343.4 101.3L1343.9 99.3L1343.5 97.2L1344.1 95.2L1344.5 93.1L1345.5 91L1345.3 89L1345.2 91.2L1345.6 93.3L1346.3 95.5L1346 97.7L1346.5 99.8L1345.9 102L1346.9 104.2L1346.7 106.3L1347.2 103.8L1347.9 101.3L1348.2 98.8L1348.5 101.2L1347.5 103.6L1348.8 106L1348.2 108.3L1348.9 110.7L1348.5 113.1L1348.7 111L1349.3 108.9L1349 106.9L1349.6 104.8L1350.9 102.7L1350.5 100.7L1351.4 98.6L1351.7 96.5L1351.8 98.7L1351.5 100.9L1352 103.1L1352.1 105.3L1352.6 107.4L1352.3 109.6L1352.4 111.8L1353.3 114L1353.5 116.1L1353.1 118.3L1352.8 120.5L1353.5 122.7L1353.2 124.9L1354.1 127L1353.7 129.2L1353.9 131.4L1353.6 129.2L1353.8 126.9L1353.6 124.7L1354 122.4L1353.6 120.2L1354.2 117.9L1354.5 115.7L1354.4 113.4L1353.9 111.2L1354.4 108.9L1354.2 106.7L1353.8 104.5L1354.4 102.2L1354.8 100L1354.6 97.7L1354.8 100L1354.8 102.4L1354.9 104.7L1355.3 107L1355.7 109.3L1355.8 111.6L1356.4 114L1356.2 116.3L1356.6 114L1356.8 111.8L1356.4 109.5L1356.9 107.3L1356.9 105.1L1357.1 102.8L1357.3 100.6L1358.2 98.3L1357 96.1L1357.7 93.8L1357.8 91.6L1357.6 93.7L1358 95.9L1357.9 98L1358.5 100.2L1357.8 102.3L1357.7 104.5L1358.1 106.6L1358.1 108.8L1357.2 110.9L1358.8 113.1L1357.8 115.2L1358.2 117.4L1359 115.2L1359.2 113L1359.5 110.8L1359.3 108.6L1359.2 106.4L1359.5 104.2L1360.5 102L1360.3 99.8L1360.7 101.8L1361.6 103.7L1361.8 105.7L1362.5 107.7L1362.6 105.6L1363.5 103.6L1363.1 101.5L1363.6 99.5L1363.9 97.4L1364.4 95.4L1364.7 93.3L1365.3 95.4L1365.7 97.4L1366.8 99.5L1367 97.2L1367.4 94.9L1368.6 92.6L1368.5 90.3L1368.6 88L1369 85.8L1369.2 87.8L1369.3 89.9L1370.3 92L1369.8 94.1L1369.7 96.2L1371.8 98.3L1370.2 100.4L1370.5 102.4L1370.5 104.5L1371.1 106.6L1371.5 104.5L1371.3 102.3L1371.5 100.2L1372.4 98L1372.8 95.9L1372.5 93.7L1372.2 91.6L1373 89.4L1372.8 87.3L1373.4 85.1L1373.6 83L1373.2 80.8L1373.9 78.6L1374.3 80.8L1374.1 82.9L1374.1 85L1373.8 87.1L1374.6 89.2L1374.1 91.3L1374.5 93.4L1374.1 95.5L1374.1 97.6L1374.6 99.7L1374.3 97.6L1374.4 95.5L1375 93.4L1375.9 91.3L1376 89.2L1375.4 87.1L1375.6 85.1L1376.1 83L1376.9 85.1L1376.7 87.3L1376.6 89.4L1376.6 91.6L1376.8 93.7L1376.2 95.9L1377 98L1378.2 100.2L1377.6 102.3L1378.5 100.1L1378 97.9L1378.7 95.7L1378.9 93.5L1378.7 91.3L1378.8 89.1L1379.2 86.9L1379.7 84.7L1380.2 86.9L1381 89.1L1380.9 91.2L1381.2 93.4L1381.4 95.6L1382.4 97.8L1382.9 100L1382.7 102.2L1382.9 104.4L1383.4 106.5L1383.9 108.7L1384.1 110.9L1384.6 108.7L1384.6 106.4L1384 104.1L1384.3 101.9L1384.3 99.6L1384.8 97.4L1384.1 95.1L1383.9 92.8L1384.8 90.6L1384.6 88.3L1384.7 86.1L1384.9 83.8L1384.7 81.6L1385.1 79.3L1385.2 81.5L1384.8 83.8L1384.8 86L1385.5 88.2L1385.3 90.4L1385.9 92.7L1385.6 94.9L1385.3 97.1L1385.4 99.3L1385.2 101.6L1385.7 103.8L1386 106L1385.8 108.3L1385.9 110.5L1385.5 112.7L1386.4 114.9L1386.2 117.2L1386.5 119.4L1385.7 121.6L1386.2 123.9L1386.4 121.7L1386.4 119.5L1387.5 117.3L1387.1 115.1L1388.3 113L1387.9 110.8L1387.7 108.6L1388.7 106.4L1389.1 104.3L1388.7 102.1L1388.7 99.9L1389.2 97.7L1389 95.5L1389.3 93.4L1389.1 91.2L1390 89L1390.5 86.8L1390 89.1L1390.6 91.3L1390.6 93.5L1390.9 95.7L1390.6 98L1390.4 100.2L1391 102.4L1390.2 104.7L1389.7 106.9L1390 109.1L1390.3 111.3L1390.7 113.6L1390.9 115.8L1390.1 118L1390.9 120.3L1390.6 122.5L1390.7 124.7L1390.1 126.9L1390.4 129.2L1390.5 131.4L1389.9 129.2L1391 127L1391.1 124.9L1391.7 122.7L1392.1 120.5L1391.6 118.3L1392.5 116.2L1392.8 114L1392.5 111.8L1393.6 109.6L1392.8 107.5L1392.8 105.3L1393.6 103.1L1394.5 100.9L1394.3 98.8L1393.7 96.6L1394.4 94.4L1394.8 92.2L1395.5 94.5L1394.9 96.8L1395.3 99.1L1395.1 101.3L1396.5 103.6L1396.5 105.9L1395.6 108.2L1395.6 110.4L1396.6 112.7L1396.8 115L1396.8 117.3L1397 119.5L1397.2 117.4L1397.2 115.2L1397.9 113.1L1398 110.9L1398.4 108.8L1398.4 106.6L1398 104.5L1398.2 102.3L1398.5 100.2L1398.8 98L1398.7 95.9L1399.1 93.7L1399.1 95.9L1399.7 98L1399.9 100.2L1400.3 102.3L1401.3 104.5L1401.5 106.6L1401.3 108.8L1401.1 106.5L1401.4 104.2L1401.3 102L1401.1 99.7L1401.7 97.4L1400.7 95.2L1401.6 92.9L1401.4 90.6L1401.1 88.4L1401.8 86.1L1402 83.8L1401.7 81.6L1401.7 79.3L1402.4 81.4L1402.4 83.4L1403.5 85.5L1404.5 87.6L1404 89.7L1405.8 91.8L1404.8 93.8L1406.4 95.9L1406.7 98L1406.6 95.8L1407.1 93.5L1407.3 91.3L1407.5 89.1L1407.8 86.8L1408.6 88.8L1408.7 90.9L1409.4 92.9L1409.9 94.9L1410.8 92.8L1410.7 90.8L1410.3 88.8L1411.4 86.7L1412.1 84.7L1411.8 86.9L1411.7 89.1L1412.3 91.3L1412.1 93.5L1411.7 95.7L1411.8 97.9L1411.5 100.1L1412.1 102.3L1412.2 100.1L1413.5 97.9L1412.4 95.7L1414.2 93.6L1413.8 91.4L1414.1 89.2L1414.3 87L1414.4 84.8L1415.5 82.6L1415.5 80.4L1415.7 78.2L1416.4 76.1L1416.4 78.2L1417.1 80.4L1416.4 82.6L1416.5 84.8L1417.2 87L1416.4 89.1L1417.2 91.3L1417.8 93.5L1417 95.7L1416.4 97.9L1417.5 100L1417.1 102.2L1417.8 104.4L1417.5 106.6L1417.5 108.8L1417.8 106.4L1417.6 104.1L1418.7 101.8L1418.7 99.5L1418.9 97.2L1419.2 94.9L1419.5 92.5L1419.6 90.2L1419.8 92.5L1419.8 94.7L1419.4 96.9L1419.9 99.2L1420.2 101.4L1420.9 103.7L1421 105.9L1420.4 108.2L1420.7 110.4L1420.8 112.6L1421.3 114.9L1421.4 117.1L1421.7 119.4L1421.3 121.6L1421.8 123.9L1421.7 121.7L1422.6 119.5L1421.4 117.3L1422.5 115.2L1422.3 113L1422.4 110.8L1422.1 108.7L1422.1 106.5L1422.4 104.3L1422.1 102.2L1422.2 100L1422.1 97.8L1422.4 95.7L1422.3 93.5L1422.3 91.3L1422.6 89.1L1422.5 87L1422 84.8L1422.5 82.6L1423.1 80.5L1422.8 78.3L1423.2 76.1L1422 74L1422.9 71.8L1422 69.6L1423 67.5L1422.8 65.3L1422.7 67.5L1423 69.7L1423.3 71.9L1422.9 74.1L1423.1 76.3L1423.3 78.5L1423.9 80.7L1424.2 82.9L1423.5 85.1L1423.6 87.3L1424 89.5L1423.7 91.7L1423.7 93.9L1424.5 96.1L1424.2 98.3L1425.2 100.5L1424.3 102.7L1425.3 105L1425.4 107.2L1424.9 109.4L1425.2 111.6L1424.2 113.8L1425.4 116L1425.4 118.2L1425.2 120.4L1426.2 122.6L1424.8 124.8L1426.1 127L1426 129.2L1426.1 131.4L1426.3 129.2L1425.8 127L1426.7 124.7L1426.4 122.5L1426.8 120.3L1427.2 118.1L1426.7 115.9L1426 113.7L1427.4 111.5L1427.5 109.2L1427.5 107L1427.4 104.8L1427.5 102.6L1428 100.4L1428.3 98.2L1428.1 95.9L1428.9 93.7L1428.4 91.5L1428.9 89.3L1428.7 87.1L1428.9 84.9L1429.4 82.6L1429.5 80.4L1429.3 78.2L1429.9 80.4L1429.9 82.7L1429.5 84.9L1429.8 87.1L1429.8 89.4L1429.8 91.6L1430 93.8L1429.8 96L1429.9 98.3L1430.1 100.5L1429.6 102.7L1430.3 104.9L1430.4 107.2L1429.3 109.4L1430.1 111.6L1430.5 109.3L1430 107.1L1430.1 104.8L1430.7 102.5L1430.2 100.2L1430.8 97.9L1430.5 95.6L1430.8 93.3L1430.6 95.5L1431.9 97.7L1431.2 99.8L1431.2 102L1431.7 104.2L1432.7 106.4L1431.6 108.6L1432.9 110.8L1432.4 112.9L1432.9 115.1L1433 117.3L1433.7 119.5L1433.2 121.7L1433.6 123.9L1434.5 121.6L1433.8 119.3L1433.5 117L1434.3 114.7L1434.6 112.4L1434.7 110.1L1435 107.8L1434.6 105.5L1435.4 103.2L1435.3 100.9L1435.1 98.6L1435.5 100.5L1436.5 102.5L1436.6 100.4L1436.7 98.3L1437.2 96.3L1437.6 94.2L1437.6 92.1L1437.9 90.1L1437.9 92.4L1438.3 94.7L1438.3 97.1L1438.5 99.4L1436.8 101.8L1437.7 104.1L1437.7 106.4L1437.9 108.8L1438.1 106.5L1438.3 104.3L1438.6 102L1439.6 99.8L1440.2 97.6L1439.6 95.3L1440.6 93.1L1440.6 90.9L1440.3 93.1L1441.8 95.4L1442.7 97.7L1442.8 99.9L1442.6 102.2L1443.3 104.5L1443.1 102.3L1443.4 100.1L1444.1 97.8L1443.8 95.6L1443.8 93.4L1444 91.2L1443.5 89L1444 86.8L1443.6 89L1444.7 91.1L1445.1 93.2L1445.9 95.3L1446.2 97.5L1447.9 99.6L1447.1 101.7L1447.7 99.6L1448.4 97.5L1449.9 95.4L1450.2 93.3L1450.9 91.1L1451.7 93.4L1451.7 95.6L1451.2 97.8L1451.2 100L1450.3 102.2L1451.4 104.4L1450.9 106.6L1451.4 104.6L1452 102.5L1452.6 100.5L1452.7 98.5L1452.7 96.4L1453.3 94.4L1453.8 92.3L1454.1 94.4L1455.4 96.5L1455.6 98.6L1456.1 100.7L1456.7 98.4L1457.1 96.1L1457.8 93.8L1458 91.5L1459 89.2L1459.5 86.8L1459.1 89.1L1459.6 91.4L1459.4 93.7L1459.7 96L1460 98.3L1459.7 100.6L1459.6 102.9L1459.9 105.2L1459.3 107.5L1459.5 109.8L1459.9 107.6L1460.5 105.4L1460.2 103.1L1460.9 100.9L1462.3 98.6L1462 96.4L1462.4 94.2L1462.9 91.9L1463 89.7L1463.3 87.4L1463.8 85.2L1464.2 83L1464.9 85.1L1465.3 87.2L1464.6 89.2L1464.9 91.3L1465.3 93.4L1465.3 95.5L1466.7 94.9L1466.7 97.3L1467.5 99.7L1468.2 102.1L1468.1 104.5L1468.9 102.4L1469.7 100.3L1468.9 98.3L1469.3 96.2L1469.9 94.1L1469.9 92.1L1470.5 90L1470.3 87.9L1470.5 90L1469.9 92.1L1470.3 94.3L1470.1 96.4L1470.9 98.5L1471.5 100.6L1471 102.7L1471.5 100.5L1471.4 98.3L1471 96L1472.1 93.8L1472 91.5L1472.3 89.3L1472.8 87.1L1474 84.8L1473.1 82.6L1473.5 80.4L1473.3 82.6L1473.2 84.9L1474.2 87.2L1473.5 89.5L1473.2 91.8L1473.9 94L1474.3 96.3L1473.8 98.6L1474.3 100.9L1473.8 103.1L1475 105.4L1474.6 107.7L1474.4 105.4L1475.1 103.2L1475 100.9L1475.4 98.7L1475.9 96.4L1475.8 94.2L1476.3 91.9L1477 89.7L1477.8 87.4L1477.4 85.2L1477.3 82.9L1477.6 80.7L1477.3 78.4L1477.6 76.2L1478.2 73.9L1477.9 76.1L1478.6 78.3L1478.5 80.4L1478.5 82.6L1479.7 84.8L1478.9 87L1479.3 89.1L1479.3 91.3L1479.2 93.5L1479.5 95.7L1478.8 97.9L1479.5 100L1480 102.2L1480.3 104.4L1479.7 106.6L1480.4 108.7L1480 110.9L1480.6 108.7L1480.3 106.6L1480.1 104.4L1481.1 102.2L1481 100L1481.9 97.8L1481.9 95.6L1481.4 93.4L1482 91.3L1482.6 89.1L1483.2 86.9L1482 84.7L1483.2 82.5L1483.7 84.7L1483.2 86.9L1483.8 89.1L1483.8 91.3L1484.8 93.5L1484.8 95.7L1485.6 97.9L1485.6 100.1L1485.3 102.3L1485.4 100.2L1485.1 98.1L1486.2 96L1486.4 94L1487 91.9L1487 89.8L1487.4 87.7L1488.3 85.6L1488.4 83.5L1488.6 81.5L1488.6 83.5L1489.3 85.6L1489.1 87.7L1489.7 89.8L1490.3 91.9L1490 94L1490 96.1L1490.8 98.2L1490.9 100.3L1492 102.4L1491.5 104.5L1491.8 106.6L1491.8 104.4L1491.9 102.2L1491.7 100L1492.6 97.8L1493.2 95.6L1493.1 93.4L1493.9 91.2L1494 89L1494.7 91.2L1494.9 93.5L1494.7 95.8L1495 98L1496 100.3L1495.8 102.5L1496.3 104.8L1496.6 102.5L1497.1 100.2L1498.3 97.9L1497.5 95.6L1498.7 93.3L1498.9 95.5L1498.9 97.7L1498.9 99.9L1498.9 102.1L1498.9 104.3L1498.9 106.5L1498.4 108.7L1498.7 110.9" fill="none" stroke="#388600" stroke-width="1.5" stroke-linejoin="round" marker-start="url(#mD)" marker-mid="url(#mD)" marker-end="url(#mD)"/>
</g>
<rect x="902.9" y="46.5" width="596" height="339" fill="none" stroke="#d2d2d2" stroke-width="1.3"/>
<path d="M903.1 287.8V126.7" stroke="#8f8fee" stroke-width="1" fill="none"/>
<g font-family="'Liberation Sans', Arial, Helvetica, sans-serif" font-size="24.4" fill="#3c3c3c" stroke="#3c3c3c" stroke-width="0.12" stroke-linejoin="round">
<text transform="translate(893.4,381.7) scale(0.89,1)" text-anchor="end">2</text>
<text transform="translate(893.4,324.5) scale(0.89,1)" text-anchor="end">4</text>
<text transform="translate(893.4,267.2) scale(0.89,1)" text-anchor="end">6</text>
<text transform="translate(893.4,210) scale(0.89,1)" text-anchor="end">8</text>
<text transform="translate(893.4,152.7) scale(0.89,1)" text-anchor="end">10</text>
<text transform="translate(893.4,95.5) scale(0.89,1)" text-anchor="end">12</text>
<text transform="translate(902,412.7) scale(0.89,1)" text-anchor="middle">0</text>
<text transform="translate(1021.2,412.7) scale(0.89,1)" text-anchor="middle">50</text>
<text transform="translate(1140.4,412.7) scale(0.89,1)" text-anchor="middle">100</text>
<text transform="translate(1259.6,412.7) scale(0.89,1)" text-anchor="middle">150</text>
<text transform="translate(1378.8,412.7) scale(0.89,1)" text-anchor="middle">200</text>
<text transform="translate(1498,412.7) scale(0.89,1)" text-anchor="middle">250</text>
<text x="1200" y="441.6" font-size="24.7" text-anchor="middle">Time (s)</text>
<text transform="translate(853,217.2) rotate(-90)" font-size="24.7" text-anchor="middle">Shear rate(<tspan font-family="'DejaVu Sans', 'Liberation Sans', sans-serif" font-style="italic" font-size="24.0">s</tspan><tspan font-family="'DejaVu Sans', 'Liberation Sans', sans-serif" dx="2.3" dy="-7" font-size="16.8">−</tspan><tspan font-family="'DejaVu Sans', 'Liberation Sans', sans-serif" dx="2.2" font-size="16.8">1</tspan><tspan dx="0.8" dy="7">)</tspan></text>
</g>
</g>
<text transform="translate(1.5,33.0) scale(1.04,1)" font-family="'Liberation Sans', Arial, Helvetica, sans-serif" font-weight="bold" font-size="43" fill="#000">A</text>
<text transform="translate(795.1,33.0) scale(1.0,1)" font-family="'Liberation Sans', Arial, Helvetica, sans-serif" font-weight="bold" font-size="43" fill="#000">B</text>
</g>
<use href="#fig" filter="url(#soft)" opacity="0.6" pointer-events="none"/>
</svg>
</body>
</html>
